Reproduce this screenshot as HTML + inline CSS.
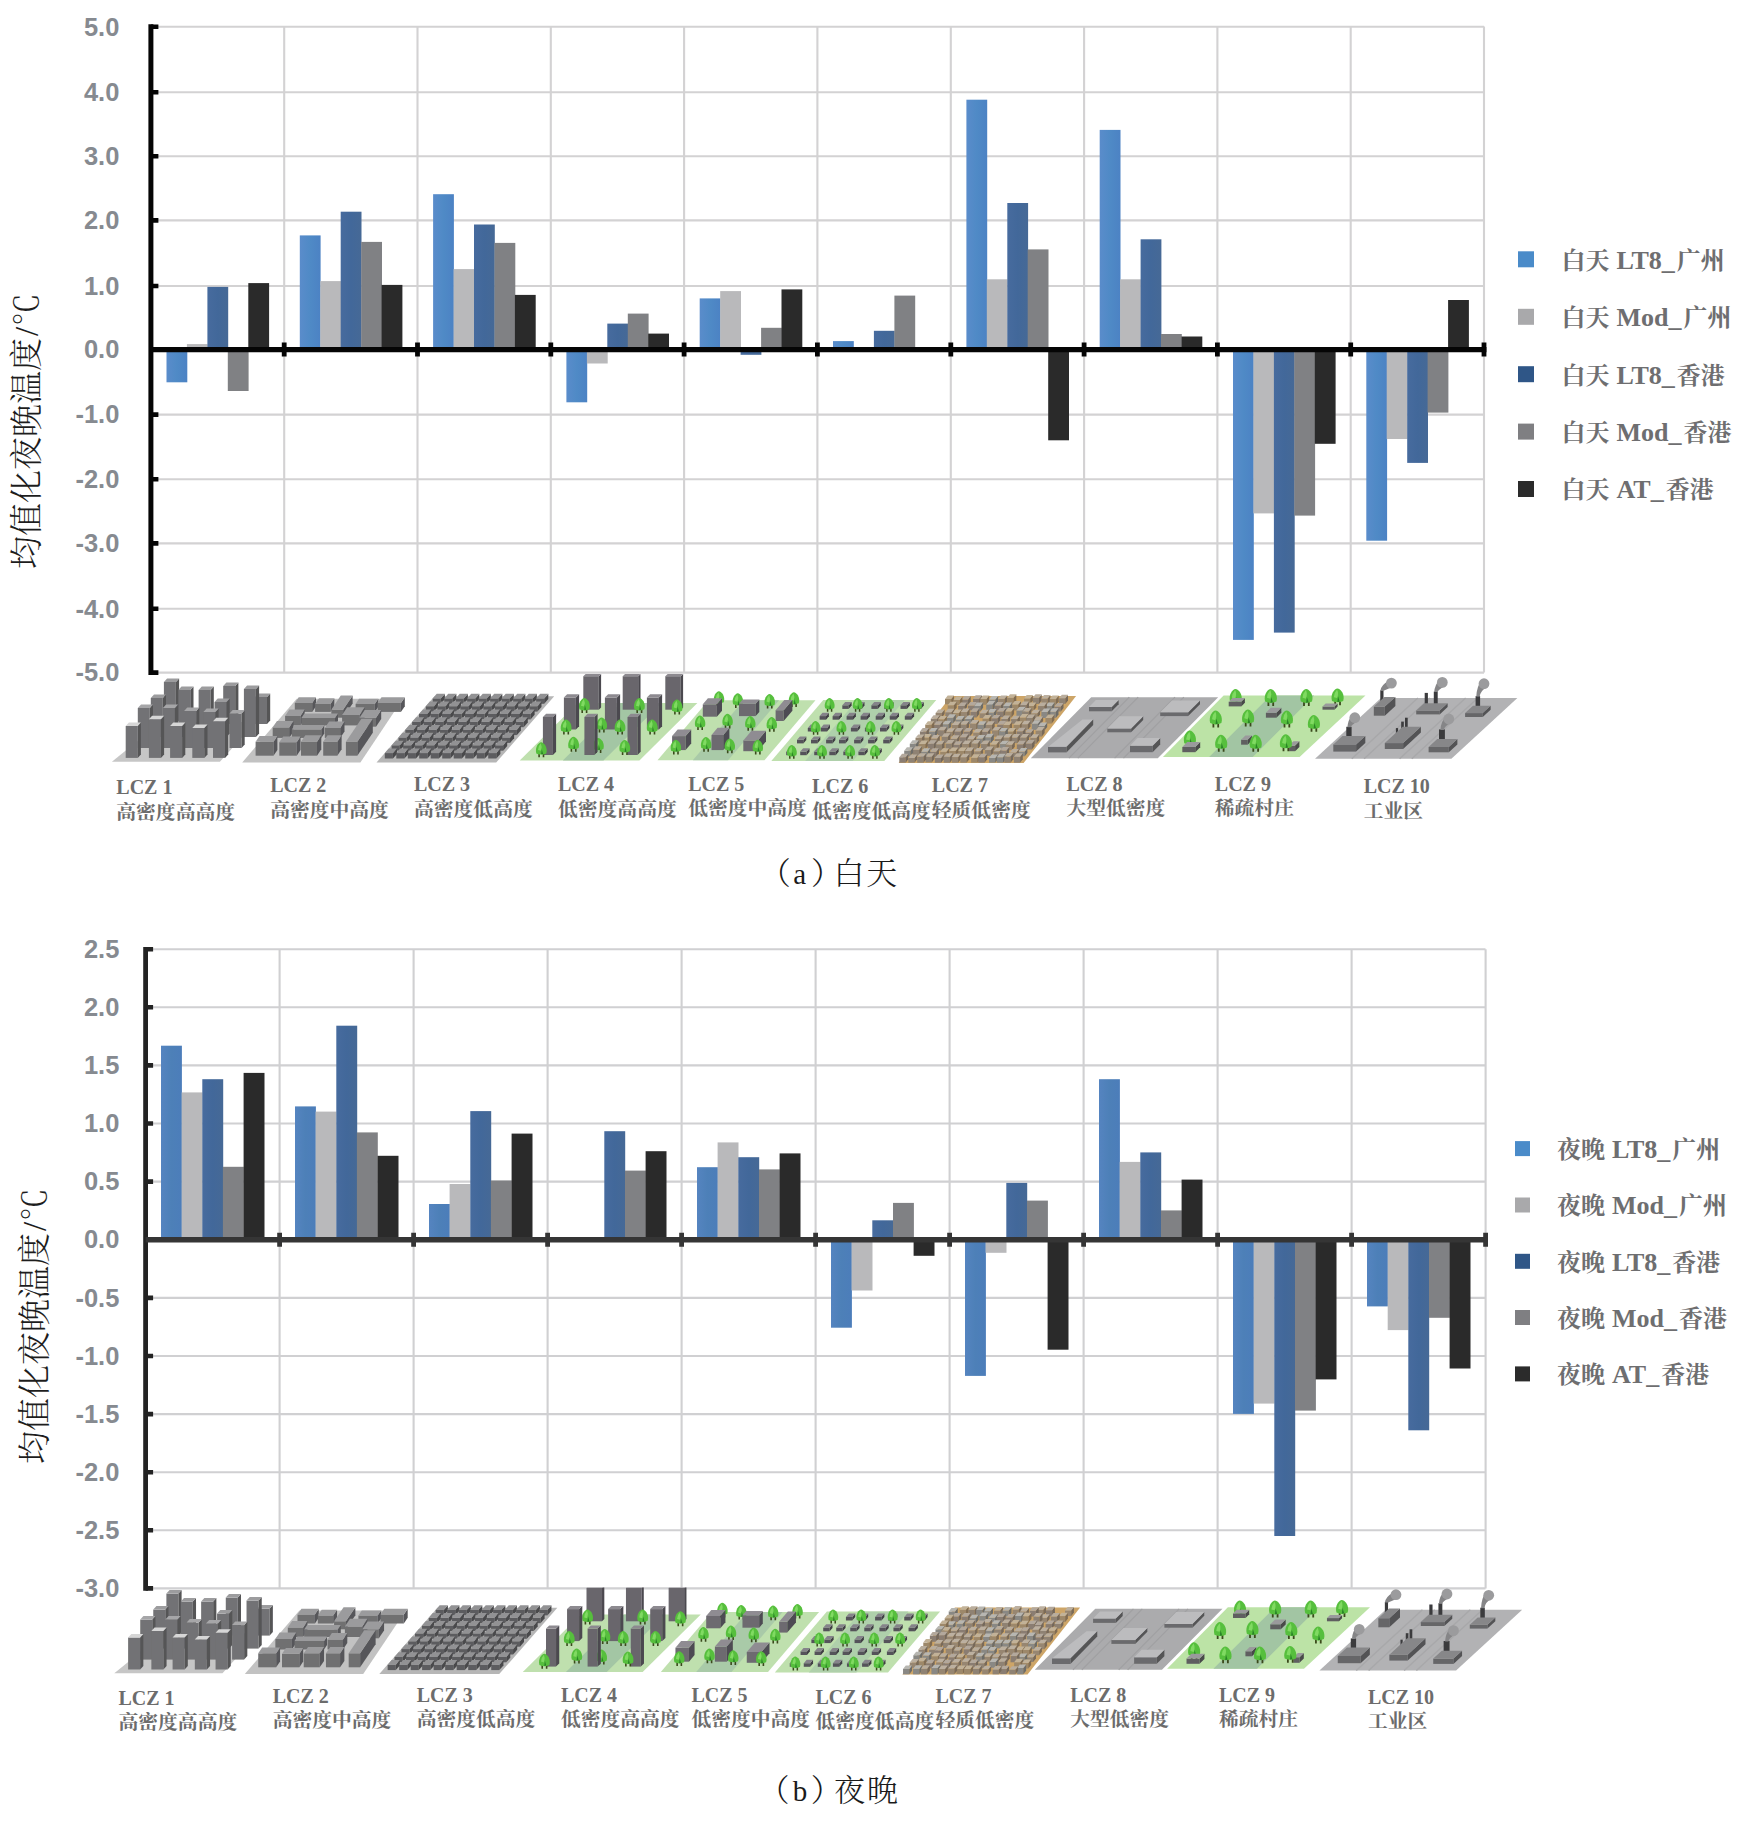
<!DOCTYPE html>
<html lang="zh"><head><meta charset="utf-8"><title>LCZ 均值化温度</title>
<style>
html,body{margin:0;padding:0;background:#fff}
body{width:1762px;height:1824px;overflow:hidden}
svg{display:block}
</style></head><body>
<svg width="1762" height="1824" viewBox="0 0 1762 1824">
<defs>
<linearGradient id="gB" x1="0" x2="1" y1="0" y2="0"><stop offset="0" stop-color="#5a8ccb"/><stop offset="0.5" stop-color="#4f8ac6"/><stop offset="1" stop-color="#4c82c4"/></linearGradient>
<linearGradient id="gD" x1="0" x2="1" y1="0" y2="0"><stop offset="0" stop-color="#476b9e"/><stop offset="0.5" stop-color="#42689a"/><stop offset="1" stop-color="#466996"/></linearGradient>
<linearGradient id="gB2" x1="0" x2="1" y1="0" y2="0"><stop offset="0" stop-color="#5584c0"/><stop offset="0.5" stop-color="#4d80b8"/><stop offset="1" stop-color="#4c7dba"/></linearGradient>
<clipPath id="cpb"><rect x="0" y="1587.6" width="1762" height="120"/></clipPath>
<filter id="bl" x="-2%" y="-10%" width="104%" height="120%"><feGaussianBlur stdDeviation="0.55"/></filter>
</defs>
<rect width="1762" height="1824" fill="#ffffff"/>

<g id="chart-a">
<path d="M150.9 26.8H1484.0M150.9 92.2H1484.0M150.9 156.2H1484.0M150.9 220.4H1484.0M150.9 286.0H1484.0M150.9 349.6H1484.0M150.9 414.6H1484.0M150.9 479.2H1484.0M150.9 543.4H1484.0M150.9 608.8H1484.0M150.9 672.6H1484.0M284.2 26.6V672.6M417.5 26.6V672.6M550.8 26.6V672.6M684.1 26.6V672.6M817.4 26.6V672.6M950.8 26.6V672.6M1084.1 26.6V672.6M1217.4 26.6V672.6M1350.7 26.6V672.6M1484.0 26.6V672.6" stroke="#d3d2d3" stroke-width="2.1" fill="none"/>
<rect x="166.5" y="349.6" width="20.8" height="32.7" fill="url(#gB)"/>
<rect x="186.9" y="344.1" width="20.8" height="5.5" fill="#b9b9bb"/>
<rect x="207.4" y="286.9" width="20.8" height="62.7" fill="url(#gD)"/>
<rect x="227.8" y="349.6" width="20.8" height="41.4" fill="#808184"/>
<rect x="248.3" y="283.1" width="20.8" height="66.5" fill="#2a2a2a"/>
<rect x="299.8" y="235.4" width="20.8" height="114.2" fill="url(#gB)"/>
<rect x="320.3" y="281.1" width="20.8" height="68.5" fill="#b9b9bb"/>
<rect x="340.7" y="211.7" width="20.8" height="137.9" fill="url(#gD)"/>
<rect x="361.2" y="241.9" width="20.8" height="107.7" fill="#808184"/>
<rect x="381.6" y="284.9" width="20.8" height="64.7" fill="#2a2a2a"/>
<rect x="433.1" y="194.2" width="20.8" height="155.4" fill="url(#gB)"/>
<rect x="453.6" y="269.1" width="20.8" height="80.5" fill="#b9b9bb"/>
<rect x="474.0" y="224.5" width="20.8" height="125.1" fill="url(#gD)"/>
<rect x="494.5" y="242.9" width="20.8" height="106.7" fill="#808184"/>
<rect x="514.9" y="294.9" width="20.8" height="54.7" fill="#2a2a2a"/>
<rect x="566.4" y="349.6" width="20.8" height="52.7" fill="url(#gB)"/>
<rect x="586.9" y="349.6" width="20.8" height="13.9" fill="#b9b9bb"/>
<rect x="607.3" y="323.6" width="20.8" height="26.0" fill="url(#gD)"/>
<rect x="627.8" y="313.6" width="20.8" height="36.0" fill="#808184"/>
<rect x="648.2" y="333.6" width="20.8" height="16.0" fill="#2a2a2a"/>
<rect x="699.7" y="298.4" width="20.8" height="51.2" fill="url(#gB)"/>
<rect x="720.2" y="291.1" width="20.8" height="58.5" fill="#b9b9bb"/>
<rect x="740.6" y="349.6" width="20.8" height="5.2" fill="url(#gD)"/>
<rect x="761.1" y="327.8" width="20.8" height="21.8" fill="#808184"/>
<rect x="781.5" y="289.4" width="20.8" height="60.2" fill="#2a2a2a"/>
<rect x="833.0" y="341.1" width="20.8" height="8.5" fill="url(#gB)"/>
<rect x="873.9" y="330.8" width="20.8" height="18.8" fill="url(#gD)"/>
<rect x="894.4" y="295.6" width="20.8" height="54.0" fill="#808184"/>
<rect x="966.4" y="99.7" width="20.8" height="249.9" fill="url(#gB)"/>
<rect x="986.8" y="279.3" width="20.8" height="70.3" fill="#b9b9bb"/>
<rect x="1007.3" y="203.0" width="20.8" height="146.6" fill="url(#gD)"/>
<rect x="1027.7" y="249.4" width="20.8" height="100.2" fill="#808184"/>
<rect x="1048.2" y="349.6" width="20.8" height="90.7" fill="#2a2a2a"/>
<rect x="1099.7" y="129.9" width="20.8" height="219.7" fill="url(#gB)"/>
<rect x="1120.1" y="279.3" width="20.8" height="70.3" fill="#b9b9bb"/>
<rect x="1140.6" y="239.3" width="20.8" height="110.3" fill="url(#gD)"/>
<rect x="1161.0" y="334.0" width="20.8" height="15.6" fill="#808184"/>
<rect x="1181.5" y="336.5" width="20.8" height="13.1" fill="#2a2a2a"/>
<rect x="1233.0" y="349.6" width="20.8" height="290.3" fill="url(#gB)"/>
<rect x="1253.4" y="349.6" width="20.8" height="163.8" fill="#b9b9bb"/>
<rect x="1273.9" y="349.6" width="20.8" height="283.0" fill="url(#gD)"/>
<rect x="1294.3" y="349.6" width="20.8" height="166.0" fill="#808184"/>
<rect x="1314.8" y="349.6" width="20.8" height="94.2" fill="#2a2a2a"/>
<rect x="1366.3" y="349.6" width="20.8" height="191.1" fill="url(#gB)"/>
<rect x="1386.7" y="349.6" width="20.8" height="89.4" fill="#b9b9bb"/>
<rect x="1407.2" y="349.6" width="20.8" height="113.3" fill="url(#gD)"/>
<rect x="1427.6" y="349.6" width="20.8" height="63.0" fill="#808184"/>
<rect x="1448.1" y="300.0" width="20.8" height="49.6" fill="#2a2a2a"/>
<path d="M150.9 26.8h7.5M150.9 92.2h7.5M150.9 156.2h7.5M150.9 220.4h7.5M150.9 286.0h7.5M150.9 349.6h7.5M150.9 414.6h7.5M150.9 479.2h7.5M150.9 543.4h7.5M150.9 608.8h7.5M150.9 672.6h7.5" stroke="#050505" stroke-width="4.6" fill="none"/>
<path d="M150.9 24.3V674.9" stroke="#050505" stroke-width="5.0" fill="none"/>
<path d="M150.9 349.6H1486.4" stroke="#050505" stroke-width="5.4" fill="none"/>
<path d="M284.2 342.6v14M417.5 342.6v14M550.8 342.6v14M684.1 342.6v14M817.4 342.6v14M950.8 342.6v14M1084.1 342.6v14M1217.4 342.6v14M1350.7 342.6v14M1484.0 342.6v14" stroke="#050505" stroke-width="4.8" fill="none"/>
<text x="119.4" y="35.5" text-anchor="end" font-family='"Liberation Sans","Noto Sans CJK SC",sans-serif' font-weight="700" font-size="25.5" fill="#868a90">5.0</text>
<text x="119.4" y="100.9" text-anchor="end" font-family='"Liberation Sans","Noto Sans CJK SC",sans-serif' font-weight="700" font-size="25.5" fill="#868a90">4.0</text>
<text x="119.4" y="164.9" text-anchor="end" font-family='"Liberation Sans","Noto Sans CJK SC",sans-serif' font-weight="700" font-size="25.5" fill="#868a90">3.0</text>
<text x="119.4" y="229.1" text-anchor="end" font-family='"Liberation Sans","Noto Sans CJK SC",sans-serif' font-weight="700" font-size="25.5" fill="#868a90">2.0</text>
<text x="119.4" y="294.7" text-anchor="end" font-family='"Liberation Sans","Noto Sans CJK SC",sans-serif' font-weight="700" font-size="25.5" fill="#868a90">1.0</text>
<text x="119.4" y="358.3" text-anchor="end" font-family='"Liberation Sans","Noto Sans CJK SC",sans-serif' font-weight="700" font-size="25.5" fill="#868a90">0.0</text>
<text x="119.4" y="423.3" text-anchor="end" font-family='"Liberation Sans","Noto Sans CJK SC",sans-serif' font-weight="700" font-size="25.5" fill="#868a90">-1.0</text>
<text x="119.4" y="487.9" text-anchor="end" font-family='"Liberation Sans","Noto Sans CJK SC",sans-serif' font-weight="700" font-size="25.5" fill="#868a90">-2.0</text>
<text x="119.4" y="552.1" text-anchor="end" font-family='"Liberation Sans","Noto Sans CJK SC",sans-serif' font-weight="700" font-size="25.5" fill="#868a90">-3.0</text>
<text x="119.4" y="617.5" text-anchor="end" font-family='"Liberation Sans","Noto Sans CJK SC",sans-serif' font-weight="700" font-size="25.5" fill="#868a90">-4.0</text>
<text x="119.4" y="681.3" text-anchor="end" font-family='"Liberation Sans","Noto Sans CJK SC",sans-serif' font-weight="700" font-size="25.5" fill="#868a90">-5.0</text>
</g>
<g id="strip-a"><g filter="url(#bl)"><polygon points="111.9,761.7 219.9,761.7 255.9,722.0 160.8,722.0" fill="#c6c6c6"/><polygon points="163.9,724.0 175.9,724.0 175.9,682.0 163.9,682.0" fill="#727274"/><polygon points="175.9,724.0 179.1,720.5 179.1,678.5 175.9,682.0" fill="#555557"/><polygon points="163.9,682.0 175.9,682.0 179.1,678.5 167.1,678.5" fill="#9c9c9e"/><polygon points="223.2,724.0 235.2,724.0 235.2,686.0 223.2,686.0" fill="#727274"/><polygon points="235.2,724.0 238.4,720.5 238.4,682.5 235.2,686.0" fill="#555557"/><polygon points="223.2,686.0 235.2,686.0 238.4,682.5 226.4,682.5" fill="#9c9c9e"/><polygon points="255.0,724.0 267.0,724.0 267.0,697.0 255.0,697.0" fill="#727274"/><polygon points="267.0,724.0 270.2,720.5 270.2,693.5 267.0,697.0" fill="#555557"/><polygon points="255.0,697.0 267.0,697.0 270.2,693.5 258.2,693.5" fill="#9c9c9e"/><polygon points="150.8,737.0 162.8,737.0 162.8,698.0 150.8,698.0" fill="#727274"/><polygon points="162.8,737.0 166.0,733.5 166.0,694.5 162.8,698.0" fill="#555557"/><polygon points="150.8,698.0 162.8,698.0 166.0,694.5 154.0,694.5" fill="#9c9c9e"/><polygon points="178.3,737.0 190.3,737.0 190.3,690.0 178.3,690.0" fill="#727274"/><polygon points="190.3,737.0 193.5,733.5 193.5,686.5 190.3,690.0" fill="#555557"/><polygon points="178.3,690.0 190.3,690.0 193.5,686.5 181.5,686.5" fill="#9c9c9e"/><polygon points="198.6,737.0 210.6,737.0 210.6,690.0 198.6,690.0" fill="#727274"/><polygon points="210.6,737.0 213.8,733.5 213.8,686.5 210.6,690.0" fill="#555557"/><polygon points="198.6,690.0 210.6,690.0 213.8,686.5 201.8,686.5" fill="#9c9c9e"/><polygon points="214.5,737.0 226.5,737.0 226.5,702.0 214.5,702.0" fill="#727274"/><polygon points="226.5,737.0 229.7,733.5 229.7,698.5 226.5,702.0" fill="#555557"/><polygon points="214.5,702.0 226.5,702.0 229.7,698.5 217.7,698.5" fill="#9c9c9e"/><polygon points="243.9,737.0 255.9,737.0 255.9,689.0 243.9,689.0" fill="#727274"/><polygon points="255.9,737.0 259.1,733.5 259.1,685.5 255.9,689.0" fill="#555557"/><polygon points="243.9,689.0 255.9,689.0 259.1,685.5 247.1,685.5" fill="#9c9c9e"/><polygon points="137.8,748.0 149.8,748.0 149.8,708.0 137.8,708.0" fill="#727274"/><polygon points="149.8,748.0 153.0,744.5 153.0,704.5 149.8,708.0" fill="#555557"/><polygon points="137.8,708.0 149.8,708.0 153.0,704.5 141.0,704.5" fill="#a6a6a8"/><polygon points="162.9,748.0 174.9,748.0 174.9,708.0 162.9,708.0" fill="#727274"/><polygon points="174.9,748.0 178.1,744.5 178.1,704.5 174.9,708.0" fill="#555557"/><polygon points="162.9,708.0 174.9,708.0 178.1,704.5 166.1,704.5" fill="#a6a6a8"/><polygon points="184.1,748.0 196.1,748.0 196.1,711.0 184.1,711.0" fill="#727274"/><polygon points="196.1,748.0 199.3,744.5 199.3,707.5 196.1,711.0" fill="#555557"/><polygon points="184.1,711.0 196.1,711.0 199.3,707.5 187.3,707.5" fill="#a6a6a8"/><polygon points="203.4,748.0 215.4,748.0 215.4,712.0 203.4,712.0" fill="#727274"/><polygon points="215.4,748.0 218.6,744.5 218.6,708.5 215.4,712.0" fill="#555557"/><polygon points="203.4,712.0 215.4,712.0 218.6,708.5 206.6,708.5" fill="#a6a6a8"/><polygon points="229.5,748.0 241.5,748.0 241.5,713.5 229.5,713.5" fill="#727274"/><polygon points="241.5,748.0 244.7,744.5 244.7,710.0 241.5,713.5" fill="#555557"/><polygon points="229.5,713.5 241.5,713.5 244.7,710.0 232.7,710.0" fill="#a6a6a8"/><polygon points="125.7,757.9 137.7,757.9 137.7,725.9 125.7,725.9" fill="#727274"/><polygon points="137.7,757.9 140.9,754.4 140.9,722.4 137.7,725.9" fill="#555557"/><polygon points="125.7,725.9 137.7,725.9 140.9,722.4 128.9,722.4" fill="#d6d6d6"/><polygon points="148.9,757.9 160.9,757.9 160.9,719.3 148.9,719.3" fill="#727274"/><polygon points="160.9,757.9 164.1,754.4 164.1,715.8 160.9,719.3" fill="#555557"/><polygon points="148.9,719.3 160.9,719.3 164.1,715.8 152.1,715.8" fill="#d6d6d6"/><polygon points="170.1,757.9 182.1,757.9 182.1,725.9 170.1,725.9" fill="#727274"/><polygon points="182.1,757.9 185.3,754.4 185.3,722.4 182.1,725.9" fill="#555557"/><polygon points="170.1,725.9 182.1,725.9 185.3,722.4 173.3,722.4" fill="#d6d6d6"/><polygon points="192.3,757.9 204.3,757.9 204.3,727.9 192.3,727.9" fill="#727274"/><polygon points="204.3,757.9 207.5,754.4 207.5,724.4 204.3,727.9" fill="#555557"/><polygon points="192.3,727.9 204.3,727.9 207.5,724.4 195.5,724.4" fill="#d6d6d6"/><polygon points="213.0,757.9 225.0,757.9 225.0,721.2 213.0,721.2" fill="#727274"/><polygon points="225.0,757.9 228.2,754.4 228.2,717.7 225.0,721.2" fill="#555557"/><polygon points="213.0,721.2 225.0,721.2 228.2,717.7 216.2,717.7" fill="#d6d6d6"/><polygon points="242.2,762.5 360.4,762.5 402.9,698.8 296.7,698.8" fill="#c2c2c2"/><polygon points="294.8,711.9 312.2,711.9 312.2,702.9 294.8,702.9" fill="#6f6f71"/><polygon points="312.2,711.9 316.0,706.2 316.0,697.2 312.2,702.9" fill="#57575a"/><polygon points="294.8,702.9 312.2,702.9 316.0,697.2 298.7,697.2" fill="#9b9b9d"/><polygon points="315.1,711.9 330.5,711.9 330.5,703.9 315.1,703.9" fill="#6f6f71"/><polygon points="330.5,711.9 334.3,706.2 334.3,698.2 330.5,703.9" fill="#57575a"/><polygon points="315.1,703.9 330.5,703.9 334.3,698.2 319.0,698.2" fill="#9b9b9d"/><polygon points="355.6,711.9 374.8,711.9 374.8,703.9 355.6,703.9" fill="#6f6f71"/><polygon points="374.8,711.9 378.3,706.8 378.3,698.8 374.8,703.9" fill="#57575a"/><polygon points="355.6,703.9 374.8,703.9 378.3,698.8 359.0,698.8" fill="#9b9b9d"/><polygon points="377.6,711.9 400.9,711.9 400.9,702.9 377.6,702.9" fill="#6f6f71"/><polygon points="400.9,711.9 404.8,706.2 404.8,697.2 400.9,702.9" fill="#57575a"/><polygon points="377.6,702.9 400.9,702.9 404.8,697.2 381.5,697.2" fill="#9b9b9d"/><polygon points="331.3,717.7 343.1,717.7 343.1,709.7 331.3,709.7" fill="#6f6f71"/><polygon points="343.1,717.7 352.6,703.6 352.6,695.6 343.1,709.7" fill="#57575a"/><polygon points="331.3,709.7 343.1,709.7 352.6,695.6 340.8,695.6" fill="#9b9b9d"/><polygon points="285.1,725.4 300.4,725.4 300.4,715.9 285.1,715.9" fill="#6f6f71"/><polygon points="300.4,725.4 304.7,719.0 304.7,709.5 300.4,715.9" fill="#57575a"/><polygon points="285.1,715.9 300.4,715.9 304.7,709.5 289.4,709.5" fill="#9b9b9d"/><polygon points="301.4,725.4 335.0,725.4 335.0,717.9 301.4,717.9" fill="#6f6f71"/><polygon points="335.0,725.4 338.0,720.9 338.0,713.4 335.0,717.9" fill="#57575a"/><polygon points="301.4,717.9 335.0,717.9 338.0,713.4 304.4,713.4" fill="#9b9b9d"/><polygon points="342.1,725.4 359.4,725.4 359.4,714.9 342.1,714.9" fill="#6f6f71"/><polygon points="359.4,725.4 364.6,717.7 364.6,707.2 359.4,714.9" fill="#57575a"/><polygon points="342.1,714.9 359.4,714.9 364.6,707.2 347.2,707.2" fill="#9b9b9d"/><polygon points="359.5,726.7 376.0,726.7 376.0,717.7 359.5,717.7" fill="#6f6f71"/><polygon points="376.0,726.7 381.2,719.0 381.2,710.0 376.0,717.7" fill="#57575a"/><polygon points="359.5,717.7 376.0,717.7 381.2,710.0 364.7,710.0" fill="#9b9b9d"/><polygon points="272.7,737.9 289.2,737.9 289.2,727.4 272.7,727.4" fill="#6f6f71"/><polygon points="289.2,737.9 293.5,731.5 293.5,721.0 289.2,727.4" fill="#57575a"/><polygon points="272.7,727.4 289.2,727.4 293.5,721.0 277.0,721.0" fill="#9b9b9d"/><polygon points="291.8,737.9 321.3,737.9 321.3,729.4 291.8,729.4" fill="#6f6f71"/><polygon points="321.3,737.9 324.3,733.4 324.3,724.9 321.3,729.4" fill="#57575a"/><polygon points="291.8,729.4 321.3,729.4 324.3,724.9 294.8,724.9" fill="#9b9b9d"/><polygon points="324.8,737.9 340.2,737.9 340.2,727.9 324.8,727.9" fill="#6f6f71"/><polygon points="340.2,737.9 344.5,731.5 344.5,721.5 340.2,727.9" fill="#57575a"/><polygon points="324.8,727.9 340.2,727.9 344.5,721.5 329.1,721.5" fill="#9b9b9d"/><polygon points="255.6,755.7 273.5,755.7 273.5,741.7 255.6,741.7" fill="#6f6f71"/><polygon points="273.5,755.7 277.4,750.0 277.4,736.0 273.5,741.7" fill="#57575a"/><polygon points="255.6,741.7 273.5,741.7 277.4,736.0 259.5,736.0" fill="#9b9b9d"/><polygon points="279.3,755.7 296.7,755.7 296.7,742.2 279.3,742.2" fill="#6f6f71"/><polygon points="296.7,755.7 300.5,750.0 300.5,736.5 296.7,742.2" fill="#57575a"/><polygon points="279.3,742.2 296.7,742.2 300.5,736.5 283.2,736.5" fill="#9b9b9d"/><polygon points="301.0,755.7 317.0,755.7 317.0,741.7 301.0,741.7" fill="#6f6f71"/><polygon points="317.0,755.7 321.3,749.3 321.3,735.3 317.0,741.7" fill="#57575a"/><polygon points="301.0,741.7 317.0,741.7 321.3,735.3 305.3,735.3" fill="#9b9b9d"/><polygon points="323.2,755.7 337.3,755.7 337.3,741.7 323.2,741.7" fill="#6f6f71"/><polygon points="337.3,755.7 341.6,749.3 341.6,735.3 337.3,741.7" fill="#57575a"/><polygon points="323.2,741.7 337.3,741.7 341.6,735.3 327.5,735.3" fill="#9b9b9d"/><polygon points="345.9,755.7 357.3,755.7 357.3,741.7 345.9,741.7" fill="#6f6f71"/><polygon points="357.3,755.7 372.8,732.7 372.8,718.7 357.3,741.7" fill="#57575a"/><polygon points="345.9,741.7 357.3,741.7 372.8,718.7 361.4,718.7" fill="#9b9b9d"/><polygon points="376.5,762.5 496.2,762.5 554.2,696.2 434.5,696.2" fill="#b6b6b6"/><polygon points="432.7,703.8 440.8,703.8 440.8,698.4 432.7,698.4" fill="#5c5c5e"/><polygon points="440.8,703.8 444.9,699.1 444.9,693.7 440.8,698.4" fill="#4a4a4c"/><polygon points="432.7,698.4 440.8,698.4 444.9,693.7 436.7,693.7" fill="#929294"/><polygon points="444.2,703.8 452.3,703.8 452.3,698.4 444.2,698.4" fill="#5c5c5e"/><polygon points="452.3,703.8 456.4,699.1 456.4,693.7 452.3,698.4" fill="#4a4a4c"/><polygon points="444.2,698.4 452.3,698.4 456.4,693.7 448.2,693.7" fill="#929294"/><polygon points="455.7,703.8 463.8,703.8 463.8,698.4 455.7,698.4" fill="#5c5c5e"/><polygon points="463.8,703.8 467.9,699.1 467.9,693.7 463.8,698.4" fill="#4a4a4c"/><polygon points="455.7,698.4 463.8,698.4 467.9,693.7 459.7,693.7" fill="#929294"/><polygon points="467.1,703.8 475.3,703.8 475.3,698.4 467.1,698.4" fill="#5c5c5e"/><polygon points="475.3,703.8 479.3,699.1 479.3,693.7 475.3,698.4" fill="#4a4a4c"/><polygon points="467.1,698.4 475.3,698.4 479.3,693.7 471.2,693.7" fill="#929294"/><polygon points="478.6,703.8 486.8,703.8 486.8,698.4 478.6,698.4" fill="#5c5c5e"/><polygon points="486.8,703.8 490.8,699.1 490.8,693.7 486.8,698.4" fill="#4a4a4c"/><polygon points="478.6,698.4 486.8,698.4 490.8,693.7 482.7,693.7" fill="#929294"/><polygon points="490.1,703.8 498.3,703.8 498.3,698.4 490.1,698.4" fill="#5c5c5e"/><polygon points="498.3,703.8 502.3,699.1 502.3,693.7 498.3,698.4" fill="#4a4a4c"/><polygon points="490.1,698.4 498.3,698.4 502.3,693.7 494.2,693.7" fill="#929294"/><polygon points="501.6,703.8 509.8,703.8 509.8,698.4 501.6,698.4" fill="#5c5c5e"/><polygon points="509.8,703.8 513.8,699.1 513.8,693.7 509.8,698.4" fill="#4a4a4c"/><polygon points="501.6,698.4 509.8,698.4 513.8,693.7 505.7,693.7" fill="#929294"/><polygon points="513.1,703.8 521.3,703.8 521.3,698.4 513.1,698.4" fill="#5c5c5e"/><polygon points="521.3,703.8 525.3,699.1 525.3,693.7 521.3,698.4" fill="#4a4a4c"/><polygon points="513.1,698.4 521.3,698.4 525.3,693.7 517.2,693.7" fill="#929294"/><polygon points="524.6,703.8 532.7,703.8 532.7,698.4 524.6,698.4" fill="#5c5c5e"/><polygon points="532.7,703.8 536.8,699.1 536.8,693.7 532.7,698.4" fill="#4a4a4c"/><polygon points="524.6,698.4 532.7,698.4 536.8,693.7 528.7,693.7" fill="#929294"/><polygon points="536.1,703.8 544.2,703.8 544.2,698.4 536.1,698.4" fill="#5c5c5e"/><polygon points="544.2,703.8 548.3,699.1 548.3,693.7 544.2,698.4" fill="#4a4a4c"/><polygon points="536.1,698.4 544.2,698.4 548.3,693.7 540.2,693.7" fill="#929294"/><polygon points="425.8,711.6 434.0,711.6 434.0,706.2 425.8,706.2" fill="#5c5c5e"/><polygon points="434.0,711.6 438.0,706.9 438.0,701.5 434.0,706.2" fill="#4a4a4c"/><polygon points="425.8,706.2 434.0,706.2 438.0,701.5 429.9,701.5" fill="#929294"/><polygon points="437.3,711.6 445.5,711.6 445.5,706.2 437.3,706.2" fill="#5c5c5e"/><polygon points="445.5,711.6 449.5,706.9 449.5,701.5 445.5,706.2" fill="#4a4a4c"/><polygon points="437.3,706.2 445.5,706.2 449.5,701.5 441.4,701.5" fill="#929294"/><polygon points="448.8,711.6 457.0,711.6 457.0,706.2 448.8,706.2" fill="#5c5c5e"/><polygon points="457.0,711.6 461.0,706.9 461.0,701.5 457.0,706.2" fill="#4a4a4c"/><polygon points="448.8,706.2 457.0,706.2 461.0,701.5 452.9,701.5" fill="#929294"/><polygon points="460.3,711.6 468.4,711.6 468.4,706.2 460.3,706.2" fill="#5c5c5e"/><polygon points="468.4,711.6 472.5,706.9 472.5,701.5 468.4,706.2" fill="#4a4a4c"/><polygon points="460.3,706.2 468.4,706.2 472.5,701.5 464.4,701.5" fill="#929294"/><polygon points="471.8,711.6 479.9,711.6 479.9,706.2 471.8,706.2" fill="#5c5c5e"/><polygon points="479.9,711.6 484.0,706.9 484.0,701.5 479.9,706.2" fill="#4a4a4c"/><polygon points="471.8,706.2 479.9,706.2 484.0,701.5 475.9,701.5" fill="#929294"/><polygon points="483.3,711.6 491.4,711.6 491.4,706.2 483.3,706.2" fill="#5c5c5e"/><polygon points="491.4,711.6 495.5,706.9 495.5,701.5 491.4,706.2" fill="#4a4a4c"/><polygon points="483.3,706.2 491.4,706.2 495.5,701.5 487.3,701.5" fill="#929294"/><polygon points="494.8,711.6 502.9,711.6 502.9,706.2 494.8,706.2" fill="#5c5c5e"/><polygon points="502.9,711.6 507.0,706.9 507.0,701.5 502.9,706.2" fill="#4a4a4c"/><polygon points="494.8,706.2 502.9,706.2 507.0,701.5 498.8,701.5" fill="#929294"/><polygon points="506.3,711.6 514.4,711.6 514.4,706.2 506.3,706.2" fill="#5c5c5e"/><polygon points="514.4,711.6 518.5,706.9 518.5,701.5 514.4,706.2" fill="#4a4a4c"/><polygon points="506.3,706.2 514.4,706.2 518.5,701.5 510.3,701.5" fill="#929294"/><polygon points="517.8,711.6 525.9,711.6 525.9,706.2 517.8,706.2" fill="#5c5c5e"/><polygon points="525.9,711.6 530.0,706.9 530.0,701.5 525.9,706.2" fill="#4a4a4c"/><polygon points="517.8,706.2 525.9,706.2 530.0,701.5 521.8,701.5" fill="#929294"/><polygon points="529.3,711.6 537.4,711.6 537.4,706.2 529.3,706.2" fill="#5c5c5e"/><polygon points="537.4,711.6 541.5,706.9 541.5,701.5 537.4,706.2" fill="#4a4a4c"/><polygon points="529.3,706.2 537.4,706.2 541.5,701.5 533.3,701.5" fill="#929294"/><polygon points="419.0,719.4 427.1,719.4 427.1,714.0 419.0,714.0" fill="#5c5c5e"/><polygon points="427.1,719.4 431.2,714.8 431.2,709.4 427.1,714.0" fill="#4a4a4c"/><polygon points="419.0,714.0 427.1,714.0 431.2,709.4 423.0,709.4" fill="#929294"/><polygon points="430.5,719.4 438.6,719.4 438.6,714.0 430.5,714.0" fill="#5c5c5e"/><polygon points="438.6,719.4 442.7,714.8 442.7,709.4 438.6,714.0" fill="#4a4a4c"/><polygon points="430.5,714.0 438.6,714.0 442.7,709.4 434.5,709.4" fill="#929294"/><polygon points="442.0,719.4 450.1,719.4 450.1,714.0 442.0,714.0" fill="#5c5c5e"/><polygon points="450.1,719.4 454.2,714.8 454.2,709.4 450.1,714.0" fill="#4a4a4c"/><polygon points="442.0,714.0 450.1,714.0 454.2,709.4 446.0,709.4" fill="#929294"/><polygon points="453.5,719.4 461.6,719.4 461.6,714.0 453.5,714.0" fill="#5c5c5e"/><polygon points="461.6,719.4 465.7,714.8 465.7,709.4 461.6,714.0" fill="#4a4a4c"/><polygon points="453.5,714.0 461.6,714.0 465.7,709.4 457.5,709.4" fill="#929294"/><polygon points="465.0,719.4 473.1,719.4 473.1,714.0 465.0,714.0" fill="#5c5c5e"/><polygon points="473.1,719.4 477.2,714.8 477.2,709.4 473.1,714.0" fill="#4a4a4c"/><polygon points="465.0,714.0 473.1,714.0 477.2,709.4 469.0,709.4" fill="#929294"/><polygon points="476.4,719.4 484.6,719.4 484.6,714.0 476.4,714.0" fill="#5c5c5e"/><polygon points="484.6,719.4 488.6,714.8 488.6,709.4 484.6,714.0" fill="#4a4a4c"/><polygon points="476.4,714.0 484.6,714.0 488.6,709.4 480.5,709.4" fill="#929294"/><polygon points="487.9,719.4 496.1,719.4 496.1,714.0 487.9,714.0" fill="#5c5c5e"/><polygon points="496.1,719.4 500.1,714.8 500.1,709.4 496.1,714.0" fill="#4a4a4c"/><polygon points="487.9,714.0 496.1,714.0 500.1,709.4 492.0,709.4" fill="#929294"/><polygon points="499.4,719.4 507.6,719.4 507.6,714.0 499.4,714.0" fill="#5c5c5e"/><polygon points="507.6,719.4 511.6,714.8 511.6,709.4 507.6,714.0" fill="#4a4a4c"/><polygon points="499.4,714.0 507.6,714.0 511.6,709.4 503.5,709.4" fill="#929294"/><polygon points="510.9,719.4 519.1,719.4 519.1,714.0 510.9,714.0" fill="#5c5c5e"/><polygon points="519.1,719.4 523.1,714.8 523.1,709.4 519.1,714.0" fill="#4a4a4c"/><polygon points="510.9,714.0 519.1,714.0 523.1,709.4 515.0,709.4" fill="#929294"/><polygon points="522.4,719.4 530.5,719.4 530.5,714.0 522.4,714.0" fill="#5c5c5e"/><polygon points="530.5,719.4 534.6,714.8 534.6,709.4 530.5,714.0" fill="#4a4a4c"/><polygon points="522.4,714.0 530.5,714.0 534.6,709.4 526.5,709.4" fill="#929294"/><polygon points="412.1,727.2 420.3,727.2 420.3,721.8 412.1,721.8" fill="#5c5c5e"/><polygon points="420.3,727.2 424.3,722.6 424.3,717.2 420.3,721.8" fill="#4a4a4c"/><polygon points="412.1,721.8 420.3,721.8 424.3,717.2 416.2,717.2" fill="#929294"/><polygon points="423.6,727.2 431.8,727.2 431.8,721.8 423.6,721.8" fill="#5c5c5e"/><polygon points="431.8,727.2 435.8,722.6 435.8,717.2 431.8,721.8" fill="#4a4a4c"/><polygon points="423.6,721.8 431.8,721.8 435.8,717.2 427.7,717.2" fill="#929294"/><polygon points="435.1,727.2 443.3,727.2 443.3,721.8 435.1,721.8" fill="#5c5c5e"/><polygon points="443.3,727.2 447.3,722.6 447.3,717.2 443.3,721.8" fill="#4a4a4c"/><polygon points="435.1,721.8 443.3,721.8 447.3,717.2 439.2,717.2" fill="#929294"/><polygon points="446.6,727.2 454.8,727.2 454.8,721.8 446.6,721.8" fill="#5c5c5e"/><polygon points="454.8,727.2 458.8,722.6 458.8,717.2 454.8,721.8" fill="#4a4a4c"/><polygon points="446.6,721.8 454.8,721.8 458.8,717.2 450.7,717.2" fill="#929294"/><polygon points="458.1,727.2 466.2,727.2 466.2,721.8 458.1,721.8" fill="#5c5c5e"/><polygon points="466.2,727.2 470.3,722.6 470.3,717.2 466.2,721.8" fill="#4a4a4c"/><polygon points="458.1,721.8 466.2,721.8 470.3,717.2 462.2,717.2" fill="#929294"/><polygon points="469.6,727.2 477.7,727.2 477.7,721.8 469.6,721.8" fill="#5c5c5e"/><polygon points="477.7,727.2 481.8,722.6 481.8,717.2 477.7,721.8" fill="#4a4a4c"/><polygon points="469.6,721.8 477.7,721.8 481.8,717.2 473.7,717.2" fill="#929294"/><polygon points="481.1,727.2 489.2,727.2 489.2,721.8 481.1,721.8" fill="#5c5c5e"/><polygon points="489.2,727.2 493.3,722.6 493.3,717.2 489.2,721.8" fill="#4a4a4c"/><polygon points="481.1,721.8 489.2,721.8 493.3,717.2 485.2,717.2" fill="#929294"/><polygon points="492.6,727.2 500.7,727.2 500.7,721.8 492.6,721.8" fill="#5c5c5e"/><polygon points="500.7,727.2 504.8,722.6 504.8,717.2 500.7,721.8" fill="#4a4a4c"/><polygon points="492.6,721.8 500.7,721.8 504.8,717.2 496.6,717.2" fill="#929294"/><polygon points="504.1,727.2 512.2,727.2 512.2,721.8 504.1,721.8" fill="#5c5c5e"/><polygon points="512.2,727.2 516.3,722.6 516.3,717.2 512.2,721.8" fill="#4a4a4c"/><polygon points="504.1,721.8 512.2,721.8 516.3,717.2 508.1,717.2" fill="#929294"/><polygon points="515.6,727.2 523.7,727.2 523.7,721.8 515.6,721.8" fill="#5c5c5e"/><polygon points="523.7,727.2 527.8,722.6 527.8,717.2 523.7,721.8" fill="#4a4a4c"/><polygon points="515.6,721.8 523.7,721.8 527.8,717.2 519.6,717.2" fill="#929294"/><polygon points="405.3,735.1 413.4,735.1 413.4,729.7 405.3,729.7" fill="#5c5c5e"/><polygon points="413.4,735.1 417.5,730.4 417.5,725.0 413.4,729.7" fill="#4a4a4c"/><polygon points="405.3,729.7 413.4,729.7 417.5,725.0 409.4,725.0" fill="#929294"/><polygon points="416.8,735.1 424.9,735.1 424.9,729.7 416.8,729.7" fill="#5c5c5e"/><polygon points="424.9,735.1 429.0,730.4 429.0,725.0 424.9,729.7" fill="#4a4a4c"/><polygon points="416.8,729.7 424.9,729.7 429.0,725.0 420.9,725.0" fill="#929294"/><polygon points="428.3,735.1 436.4,735.1 436.4,729.7 428.3,729.7" fill="#5c5c5e"/><polygon points="436.4,735.1 440.5,730.4 440.5,725.0 436.4,729.7" fill="#4a4a4c"/><polygon points="428.3,729.7 436.4,729.7 440.5,725.0 432.3,725.0" fill="#929294"/><polygon points="439.8,735.1 447.9,735.1 447.9,729.7 439.8,729.7" fill="#5c5c5e"/><polygon points="447.9,735.1 452.0,730.4 452.0,725.0 447.9,729.7" fill="#4a4a4c"/><polygon points="439.8,729.7 447.9,729.7 452.0,725.0 443.8,725.0" fill="#929294"/><polygon points="451.3,735.1 459.4,735.1 459.4,729.7 451.3,729.7" fill="#5c5c5e"/><polygon points="459.4,735.1 463.5,730.4 463.5,725.0 459.4,729.7" fill="#4a4a4c"/><polygon points="451.3,729.7 459.4,729.7 463.5,725.0 455.3,725.0" fill="#929294"/><polygon points="462.8,735.1 470.9,735.1 470.9,729.7 462.8,729.7" fill="#5c5c5e"/><polygon points="470.9,735.1 475.0,730.4 475.0,725.0 470.9,729.7" fill="#4a4a4c"/><polygon points="462.8,729.7 470.9,729.7 475.0,725.0 466.8,725.0" fill="#929294"/><polygon points="474.2,735.1 482.4,735.1 482.4,729.7 474.2,729.7" fill="#5c5c5e"/><polygon points="482.4,735.1 486.4,730.4 486.4,725.0 482.4,729.7" fill="#4a4a4c"/><polygon points="474.2,729.7 482.4,729.7 486.4,725.0 478.3,725.0" fill="#929294"/><polygon points="485.7,735.1 493.9,735.1 493.9,729.7 485.7,729.7" fill="#5c5c5e"/><polygon points="493.9,735.1 497.9,730.4 497.9,725.0 493.9,729.7" fill="#4a4a4c"/><polygon points="485.7,729.7 493.9,729.7 497.9,725.0 489.8,725.0" fill="#929294"/><polygon points="497.2,735.1 505.4,735.1 505.4,729.7 497.2,729.7" fill="#5c5c5e"/><polygon points="505.4,735.1 509.4,730.4 509.4,725.0 505.4,729.7" fill="#4a4a4c"/><polygon points="497.2,729.7 505.4,729.7 509.4,725.0 501.3,725.0" fill="#929294"/><polygon points="508.7,735.1 516.9,735.1 516.9,729.7 508.7,729.7" fill="#5c5c5e"/><polygon points="516.9,735.1 520.9,730.4 520.9,725.0 516.9,729.7" fill="#4a4a4c"/><polygon points="508.7,729.7 516.9,729.7 520.9,725.0 512.8,725.0" fill="#929294"/><polygon points="398.5,742.9 406.6,742.9 406.6,737.5 398.5,737.5" fill="#5c5c5e"/><polygon points="406.6,742.9 410.7,738.2 410.7,732.8 406.6,737.5" fill="#4a4a4c"/><polygon points="398.5,737.5 406.6,737.5 410.7,732.8 402.5,732.8" fill="#929294"/><polygon points="409.9,742.9 418.1,742.9 418.1,737.5 409.9,737.5" fill="#5c5c5e"/><polygon points="418.1,742.9 422.1,738.2 422.1,732.8 418.1,737.5" fill="#4a4a4c"/><polygon points="409.9,737.5 418.1,737.5 422.1,732.8 414.0,732.8" fill="#929294"/><polygon points="421.4,742.9 429.6,742.9 429.6,737.5 421.4,737.5" fill="#5c5c5e"/><polygon points="429.6,742.9 433.6,738.2 433.6,732.8 429.6,737.5" fill="#4a4a4c"/><polygon points="421.4,737.5 429.6,737.5 433.6,732.8 425.5,732.8" fill="#929294"/><polygon points="432.9,742.9 441.1,742.9 441.1,737.5 432.9,737.5" fill="#5c5c5e"/><polygon points="441.1,742.9 445.1,738.2 445.1,732.8 441.1,737.5" fill="#4a4a4c"/><polygon points="432.9,737.5 441.1,737.5 445.1,732.8 437.0,732.8" fill="#929294"/><polygon points="444.4,742.9 452.6,742.9 452.6,737.5 444.4,737.5" fill="#5c5c5e"/><polygon points="452.6,742.9 456.6,738.2 456.6,732.8 452.6,737.5" fill="#4a4a4c"/><polygon points="444.4,737.5 452.6,737.5 456.6,732.8 448.5,732.8" fill="#929294"/><polygon points="455.9,742.9 464.1,742.9 464.1,737.5 455.9,737.5" fill="#5c5c5e"/><polygon points="464.1,742.9 468.1,738.2 468.1,732.8 464.1,737.5" fill="#4a4a4c"/><polygon points="455.9,737.5 464.1,737.5 468.1,732.8 460.0,732.8" fill="#929294"/><polygon points="467.4,742.9 475.5,742.9 475.5,737.5 467.4,737.5" fill="#5c5c5e"/><polygon points="475.5,742.9 479.6,738.2 479.6,732.8 475.5,737.5" fill="#4a4a4c"/><polygon points="467.4,737.5 475.5,737.5 479.6,732.8 471.5,732.8" fill="#929294"/><polygon points="478.9,742.9 487.0,742.9 487.0,737.5 478.9,737.5" fill="#5c5c5e"/><polygon points="487.0,742.9 491.1,738.2 491.1,732.8 487.0,737.5" fill="#4a4a4c"/><polygon points="478.9,737.5 487.0,737.5 491.1,732.8 483.0,732.8" fill="#929294"/><polygon points="490.4,742.9 498.5,742.9 498.5,737.5 490.4,737.5" fill="#5c5c5e"/><polygon points="498.5,742.9 502.6,738.2 502.6,732.8 498.5,737.5" fill="#4a4a4c"/><polygon points="490.4,737.5 498.5,737.5 502.6,732.8 494.4,732.8" fill="#929294"/><polygon points="501.9,742.9 510.0,742.9 510.0,737.5 501.9,737.5" fill="#5c5c5e"/><polygon points="510.0,742.9 514.1,738.2 514.1,732.8 510.0,737.5" fill="#4a4a4c"/><polygon points="501.9,737.5 510.0,737.5 514.1,732.8 505.9,732.8" fill="#929294"/><polygon points="391.6,750.7 399.8,750.7 399.8,745.3 391.6,745.3" fill="#5c5c5e"/><polygon points="399.8,750.7 403.8,746.1 403.8,740.7 399.8,745.3" fill="#4a4a4c"/><polygon points="391.6,745.3 399.8,745.3 403.8,740.7 395.7,740.7" fill="#929294"/><polygon points="403.1,750.7 411.2,750.7 411.2,745.3 403.1,745.3" fill="#5c5c5e"/><polygon points="411.2,750.7 415.3,746.1 415.3,740.7 411.2,745.3" fill="#4a4a4c"/><polygon points="403.1,745.3 411.2,745.3 415.3,740.7 407.2,740.7" fill="#929294"/><polygon points="414.6,750.7 422.7,750.7 422.7,745.3 414.6,745.3" fill="#5c5c5e"/><polygon points="422.7,750.7 426.8,746.1 426.8,740.7 422.7,745.3" fill="#4a4a4c"/><polygon points="414.6,745.3 422.7,745.3 426.8,740.7 418.7,740.7" fill="#929294"/><polygon points="426.1,750.7 434.2,750.7 434.2,745.3 426.1,745.3" fill="#5c5c5e"/><polygon points="434.2,750.7 438.3,746.1 438.3,740.7 434.2,745.3" fill="#4a4a4c"/><polygon points="426.1,745.3 434.2,745.3 438.3,740.7 430.1,740.7" fill="#929294"/><polygon points="437.6,750.7 445.7,750.7 445.7,745.3 437.6,745.3" fill="#5c5c5e"/><polygon points="445.7,750.7 449.8,746.1 449.8,740.7 445.7,745.3" fill="#4a4a4c"/><polygon points="437.6,745.3 445.7,745.3 449.8,740.7 441.6,740.7" fill="#929294"/><polygon points="449.1,750.7 457.2,750.7 457.2,745.3 449.1,745.3" fill="#5c5c5e"/><polygon points="457.2,750.7 461.3,746.1 461.3,740.7 457.2,745.3" fill="#4a4a4c"/><polygon points="449.1,745.3 457.2,745.3 461.3,740.7 453.1,740.7" fill="#929294"/><polygon points="460.6,750.7 468.7,750.7 468.7,745.3 460.6,745.3" fill="#5c5c5e"/><polygon points="468.7,750.7 472.8,746.1 472.8,740.7 468.7,745.3" fill="#4a4a4c"/><polygon points="460.6,745.3 468.7,745.3 472.8,740.7 464.6,740.7" fill="#929294"/><polygon points="472.1,750.7 480.2,750.7 480.2,745.3 472.1,745.3" fill="#5c5c5e"/><polygon points="480.2,750.7 484.2,746.1 484.2,740.7 480.2,745.3" fill="#4a4a4c"/><polygon points="472.1,745.3 480.2,745.3 484.2,740.7 476.1,740.7" fill="#929294"/><polygon points="483.5,750.7 491.7,750.7 491.7,745.3 483.5,745.3" fill="#5c5c5e"/><polygon points="491.7,750.7 495.7,746.1 495.7,740.7 491.7,745.3" fill="#4a4a4c"/><polygon points="483.5,745.3 491.7,745.3 495.7,740.7 487.6,740.7" fill="#929294"/><polygon points="495.0,750.7 503.2,750.7 503.2,745.3 495.0,745.3" fill="#5c5c5e"/><polygon points="503.2,750.7 507.2,746.1 507.2,740.7 503.2,745.3" fill="#4a4a4c"/><polygon points="495.0,745.3 503.2,745.3 507.2,740.7 499.1,740.7" fill="#929294"/><polygon points="384.8,758.5 392.9,758.5 392.9,753.1 384.8,753.1" fill="#5c5c5e"/><polygon points="392.9,758.5 397.0,753.9 397.0,748.5 392.9,753.1" fill="#4a4a4c"/><polygon points="384.8,753.1 392.9,753.1 397.0,748.5 388.8,748.5" fill="#929294"/><polygon points="396.3,758.5 404.4,758.5 404.4,753.1 396.3,753.1" fill="#5c5c5e"/><polygon points="404.4,758.5 408.5,753.9 408.5,748.5 404.4,753.1" fill="#4a4a4c"/><polygon points="396.3,753.1 404.4,753.1 408.5,748.5 400.3,748.5" fill="#929294"/><polygon points="407.8,758.5 415.9,758.5 415.9,753.1 407.8,753.1" fill="#5c5c5e"/><polygon points="415.9,758.5 420.0,753.9 420.0,748.5 415.9,753.1" fill="#4a4a4c"/><polygon points="407.8,753.1 415.9,753.1 420.0,748.5 411.8,748.5" fill="#929294"/><polygon points="419.2,758.5 427.4,758.5 427.4,753.1 419.2,753.1" fill="#5c5c5e"/><polygon points="427.4,758.5 431.4,753.9 431.4,748.5 427.4,753.1" fill="#4a4a4c"/><polygon points="419.2,753.1 427.4,753.1 431.4,748.5 423.3,748.5" fill="#929294"/><polygon points="430.7,758.5 438.9,758.5 438.9,753.1 430.7,753.1" fill="#5c5c5e"/><polygon points="438.9,758.5 442.9,753.9 442.9,748.5 438.9,753.1" fill="#4a4a4c"/><polygon points="430.7,753.1 438.9,753.1 442.9,748.5 434.8,748.5" fill="#929294"/><polygon points="442.2,758.5 450.4,758.5 450.4,753.1 442.2,753.1" fill="#5c5c5e"/><polygon points="450.4,758.5 454.4,753.9 454.4,748.5 450.4,753.1" fill="#4a4a4c"/><polygon points="442.2,753.1 450.4,753.1 454.4,748.5 446.3,748.5" fill="#929294"/><polygon points="453.7,758.5 461.9,758.5 461.9,753.1 453.7,753.1" fill="#5c5c5e"/><polygon points="461.9,758.5 465.9,753.9 465.9,748.5 461.9,753.1" fill="#4a4a4c"/><polygon points="453.7,753.1 461.9,753.1 465.9,748.5 457.8,748.5" fill="#929294"/><polygon points="465.2,758.5 473.3,758.5 473.3,753.1 465.2,753.1" fill="#5c5c5e"/><polygon points="473.3,758.5 477.4,753.9 477.4,748.5 473.3,753.1" fill="#4a4a4c"/><polygon points="465.2,753.1 473.3,753.1 477.4,748.5 469.3,748.5" fill="#929294"/><polygon points="476.7,758.5 484.8,758.5 484.8,753.1 476.7,753.1" fill="#5c5c5e"/><polygon points="484.8,758.5 488.9,753.9 488.9,748.5 484.8,753.1" fill="#4a4a4c"/><polygon points="476.7,753.1 484.8,753.1 488.9,748.5 480.8,748.5" fill="#929294"/><polygon points="488.2,758.5 496.3,758.5 496.3,753.1 488.2,753.1" fill="#5c5c5e"/><polygon points="496.3,758.5 500.4,753.9 500.4,748.5 496.3,753.1" fill="#4a4a4c"/><polygon points="488.2,753.1 496.3,753.1 500.4,748.5 492.2,748.5" fill="#929294"/><polygon points="519.7,760.4 639.4,760.4 697.4,703.0 577.7,703.0" fill="#bfe0ae"/><polygon points="562.8,760.4 603.5,760.4 661.5,703.0 620.8,703.0" fill="#a3c6a4"/><polygon points="583.3,709.7 598.8,709.7 598.8,676.2 583.3,676.2" fill="#69666c"/><polygon points="598.8,709.7 601.1,707.4 601.1,673.9 598.8,676.2" fill="#4c4950"/><polygon points="583.3,676.2 598.8,676.2 601.1,673.9 585.6,673.9" fill="#8d8a90"/><polygon points="622.7,709.7 638.2,709.7 638.2,676.2 622.7,676.2" fill="#69666c"/><polygon points="638.2,709.7 640.5,707.4 640.5,673.9 638.2,676.2" fill="#4c4950"/><polygon points="622.7,676.2 638.2,676.2 640.5,673.9 625.0,673.9" fill="#8d8a90"/><polygon points="665.3,709.7 680.8,709.7 680.8,676.2 665.3,676.2" fill="#69666c"/><polygon points="680.8,709.7 683.1,707.4 683.1,673.9 680.8,676.2" fill="#4c4950"/><polygon points="665.3,676.2 680.8,676.2 683.1,673.9 667.6,673.9" fill="#8d8a90"/><path d="M582.2 713.0v-4.0M586.6 713.0v-4.0" stroke="#3a4a1c" stroke-width="1.6"/><path d="M579.4 709.2C577.7 703.0 581.8 698.1 584.2 698.0C587.0 698.1 591.1 703.0 589.4 709.2Q584.4 711.6 579.4 709.2Z" fill="#56bf3c"/><path d="M581.0 705.8Q581.2 701.8 583.9 699.0Q585.6 702.6 584.0 706.6Z" fill="#80da62"/><path d="M584.2 710.1L584.9 705.0L586.2 709.8Z" fill="#2a8428"/><path d="M637.2 713.0v-4.0M641.6 713.0v-4.0" stroke="#3a4a1c" stroke-width="1.6"/><path d="M634.4 709.2C632.7 703.0 636.8 698.1 639.2 698.0C642.0 698.1 646.1 703.0 644.4 709.2Q639.4 711.6 634.4 709.2Z" fill="#56bf3c"/><path d="M636.0 705.8Q636.2 701.8 638.9 699.0Q640.6 702.6 639.0 706.6Z" fill="#80da62"/><path d="M639.2 710.1L639.9 705.0L641.2 709.8Z" fill="#2a8428"/><path d="M674.9 714.6v-4.0M679.3 714.6v-4.0" stroke="#3a4a1c" stroke-width="1.6"/><path d="M672.1 710.8C670.4 704.6 674.5 699.7 676.9 699.6C679.7 699.7 683.8 704.6 682.1 710.8Q677.1 713.2 672.1 710.8Z" fill="#56bf3c"/><path d="M673.7 707.4Q673.9 703.4 676.6 700.6Q678.3 704.2 676.7 708.2Z" fill="#80da62"/><path d="M676.9 711.7L677.6 706.6L678.9 711.4Z" fill="#2a8428"/><polygon points="563.9,729.5 575.9,729.5 575.9,697.5 563.9,697.5" fill="#69666c"/><polygon points="575.9,729.5 579.1,726.3 579.1,694.3 575.9,697.5" fill="#4c4950"/><polygon points="563.9,697.5 575.9,697.5 579.1,694.3 567.1,694.3" fill="#8d8a90"/><polygon points="604.9,729.5 616.9,729.5 616.9,697.5 604.9,697.5" fill="#69666c"/><polygon points="616.9,729.5 620.1,726.3 620.1,694.3 616.9,697.5" fill="#4c4950"/><polygon points="604.9,697.5 616.9,697.5 620.1,694.3 608.1,694.3" fill="#8d8a90"/><polygon points="646.9,729.5 658.9,729.5 658.9,697.5 646.9,697.5" fill="#69666c"/><polygon points="658.9,729.5 662.1,726.3 662.1,694.3 658.9,697.5" fill="#4c4950"/><polygon points="646.9,697.5 658.9,697.5 662.1,694.3 650.1,694.3" fill="#8d8a90"/><path d="M599.5 732.4v-4.0M603.9 732.4v-4.0" stroke="#3a4a1c" stroke-width="1.6"/><path d="M596.7 728.6C595.0 722.4 599.1 717.5 601.5 717.4C604.3 717.5 608.4 722.4 606.7 728.6Q601.7 731.0 596.7 728.6Z" fill="#56bf3c"/><path d="M598.3 725.2Q598.5 721.2 601.2 718.4Q602.9 722.0 601.3 726.0Z" fill="#80da62"/><path d="M601.5 729.5L602.2 724.4L603.5 729.2Z" fill="#2a8428"/><path d="M563.9 734.5v-4.0M568.3 734.5v-4.0" stroke="#3a4a1c" stroke-width="1.6"/><path d="M561.1 730.7C559.4 724.5 563.5 719.6 565.9 719.5C568.7 719.6 572.8 724.5 571.1 730.7Q566.1 733.1 561.1 730.7Z" fill="#56bf3c"/><path d="M562.7 727.3Q562.9 723.3 565.6 720.5Q567.3 724.1 565.7 728.1Z" fill="#80da62"/><path d="M565.9 731.6L566.6 726.5L567.9 731.3Z" fill="#2a8428"/><path d="M617.8 734.5v-4.0M622.2 734.5v-4.0" stroke="#3a4a1c" stroke-width="1.6"/><path d="M615.0 730.7C613.3 724.5 617.4 719.6 619.8 719.5C622.6 719.6 626.7 724.5 625.0 730.7Q620.0 733.1 615.0 730.7Z" fill="#56bf3c"/><path d="M616.6 727.3Q616.8 723.3 619.5 720.5Q621.2 724.1 619.6 728.1Z" fill="#80da62"/><path d="M619.8 731.6L620.5 726.5L621.8 731.3Z" fill="#2a8428"/><path d="M650.1 734.5v-4.0M654.5 734.5v-4.0" stroke="#3a4a1c" stroke-width="1.6"/><path d="M647.3 730.7C645.6 724.5 649.7 719.6 652.1 719.5C654.9 719.6 659.0 724.5 657.3 730.7Q652.3 733.1 647.3 730.7Z" fill="#56bf3c"/><path d="M648.9 727.3Q649.1 723.3 651.8 720.5Q653.5 724.1 651.9 728.1Z" fill="#80da62"/><path d="M652.1 731.6L652.8 726.5L654.1 731.3Z" fill="#2a8428"/><path d="M571.4 751.8v-4.0M575.8 751.8v-4.0" stroke="#3a4a1c" stroke-width="1.6"/><path d="M568.6 748.0C566.9 741.8 571.0 736.9 573.4 736.8C576.2 736.9 580.3 741.8 578.6 748.0Q573.6 750.4 568.6 748.0Z" fill="#56bf3c"/><path d="M570.2 744.6Q570.4 740.6 573.1 737.8Q574.8 741.4 573.2 745.4Z" fill="#80da62"/><path d="M573.4 748.9L574.1 743.8L575.4 748.6Z" fill="#2a8428"/><path d="M596.2 752.9v-4.0M600.6 752.9v-4.0" stroke="#3a4a1c" stroke-width="1.6"/><path d="M593.4 749.1C591.7 742.9 595.8 738.0 598.2 737.9C601.0 738.0 605.1 742.9 603.4 749.1Q598.4 751.5 593.4 749.1Z" fill="#56bf3c"/><path d="M595.0 745.7Q595.2 741.7 597.9 738.9Q599.6 742.5 598.0 746.5Z" fill="#80da62"/><path d="M598.2 750.0L598.9 744.9L600.2 749.7Z" fill="#2a8428"/><polygon points="542.9,755.0 552.9,755.0 552.9,717.0 542.9,717.0" fill="#69666c"/><polygon points="552.9,755.0 556.1,751.8 556.1,713.8 552.9,717.0" fill="#4c4950"/><polygon points="542.9,717.0 552.9,717.0 556.1,713.8 546.1,713.8" fill="#8d8a90"/><polygon points="584.4,755.0 594.4,755.0 594.4,717.0 584.4,717.0" fill="#69666c"/><polygon points="594.4,755.0 597.6,751.8 597.6,713.8 594.4,717.0" fill="#4c4950"/><polygon points="584.4,717.0 594.4,717.0 597.6,713.8 587.6,713.8" fill="#8d8a90"/><polygon points="627.5,755.0 637.5,755.0 637.5,717.0 627.5,717.0" fill="#69666c"/><polygon points="637.5,755.0 640.7,751.8 640.7,713.8 637.5,717.0" fill="#4c4950"/><polygon points="627.5,717.0 637.5,717.0 640.7,713.8 630.7,713.8" fill="#8d8a90"/><path d="M622.6 755.0v-4.0M627.0 755.0v-4.0" stroke="#3a4a1c" stroke-width="1.6"/><path d="M619.8 751.2C618.1 745.0 622.2 740.1 624.6 740.0C627.4 740.1 631.5 745.0 629.8 751.2Q624.8 753.6 619.8 751.2Z" fill="#56bf3c"/><path d="M621.4 747.8Q621.6 743.8 624.3 741.0Q626.0 744.6 624.4 748.6Z" fill="#80da62"/><path d="M624.6 752.1L625.3 747.0L626.6 751.8Z" fill="#2a8428"/><path d="M539.1 757.2v-4.0M543.5 757.2v-4.0" stroke="#3a4a1c" stroke-width="1.6"/><path d="M536.3 753.4C534.6 747.2 538.7 742.3 541.1 742.2C543.9 742.3 548.0 747.2 546.3 753.4Q541.3 755.8 536.3 753.4Z" fill="#56bf3c"/><path d="M537.9 750.0Q538.1 746.0 540.8 743.2Q542.5 746.8 540.9 750.8Z" fill="#80da62"/><path d="M541.1 754.3L541.8 749.2L543.1 754.0Z" fill="#2a8428"/><polygon points="657.5,760.3 764.5,760.3 815.5,700.3 708.5,700.3" fill="#bfe0ae"/><polygon points="692.8,760.3 728.1,760.3 779.1,700.3 743.8,700.3" fill="#a9caa8"/><path d="M716.9 705.9v-3.9M721.1 705.9v-3.9" stroke="#3a4a1c" stroke-width="1.6"/><path d="M714.2 702.2C712.4 696.1 716.5 691.4 718.8 691.2C721.5 691.4 725.6 696.1 723.8 702.2Q719.0 704.5 714.2 702.2Z" fill="#56bf3c"/><path d="M715.7 698.9Q715.9 695.0 718.5 692.2Q720.2 695.8 718.6 699.7Z" fill="#80da62"/><path d="M718.8 703.1L719.5 698.1L720.8 702.8Z" fill="#2a8428"/><path d="M791.9 707.0v-3.9M796.1 707.0v-3.9" stroke="#3a4a1c" stroke-width="1.6"/><path d="M789.2 703.3C787.4 697.2 791.5 692.5 793.8 692.3C796.5 692.5 800.6 697.2 798.8 703.3Q794.0 705.6 789.2 703.3Z" fill="#56bf3c"/><path d="M790.7 700.0Q790.9 696.1 793.5 693.4Q795.2 696.9 793.6 700.8Z" fill="#80da62"/><path d="M793.8 704.2L794.5 699.2L795.8 703.9Z" fill="#2a8428"/><path d="M735.8 708.0v-3.9M740.0 708.0v-3.9" stroke="#3a4a1c" stroke-width="1.6"/><path d="M733.1 704.3C731.3 698.2 735.4 693.5 737.7 693.3C740.4 693.5 744.5 698.2 742.7 704.3Q737.9 706.6 733.1 704.3Z" fill="#56bf3c"/><path d="M734.6 701.0Q734.8 697.1 737.4 694.4Q739.1 697.9 737.5 701.8Z" fill="#80da62"/><path d="M737.7 705.2L738.4 700.2L739.7 704.9Z" fill="#2a8428"/><path d="M767.6 708.6v-3.9M771.8 708.6v-3.9" stroke="#3a4a1c" stroke-width="1.6"/><path d="M764.9 704.9C763.1 698.9 767.2 694.1 769.5 693.9C772.2 694.1 776.3 698.9 774.5 704.9Q769.7 707.2 764.9 704.9Z" fill="#56bf3c"/><path d="M766.4 701.6Q766.6 697.7 769.2 695.0Q770.9 698.5 769.3 702.4Z" fill="#80da62"/><path d="M769.5 705.8L770.2 700.8L771.5 705.5Z" fill="#2a8428"/><polygon points="739.0,716.1 755.7,716.1 755.7,703.7 739.0,703.7" fill="#6d6a70"/><polygon points="755.7,716.1 759.3,711.9 759.3,699.5 755.7,703.7" fill="#4e4b52"/><polygon points="739.0,703.7 755.7,703.7 759.3,699.5 742.6,699.5" fill="#8f8c92"/><polygon points="702.8,716.7 716.9,716.7 716.9,704.3 702.8,704.3" fill="#6d6a70"/><polygon points="716.9,716.7 722.0,710.7 722.0,698.3 716.9,704.3" fill="#4e4b52"/><polygon points="702.8,704.3 716.9,704.3 722.0,698.3 707.9,698.3" fill="#8f8c92"/><polygon points="775.6,721.0 783.7,721.0 783.7,710.2 775.6,710.2" fill="#6d6a70"/><polygon points="783.7,721.0 792.4,710.8 792.4,700.0 783.7,710.2" fill="#4e4b52"/><polygon points="775.6,710.2 783.7,710.2 792.4,700.0 784.3,700.0" fill="#8f8c92"/><path d="M725.5 728.5v-3.9M729.7 728.5v-3.9" stroke="#3a4a1c" stroke-width="1.6"/><path d="M722.8 724.8C721.0 718.8 725.1 714.0 727.4 713.8C730.1 714.0 734.2 718.8 732.4 724.8Q727.6 727.1 722.8 724.8Z" fill="#56bf3c"/><path d="M724.3 721.5Q724.5 717.6 727.1 714.9Q728.8 718.4 727.2 722.3Z" fill="#80da62"/><path d="M727.4 725.7L728.1 720.7L729.4 725.4Z" fill="#2a8428"/><path d="M698.0 730.1v-3.9M702.2 730.1v-3.9" stroke="#3a4a1c" stroke-width="1.6"/><path d="M695.3 726.4C693.5 720.4 697.6 715.6 699.9 715.4C702.6 715.6 706.7 720.4 704.9 726.4Q700.1 728.7 695.3 726.4Z" fill="#56bf3c"/><path d="M696.8 723.1Q697.0 719.2 699.6 716.5Q701.3 720.0 699.7 723.9Z" fill="#80da62"/><path d="M699.9 727.3L700.6 722.3L701.9 727.0Z" fill="#2a8428"/><path d="M748.2 730.7v-3.9M752.4 730.7v-3.9" stroke="#3a4a1c" stroke-width="1.6"/><path d="M745.5 727.0C743.7 721.0 747.8 716.2 750.1 716.0C752.8 716.2 756.9 721.0 755.1 727.0Q750.3 729.3 745.5 727.0Z" fill="#56bf3c"/><path d="M747.0 723.7Q747.2 719.8 749.8 717.1Q751.5 720.6 749.9 724.5Z" fill="#80da62"/><path d="M750.1 727.9L750.8 722.9L752.1 727.6Z" fill="#2a8428"/><path d="M769.7 731.8v-3.9M773.9 731.8v-3.9" stroke="#3a4a1c" stroke-width="1.6"/><path d="M767.0 728.1C765.2 722.0 769.3 717.3 771.6 717.1C774.3 717.3 778.4 722.0 776.6 728.1Q771.8 730.4 767.0 728.1Z" fill="#56bf3c"/><path d="M768.5 724.8Q768.7 720.9 771.3 718.1Q773.0 721.7 771.4 725.6Z" fill="#80da62"/><path d="M771.6 729.0L772.3 724.0L773.6 728.7Z" fill="#2a8428"/><polygon points="672.1,750.1 685.6,750.1 685.6,736.1 672.1,736.1" fill="#6d6a70"/><polygon points="685.6,750.1 691.2,743.5 691.2,729.5 685.6,736.1" fill="#4e4b52"/><polygon points="672.1,736.1 685.6,736.1 691.2,729.5 677.7,729.5" fill="#8f8c92"/><polygon points="711.5,750.1 723.3,750.1 723.3,735.0 711.5,735.0" fill="#6d6a70"/><polygon points="723.3,750.1 729.4,742.9 729.4,727.8 723.3,735.0" fill="#4e4b52"/><polygon points="711.5,735.0 723.3,735.0 729.4,727.8 717.6,727.8" fill="#8f8c92"/><polygon points="743.3,751.2 757.8,751.2 757.8,740.4 743.3,740.4" fill="#6d6a70"/><polygon points="757.8,751.2 766.0,741.6 766.0,730.8 757.8,740.4" fill="#4e4b52"/><polygon points="743.3,740.4 757.8,740.4 766.0,730.8 751.5,730.8" fill="#8f8c92"/><path d="M704.0 751.7v-3.9M708.2 751.7v-3.9" stroke="#3a4a1c" stroke-width="1.6"/><path d="M701.3 748.0C699.5 742.0 703.6 737.2 705.9 737.0C708.6 737.2 712.7 742.0 710.9 748.0Q706.1 750.3 701.3 748.0Z" fill="#56bf3c"/><path d="M702.8 744.7Q703.0 740.8 705.6 738.1Q707.3 741.6 705.7 745.5Z" fill="#80da62"/><path d="M705.9 748.9L706.6 743.9L707.9 748.6Z" fill="#2a8428"/><path d="M727.7 753.3v-3.9M731.9 753.3v-3.9" stroke="#3a4a1c" stroke-width="1.6"/><path d="M725.0 749.6C723.2 743.5 727.3 738.8 729.6 738.6C732.3 738.8 736.4 743.5 734.6 749.6Q729.8 751.9 725.0 749.6Z" fill="#56bf3c"/><path d="M726.5 746.3Q726.7 742.4 729.3 739.6Q731.0 743.2 729.4 747.1Z" fill="#80da62"/><path d="M729.6 750.5L730.3 745.5L731.6 750.2Z" fill="#2a8428"/><path d="M673.8 754.4v-3.9M678.0 754.4v-3.9" stroke="#3a4a1c" stroke-width="1.6"/><path d="M671.1 750.7C669.3 744.6 673.4 739.9 675.7 739.7C678.4 739.9 682.5 744.6 680.7 750.7Q675.9 753.0 671.1 750.7Z" fill="#56bf3c"/><path d="M672.6 747.4Q672.8 743.5 675.4 740.8Q677.1 744.3 675.5 748.2Z" fill="#80da62"/><path d="M675.7 751.6L676.4 746.6L677.7 751.3Z" fill="#2a8428"/><path d="M755.7 754.4v-3.9M759.9 754.4v-3.9" stroke="#3a4a1c" stroke-width="1.6"/><path d="M753.0 750.7C751.2 744.6 755.3 739.9 757.6 739.7C760.3 739.9 764.4 744.6 762.6 750.7Q757.8 753.0 753.0 750.7Z" fill="#56bf3c"/><path d="M754.5 747.4Q754.7 743.5 757.3 740.8Q759.0 744.3 757.4 748.2Z" fill="#80da62"/><path d="M757.6 751.6L758.3 746.6L759.6 751.3Z" fill="#2a8428"/><polygon points="771.3,760.9 884.3,760.9 936.3,699.9 823.3,699.9" fill="#bfe0ae"/><polygon points="805.2,760.9 852.7,760.9 904.7,699.9 857.2,699.9" fill="#afd0ab"/><polygon points="842.3,708.9 848.7,708.9 848.7,705.3 842.3,705.3" fill="#55535a"/><polygon points="848.7,708.9 851.6,705.5 851.6,701.9 848.7,705.3" fill="#403e44"/><polygon points="842.3,705.3 848.7,705.3 851.6,701.9 845.2,701.9" fill="#85838a"/><polygon points="855.2,708.9 861.6,708.9 861.6,705.3 855.2,705.3" fill="#55535a"/><polygon points="861.6,708.9 864.5,705.5 864.5,701.9 861.6,705.3" fill="#403e44"/><polygon points="855.2,705.3 861.6,705.3 864.5,701.9 858.1,701.9" fill="#85838a"/><polygon points="871.4,708.9 877.8,708.9 877.8,705.3 871.4,705.3" fill="#55535a"/><polygon points="877.8,708.9 880.7,705.5 880.7,701.9 877.8,705.3" fill="#403e44"/><polygon points="871.4,705.3 877.8,705.3 880.7,701.9 874.3,701.9" fill="#85838a"/><polygon points="884.3,708.9 890.7,708.9 890.7,705.3 884.3,705.3" fill="#55535a"/><polygon points="890.7,708.9 893.6,705.5 893.6,701.9 890.7,705.3" fill="#403e44"/><polygon points="884.3,705.3 890.7,705.3 893.6,701.9 887.2,701.9" fill="#85838a"/><polygon points="900.5,708.9 906.9,708.9 906.9,705.3 900.5,705.3" fill="#55535a"/><polygon points="906.9,708.9 909.8,705.5 909.8,701.9 906.9,705.3" fill="#403e44"/><polygon points="900.5,705.3 906.9,705.3 909.8,701.9 903.4,701.9" fill="#85838a"/><polygon points="914.5,708.9 920.9,708.9 920.9,705.3 914.5,705.3" fill="#55535a"/><polygon points="920.9,708.9 923.8,705.5 923.8,701.9 920.9,705.3" fill="#403e44"/><polygon points="914.5,705.3 920.9,705.3 923.8,701.9 917.4,701.9" fill="#85838a"/><path d="M827.6 711.8v-3.7M831.6 711.8v-3.7" stroke="#3a4a1c" stroke-width="1.5"/><path d="M825.1 708.3C823.4 702.6 827.3 698.1 829.4 697.9C832.0 698.1 835.9 702.6 834.2 708.3Q829.6 710.5 825.1 708.3Z" fill="#56bf3c"/><path d="M826.5 705.2Q826.7 701.5 829.2 698.9Q830.8 702.2 829.3 705.9Z" fill="#80da62"/><path d="M829.4 709.2L830.1 704.4L831.3 708.9Z" fill="#2a8428"/><path d="M855.6 711.8v-3.7M859.6 711.8v-3.7" stroke="#3a4a1c" stroke-width="1.5"/><path d="M853.1 708.3C851.4 702.6 855.3 698.1 857.4 697.9C860.0 698.1 863.9 702.6 862.2 708.3Q857.6 710.5 853.1 708.3Z" fill="#56bf3c"/><path d="M854.5 705.2Q854.7 701.5 857.2 698.9Q858.8 702.2 857.3 705.9Z" fill="#80da62"/><path d="M857.4 709.2L858.1 704.4L859.3 708.9Z" fill="#2a8428"/><path d="M886.9 711.8v-3.7M890.9 711.8v-3.7" stroke="#3a4a1c" stroke-width="1.5"/><path d="M884.4 708.3C882.7 702.6 886.6 698.1 888.7 697.9C891.3 698.1 895.2 702.6 893.5 708.3Q888.9 710.5 884.4 708.3Z" fill="#56bf3c"/><path d="M885.8 705.2Q886.0 701.5 888.5 698.9Q890.0 702.2 888.6 705.9Z" fill="#80da62"/><path d="M888.7 709.2L889.4 704.4L890.6 708.9Z" fill="#2a8428"/><path d="M914.9 711.8v-3.7M918.9 711.8v-3.7" stroke="#3a4a1c" stroke-width="1.5"/><path d="M912.4 708.3C910.7 702.6 914.6 698.1 916.7 697.9C919.3 698.1 923.2 702.6 921.5 708.3Q916.9 710.5 912.4 708.3Z" fill="#56bf3c"/><path d="M913.8 705.2Q914.0 701.5 916.5 698.9Q918.0 702.2 916.6 705.9Z" fill="#80da62"/><path d="M916.7 709.2L917.4 704.4L918.6 708.9Z" fill="#2a8428"/><polygon points="819.6,719.7 826.0,719.7 826.0,716.1 819.6,716.1" fill="#55535a"/><polygon points="826.0,719.7 828.9,716.3 828.9,712.7 826.0,716.1" fill="#403e44"/><polygon points="819.6,716.1 826.0,716.1 828.9,712.7 822.5,712.7" fill="#85838a"/><polygon points="832.6,719.7 839.0,719.7 839.0,716.1 832.6,716.1" fill="#55535a"/><polygon points="839.0,719.7 841.9,716.3 841.9,712.7 839.0,716.1" fill="#403e44"/><polygon points="832.6,716.1 839.0,716.1 841.9,712.7 835.5,712.7" fill="#85838a"/><polygon points="846.6,719.7 853.0,719.7 853.0,716.1 846.6,716.1" fill="#55535a"/><polygon points="853.0,719.7 855.9,716.3 855.9,712.7 853.0,716.1" fill="#403e44"/><polygon points="846.6,716.1 853.0,716.1 855.9,712.7 849.5,712.7" fill="#85838a"/><polygon points="860.6,719.7 867.0,719.7 867.0,716.1 860.6,716.1" fill="#55535a"/><polygon points="867.0,719.7 869.9,716.3 869.9,712.7 867.0,716.1" fill="#403e44"/><polygon points="860.6,716.1 867.0,716.1 869.9,712.7 863.5,712.7" fill="#85838a"/><polygon points="875.7,719.7 882.1,719.7 882.1,716.1 875.7,716.1" fill="#55535a"/><polygon points="882.1,719.7 885.0,716.3 885.0,712.7 882.1,716.1" fill="#403e44"/><polygon points="875.7,716.1 882.1,716.1 885.0,712.7 878.6,712.7" fill="#85838a"/><polygon points="889.7,719.7 896.1,719.7 896.1,716.1 889.7,716.1" fill="#55535a"/><polygon points="896.1,719.7 899.0,716.3 899.0,712.7 896.1,716.1" fill="#403e44"/><polygon points="889.7,716.1 896.1,716.1 899.0,712.7 892.6,712.7" fill="#85838a"/><polygon points="904.8,719.7 911.2,719.7 911.2,716.1 904.8,716.1" fill="#55535a"/><polygon points="911.2,719.7 914.1,716.3 914.1,712.7 911.2,716.1" fill="#403e44"/><polygon points="904.8,716.1 911.2,716.1 914.1,712.7 907.7,712.7" fill="#85838a"/><polygon points="807.8,731.5 814.2,731.5 814.2,727.9 807.8,727.9" fill="#55535a"/><polygon points="814.2,731.5 817.1,728.1 817.1,724.5 814.2,727.9" fill="#403e44"/><polygon points="807.8,727.9 814.2,727.9 817.1,724.5 810.7,724.5" fill="#85838a"/><polygon points="820.7,731.5 827.1,731.5 827.1,727.9 820.7,727.9" fill="#55535a"/><polygon points="827.1,731.5 830.0,728.1 830.0,724.5 827.1,727.9" fill="#403e44"/><polygon points="820.7,727.9 827.1,727.9 830.0,724.5 823.6,724.5" fill="#85838a"/><polygon points="850.9,731.5 857.3,731.5 857.3,727.9 850.9,727.9" fill="#55535a"/><polygon points="857.3,731.5 860.2,728.1 860.2,724.5 857.3,727.9" fill="#403e44"/><polygon points="850.9,727.9 857.3,727.9 860.2,724.5 853.8,724.5" fill="#85838a"/><polygon points="864.9,731.5 871.3,731.5 871.3,727.9 864.9,727.9" fill="#55535a"/><polygon points="871.3,731.5 874.2,728.1 874.2,724.5 871.3,727.9" fill="#403e44"/><polygon points="864.9,727.9 871.3,727.9 874.2,724.5 867.8,724.5" fill="#85838a"/><polygon points="880.0,731.5 886.4,731.5 886.4,727.9 880.0,727.9" fill="#55535a"/><polygon points="886.4,731.5 889.3,728.1 889.3,724.5 886.4,727.9" fill="#403e44"/><polygon points="880.0,727.9 886.4,727.9 889.3,724.5 882.9,724.5" fill="#85838a"/><polygon points="894.0,731.5 900.4,731.5 900.4,727.9 894.0,727.9" fill="#55535a"/><polygon points="900.4,731.5 903.3,728.1 903.3,724.5 900.4,727.9" fill="#403e44"/><polygon points="894.0,727.9 900.4,727.9 903.3,724.5 896.9,724.5" fill="#85838a"/><path d="M813.6 734.8v-3.7M817.6 734.8v-3.7" stroke="#3a4a1c" stroke-width="1.5"/><path d="M811.1 731.3C809.4 725.6 813.3 721.1 815.4 720.9C818.0 721.1 821.9 725.6 820.2 731.3Q815.6 733.5 811.1 731.3Z" fill="#56bf3c"/><path d="M812.5 728.2Q812.7 724.5 815.2 721.9Q816.8 725.2 815.3 728.9Z" fill="#80da62"/><path d="M815.4 732.2L816.1 727.4L817.3 731.9Z" fill="#2a8428"/><path d="M839.4 734.8v-3.7M843.4 734.8v-3.7" stroke="#3a4a1c" stroke-width="1.5"/><path d="M836.9 731.3C835.2 725.6 839.1 721.1 841.2 720.9C843.8 721.1 847.7 725.6 846.0 731.3Q841.4 733.5 836.9 731.3Z" fill="#56bf3c"/><path d="M838.3 728.2Q838.5 724.5 841.0 721.9Q842.6 725.2 841.1 728.9Z" fill="#80da62"/><path d="M841.2 732.2L841.9 727.4L843.1 731.9Z" fill="#2a8428"/><path d="M868.5 734.8v-3.7M872.5 734.8v-3.7" stroke="#3a4a1c" stroke-width="1.5"/><path d="M866.0 731.3C864.3 725.6 868.2 721.1 870.3 720.9C872.9 721.1 876.8 725.6 875.1 731.3Q870.5 733.5 866.0 731.3Z" fill="#56bf3c"/><path d="M867.4 728.2Q867.6 724.5 870.1 721.9Q871.6 725.2 870.2 728.9Z" fill="#80da62"/><path d="M870.3 732.2L871.0 727.4L872.2 731.9Z" fill="#2a8428"/><path d="M894.4 734.8v-3.7M898.4 734.8v-3.7" stroke="#3a4a1c" stroke-width="1.5"/><path d="M891.9 731.3C890.2 725.6 894.1 721.1 896.2 720.9C898.8 721.1 902.7 725.6 901.0 731.3Q896.4 733.5 891.9 731.3Z" fill="#56bf3c"/><path d="M893.3 728.2Q893.5 724.5 896.0 721.9Q897.6 725.2 896.1 728.9Z" fill="#80da62"/><path d="M896.2 732.2L896.9 727.4L898.1 731.9Z" fill="#2a8428"/><polygon points="797.0,743.4 803.4,743.4 803.4,739.8 797.0,739.8" fill="#55535a"/><polygon points="803.4,743.4 806.3,740.0 806.3,736.4 803.4,739.8" fill="#403e44"/><polygon points="797.0,739.8 803.4,739.8 806.3,736.4 799.9,736.4" fill="#85838a"/><polygon points="811.0,743.4 817.4,743.4 817.4,739.8 811.0,739.8" fill="#55535a"/><polygon points="817.4,743.4 820.3,740.0 820.3,736.4 817.4,739.8" fill="#403e44"/><polygon points="811.0,739.8 817.4,739.8 820.3,736.4 813.9,736.4" fill="#85838a"/><polygon points="826.1,743.4 832.5,743.4 832.5,739.8 826.1,739.8" fill="#55535a"/><polygon points="832.5,743.4 835.4,740.0 835.4,736.4 832.5,739.8" fill="#403e44"/><polygon points="826.1,739.8 832.5,739.8 835.4,736.4 829.0,736.4" fill="#85838a"/><polygon points="839.0,743.4 845.4,743.4 845.4,739.8 839.0,739.8" fill="#55535a"/><polygon points="845.4,743.4 848.3,740.0 848.3,736.4 845.4,739.8" fill="#403e44"/><polygon points="839.0,739.8 845.4,739.8 848.3,736.4 841.9,736.4" fill="#85838a"/><polygon points="854.1,743.4 860.5,743.4 860.5,739.8 854.1,739.8" fill="#55535a"/><polygon points="860.5,743.4 863.4,740.0 863.4,736.4 860.5,739.8" fill="#403e44"/><polygon points="854.1,739.8 860.5,739.8 863.4,736.4 857.0,736.4" fill="#85838a"/><polygon points="868.1,743.4 874.5,743.4 874.5,739.8 868.1,739.8" fill="#55535a"/><polygon points="874.5,743.4 877.4,740.0 877.4,736.4 874.5,739.8" fill="#403e44"/><polygon points="868.1,739.8 874.5,739.8 877.4,736.4 871.0,736.4" fill="#85838a"/><polygon points="883.2,743.4 889.6,743.4 889.6,739.8 883.2,739.8" fill="#55535a"/><polygon points="889.6,743.4 892.5,740.0 892.5,736.4 889.6,739.8" fill="#403e44"/><polygon points="883.2,739.8 889.6,739.8 892.5,736.4 886.1,736.4" fill="#85838a"/><polygon points="786.2,755.2 792.6,755.2 792.6,751.6 786.2,751.6" fill="#55535a"/><polygon points="792.6,755.2 795.5,751.8 795.5,748.2 792.6,751.6" fill="#403e44"/><polygon points="786.2,751.6 792.6,751.6 795.5,748.2 789.1,748.2" fill="#85838a"/><polygon points="800.2,755.2 806.6,755.2 806.6,751.6 800.2,751.6" fill="#55535a"/><polygon points="806.6,755.2 809.5,751.8 809.5,748.2 806.6,751.6" fill="#403e44"/><polygon points="800.2,751.6 806.6,751.6 809.5,748.2 803.1,748.2" fill="#85838a"/><polygon points="814.2,755.2 820.6,755.2 820.6,751.6 814.2,751.6" fill="#55535a"/><polygon points="820.6,755.2 823.5,751.8 823.5,748.2 820.6,751.6" fill="#403e44"/><polygon points="814.2,751.6 820.6,751.6 823.5,748.2 817.1,748.2" fill="#85838a"/><polygon points="829.3,755.2 835.7,755.2 835.7,751.6 829.3,751.6" fill="#55535a"/><polygon points="835.7,755.2 838.6,751.8 838.6,748.2 835.7,751.6" fill="#403e44"/><polygon points="829.3,751.6 835.7,751.6 838.6,748.2 832.2,748.2" fill="#85838a"/><polygon points="843.3,755.2 849.7,755.2 849.7,751.6 843.3,751.6" fill="#55535a"/><polygon points="849.7,755.2 852.6,751.8 852.6,748.2 849.7,751.6" fill="#403e44"/><polygon points="843.3,751.6 849.7,751.6 852.6,748.2 846.2,748.2" fill="#85838a"/><polygon points="858.4,755.2 864.8,755.2 864.8,751.6 858.4,751.6" fill="#55535a"/><polygon points="864.8,755.2 867.7,751.8 867.7,748.2 864.8,751.6" fill="#403e44"/><polygon points="858.4,751.6 864.8,751.6 867.7,748.2 861.3,748.2" fill="#85838a"/><polygon points="872.5,755.2 878.9,755.2 878.9,751.6 872.5,751.6" fill="#55535a"/><polygon points="878.9,755.2 881.8,751.8 881.8,748.2 878.9,751.6" fill="#403e44"/><polygon points="872.5,751.6 878.9,751.6 881.8,748.2 875.4,748.2" fill="#85838a"/><path d="M789.8 758.8v-3.7M793.8 758.8v-3.7" stroke="#3a4a1c" stroke-width="1.5"/><path d="M787.3 755.3C785.6 749.6 789.5 745.1 791.6 744.9C794.2 745.1 798.1 749.6 796.4 755.3Q791.8 757.5 787.3 755.3Z" fill="#56bf3c"/><path d="M788.7 752.2Q788.9 748.5 791.4 745.9Q792.9 749.2 791.5 752.9Z" fill="#80da62"/><path d="M791.6 756.2L792.3 751.4L793.5 755.9Z" fill="#2a8428"/><path d="M820.0 758.8v-3.7M824.0 758.8v-3.7" stroke="#3a4a1c" stroke-width="1.5"/><path d="M817.5 755.3C815.8 749.6 819.7 745.1 821.8 744.9C824.4 745.1 828.3 749.6 826.6 755.3Q822.0 757.5 817.5 755.3Z" fill="#56bf3c"/><path d="M818.9 752.2Q819.1 748.5 821.6 745.9Q823.1 749.2 821.7 752.9Z" fill="#80da62"/><path d="M821.8 756.2L822.5 751.4L823.7 755.9Z" fill="#2a8428"/><path d="M848.1 758.8v-3.7M852.1 758.8v-3.7" stroke="#3a4a1c" stroke-width="1.5"/><path d="M845.6 755.3C843.9 749.6 847.8 745.1 849.9 744.9C852.5 745.1 856.4 749.6 854.7 755.3Q850.1 757.5 845.6 755.3Z" fill="#56bf3c"/><path d="M847.0 752.2Q847.2 748.5 849.7 745.9Q851.2 749.2 849.8 752.9Z" fill="#80da62"/><path d="M849.9 756.2L850.6 751.4L851.8 755.9Z" fill="#2a8428"/><path d="M872.9 758.8v-3.7M876.9 758.8v-3.7" stroke="#3a4a1c" stroke-width="1.5"/><path d="M870.4 755.3C868.7 749.6 872.6 745.1 874.7 744.9C877.3 745.1 881.2 749.6 879.5 755.3Q874.9 757.5 870.4 755.3Z" fill="#56bf3c"/><path d="M871.8 752.2Q872.0 748.5 874.5 745.9Q876.0 749.2 874.6 752.9Z" fill="#80da62"/><path d="M874.7 756.2L875.4 751.4L876.6 755.9Z" fill="#2a8428"/><polygon points="898.6,763.0 1023.6,763.0 1076.1,696.0 951.1,696.0" fill="#cda567"/><polygon points="1024.0,703.9 1030.2,703.9 1030.2,698.4 1024.0,698.4" fill="#9d886b"/><polygon points="1030.2,703.9 1032.9,700.4 1032.9,694.9 1030.2,698.4" fill="#806c52"/><polygon points="1024.0,698.4 1030.2,698.4 1032.9,694.9 1026.7,694.9" fill="#c2b298"/><polygon points="1007.3,703.9 1013.5,703.9 1013.5,697.8 1007.3,697.8" fill="#9d886b"/><polygon points="1013.5,703.9 1016.3,700.4 1016.3,694.3 1013.5,697.8" fill="#806c52"/><polygon points="1007.3,697.8 1013.5,697.8 1016.3,694.3 1010.0,694.3" fill="#c2b298"/><polygon points="1059.1,703.9 1065.3,703.9 1065.3,698.2 1059.1,698.2" fill="#8f8273"/><polygon points="1065.3,703.9 1068.0,700.5 1068.0,694.7 1065.3,698.2" fill="#77695a"/><polygon points="1059.1,698.2 1065.3,698.2 1068.0,694.7 1061.8,694.7" fill="#b9ad9d"/><polygon points="1032.8,704.0 1039.0,704.0 1039.0,697.7 1032.8,697.7" fill="#8f8273"/><polygon points="1039.0,704.0 1041.7,700.5 1041.7,694.2 1039.0,697.7" fill="#77695a"/><polygon points="1032.8,697.7 1039.0,697.7 1041.7,694.2 1035.5,694.2" fill="#b9ad9d"/><polygon points="973.0,704.2 979.2,704.2 979.2,698.8 973.0,698.8" fill="#8a7d72"/><polygon points="979.2,704.2 982.0,700.7 982.0,695.3 979.2,698.8" fill="#73675c"/><polygon points="973.0,698.8 979.2,698.8 982.0,695.3 975.7,695.3" fill="#b3a89c"/><polygon points="945.0,704.4 951.2,704.4 951.2,699.0 945.0,699.0" fill="#9d886b"/><polygon points="951.2,704.4 954.0,701.0 954.0,695.5 951.2,699.0" fill="#806c52"/><polygon points="945.0,699.0 951.2,699.0 954.0,695.5 947.7,695.5" fill="#c2b298"/><polygon points="961.7,704.8 968.0,704.8 968.0,699.5 961.7,699.5" fill="#8a7d72"/><polygon points="968.0,704.8 970.7,701.3 970.7,696.0 968.0,699.5" fill="#73675c"/><polygon points="961.7,699.5 968.0,699.5 970.7,696.0 964.5,696.0" fill="#b3a89c"/><polygon points="980.2,704.8 986.5,704.8 986.5,698.9 980.2,698.9" fill="#9d886b"/><polygon points="986.5,704.8 989.2,701.3 989.2,695.4 986.5,698.9" fill="#806c52"/><polygon points="980.2,698.9 986.5,698.9 989.2,695.4 982.9,695.4" fill="#c2b298"/><polygon points="1041.3,705.0 1047.6,705.0 1047.6,698.6 1041.3,698.6" fill="#978671"/><polygon points="1047.6,705.0 1050.3,701.5 1050.3,695.1 1047.6,698.6" fill="#7a6b59"/><polygon points="1041.3,698.6 1047.6,698.6 1050.3,695.1 1044.0,695.1" fill="#bcb0a0"/><polygon points="953.4,705.0 959.7,705.0 959.7,700.0 953.4,700.0" fill="#9d886b"/><polygon points="959.7,705.0 962.4,701.5 962.4,696.6 959.7,700.0" fill="#806c52"/><polygon points="953.4,700.0 959.7,700.0 962.4,696.6 956.1,696.6" fill="#c2b298"/><polygon points="989.1,705.0 995.3,705.0 995.3,699.5 989.1,699.5" fill="#898884"/><polygon points="995.3,705.0 998.1,701.5 998.1,696.0 995.3,699.5" fill="#6d6c68"/><polygon points="989.1,699.5 995.3,699.5 998.1,696.0 991.8,696.0" fill="#b7b6b1"/><polygon points="998.2,705.1 1004.5,705.1 1004.5,698.8 998.2,698.8" fill="#978671"/><polygon points="1004.5,705.1 1007.2,701.6 1007.2,695.4 1004.5,698.8" fill="#7a6b59"/><polygon points="998.2,698.8 1004.5,698.8 1007.2,695.4 1001.0,695.4" fill="#bcb0a0"/><polygon points="1049.7,705.1 1055.9,705.1 1055.9,699.1 1049.7,699.1" fill="#9d886b"/><polygon points="1055.9,705.1 1058.7,701.6 1058.7,695.6 1055.9,699.1" fill="#806c52"/><polygon points="1049.7,699.1 1055.9,699.1 1058.7,695.6 1052.4,695.6" fill="#c2b298"/><polygon points="967.9,710.4 974.2,710.4 974.2,705.5 967.9,705.5" fill="#8a7d72"/><polygon points="974.2,710.4 976.9,706.9 976.9,702.0 974.2,705.5" fill="#73675c"/><polygon points="967.9,705.5 974.2,705.5 976.9,702.0 970.7,702.0" fill="#b3a89c"/><polygon points="986.2,710.4 992.5,710.4 992.5,704.5 986.2,704.5" fill="#898884"/><polygon points="992.5,710.4 995.2,707.0 995.2,701.0 992.5,704.5" fill="#6d6c68"/><polygon points="986.2,704.5 992.5,704.5 995.2,701.0 989.0,701.0" fill="#b7b6b1"/><polygon points="1012.0,710.5 1018.2,710.5 1018.2,704.4 1012.0,704.4" fill="#9d886b"/><polygon points="1018.2,710.5 1021.0,707.0 1021.0,700.9 1018.2,704.4" fill="#806c52"/><polygon points="1012.0,704.4 1018.2,704.4 1021.0,700.9 1014.7,700.9" fill="#c2b298"/><polygon points="958.1,710.6 964.3,710.6 964.3,705.9 958.1,705.9" fill="#8a7d72"/><polygon points="964.3,710.6 967.1,707.1 967.1,702.5 964.3,705.9" fill="#73675c"/><polygon points="958.1,705.9 964.3,705.9 967.1,702.5 960.8,702.5" fill="#b3a89c"/><polygon points="994.5,710.6 1000.8,710.6 1000.8,705.4 994.5,705.4" fill="#8a7d72"/><polygon points="1000.8,710.6 1003.5,707.1 1003.5,702.0 1000.8,705.4" fill="#73675c"/><polygon points="994.5,705.4 1000.8,705.4 1003.5,702.0 997.3,702.0" fill="#b3a89c"/><polygon points="1027.3,710.9 1033.6,710.9 1033.6,706.0 1027.3,706.0" fill="#9d886b"/><polygon points="1033.6,710.9 1036.3,707.4 1036.3,702.5 1033.6,706.0" fill="#806c52"/><polygon points="1027.3,706.0 1033.6,706.0 1036.3,702.5 1030.1,702.5" fill="#c2b298"/><polygon points="1020.1,710.9 1026.3,710.9 1026.3,705.0 1020.1,705.0" fill="#8f8273"/><polygon points="1026.3,710.9 1029.0,707.5 1029.0,701.6 1026.3,705.0" fill="#77695a"/><polygon points="1020.1,705.0 1026.3,705.0 1029.0,701.6 1022.8,701.6" fill="#b9ad9d"/><polygon points="1003.2,711.1 1009.4,711.1 1009.4,705.9 1003.2,705.9" fill="#898884"/><polygon points="1009.4,711.1 1012.1,707.6 1012.1,702.4 1009.4,705.9" fill="#6d6c68"/><polygon points="1003.2,705.9 1009.4,705.9 1012.1,702.4 1005.9,702.4" fill="#b7b6b1"/><polygon points="1045.6,711.1 1051.8,711.1 1051.8,706.1 1045.6,706.1" fill="#898884"/><polygon points="1051.8,711.1 1054.5,707.6 1054.5,702.6 1051.8,706.1" fill="#6d6c68"/><polygon points="1045.6,706.1 1051.8,706.1 1054.5,702.6 1048.3,702.6" fill="#b7b6b1"/><polygon points="947.7,711.1 953.9,711.1 953.9,705.2 947.7,705.2" fill="#9d886b"/><polygon points="953.9,711.1 956.7,707.7 956.7,701.7 953.9,705.2" fill="#806c52"/><polygon points="947.7,705.2 953.9,705.2 956.7,701.7 950.4,701.7" fill="#c2b298"/><polygon points="974.1,711.2 980.4,711.2 980.4,705.9 974.1,705.9" fill="#898884"/><polygon points="980.4,711.2 983.1,707.7 983.1,702.4 980.4,705.9" fill="#6d6c68"/><polygon points="974.1,705.9 980.4,705.9 983.1,702.4 976.8,702.4" fill="#b7b6b1"/><polygon points="1054.5,711.5 1060.8,711.5 1060.8,706.6 1054.5,706.6" fill="#8a7d72"/><polygon points="1060.8,711.5 1063.5,708.0 1063.5,703.1 1060.8,706.6" fill="#73675c"/><polygon points="1054.5,706.6 1060.8,706.6 1063.5,703.1 1057.2,703.1" fill="#b3a89c"/><polygon points="1037.9,711.5 1044.2,711.5 1044.2,706.1 1037.9,706.1" fill="#8f8273"/><polygon points="1044.2,711.5 1046.9,708.0 1046.9,702.6 1044.2,706.1" fill="#77695a"/><polygon points="1037.9,706.1 1044.2,706.1 1046.9,702.6 1040.6,702.6" fill="#b9ad9d"/><polygon points="1016.4,716.9 1022.7,716.9 1022.7,710.6 1016.4,710.6" fill="#898884"/><polygon points="1022.7,716.9 1025.4,713.4 1025.4,707.1 1022.7,710.6" fill="#6d6c68"/><polygon points="1016.4,710.6 1022.7,710.6 1025.4,707.1 1019.1,707.1" fill="#b7b6b1"/><polygon points="1022.5,716.9 1028.8,716.9 1028.8,711.5 1022.5,711.5" fill="#8f8273"/><polygon points="1028.8,716.9 1031.5,713.4 1031.5,708.0 1028.8,711.5" fill="#77695a"/><polygon points="1022.5,711.5 1028.8,711.5 1031.5,708.0 1025.3,708.0" fill="#b9ad9d"/><polygon points="945.3,717.0 951.5,717.0 951.5,712.2 945.3,712.2" fill="#8f8273"/><polygon points="951.5,717.0 954.3,713.5 954.3,708.7 951.5,712.2" fill="#77695a"/><polygon points="945.3,712.2 951.5,712.2 954.3,708.7 948.0,708.7" fill="#b9ad9d"/><polygon points="997.1,717.2 1003.3,717.2 1003.3,711.4 997.1,711.4" fill="#8a7d72"/><polygon points="1003.3,717.2 1006.1,713.8 1006.1,707.9 1003.3,711.4" fill="#73675c"/><polygon points="997.1,711.4 1003.3,711.4 1006.1,707.9 999.8,707.9" fill="#b3a89c"/><polygon points="987.6,717.3 993.8,717.3 993.8,712.5 987.6,712.5" fill="#898884"/><polygon points="993.8,717.3 996.6,713.9 996.6,709.0 993.8,712.5" fill="#6d6c68"/><polygon points="987.6,712.5 993.8,712.5 996.6,709.0 990.3,709.0" fill="#b7b6b1"/><polygon points="935.6,717.5 941.8,717.5 941.8,712.9 935.6,712.9" fill="#978671"/><polygon points="941.8,717.5 944.6,714.0 944.6,709.4 941.8,712.9" fill="#7a6b59"/><polygon points="935.6,712.9 941.8,712.9 944.6,709.4 938.3,709.4" fill="#bcb0a0"/><polygon points="970.4,717.5 976.6,717.5 976.6,711.7 970.4,711.7" fill="#8a7d72"/><polygon points="976.6,717.5 979.3,714.1 979.3,708.2 976.6,711.7" fill="#73675c"/><polygon points="970.4,711.7 976.6,711.7 979.3,708.2 973.1,708.2" fill="#b3a89c"/><polygon points="1005.1,717.6 1011.4,717.6 1011.4,711.6 1005.1,711.6" fill="#9d886b"/><polygon points="1011.4,717.6 1014.1,714.1 1014.1,708.1 1011.4,711.6" fill="#806c52"/><polygon points="1005.1,711.6 1011.4,711.6 1014.1,708.1 1007.9,708.1" fill="#c2b298"/><polygon points="952.7,717.8 958.9,717.8 958.9,713.1 952.7,713.1" fill="#9d886b"/><polygon points="958.9,717.8 961.7,714.4 961.7,709.6 958.9,713.1" fill="#806c52"/><polygon points="952.7,713.1 958.9,713.1 961.7,709.6 955.4,709.6" fill="#c2b298"/><polygon points="1049.6,717.9 1055.8,717.9 1055.8,711.7 1049.6,711.7" fill="#898884"/><polygon points="1055.8,717.9 1058.5,714.4 1058.5,708.2 1055.8,711.7" fill="#6d6c68"/><polygon points="1049.6,711.7 1055.8,711.7 1058.5,708.2 1052.3,708.2" fill="#b7b6b1"/><polygon points="960.8,717.9 967.0,717.9 967.0,712.1 960.8,712.1" fill="#978671"/><polygon points="967.0,717.9 969.7,714.4 969.7,708.6 967.0,712.1" fill="#7a6b59"/><polygon points="960.8,712.1 967.0,712.1 969.7,708.6 963.5,708.6" fill="#bcb0a0"/><polygon points="1041.3,718.0 1047.5,718.0 1047.5,711.9 1041.3,711.9" fill="#898884"/><polygon points="1047.5,718.0 1050.3,714.5 1050.3,708.4 1047.5,711.9" fill="#6d6c68"/><polygon points="1041.3,711.9 1047.5,711.9 1050.3,708.4 1044.0,708.4" fill="#b7b6b1"/><polygon points="979.6,718.1 985.9,718.1 985.9,713.2 979.6,713.2" fill="#978671"/><polygon points="985.9,718.1 988.6,714.6 988.6,709.7 985.9,713.2" fill="#7a6b59"/><polygon points="979.6,713.2 985.9,713.2 988.6,709.7 982.3,709.7" fill="#bcb0a0"/><polygon points="1031.1,718.1 1037.4,718.1 1037.4,713.3 1031.1,713.3" fill="#978671"/><polygon points="1037.4,718.1 1040.1,714.6 1040.1,709.8 1037.4,713.3" fill="#7a6b59"/><polygon points="1031.1,713.3 1037.4,713.3 1040.1,709.8 1033.8,709.8" fill="#bcb0a0"/><polygon points="946.9,723.4 953.2,723.4 953.2,717.8 946.9,717.8" fill="#898884"/><polygon points="953.2,723.4 955.9,719.9 955.9,714.3 953.2,717.8" fill="#6d6c68"/><polygon points="946.9,717.8 953.2,717.8 955.9,714.3 949.6,714.3" fill="#b7b6b1"/><polygon points="1045.4,723.6 1051.7,723.6 1051.7,718.0 1045.4,718.0" fill="#9d886b"/><polygon points="1051.7,723.6 1054.4,720.1 1054.4,714.5 1051.7,718.0" fill="#806c52"/><polygon points="1045.4,718.0 1051.7,718.0 1054.4,714.5 1048.2,714.5" fill="#c2b298"/><polygon points="1019.4,723.7 1025.7,723.7 1025.7,717.6 1019.4,717.6" fill="#9d886b"/><polygon points="1025.7,723.7 1028.4,720.2 1028.4,714.1 1025.7,717.6" fill="#806c52"/><polygon points="1019.4,717.6 1025.7,717.6 1028.4,714.1 1022.2,714.1" fill="#c2b298"/><polygon points="930.8,723.8 937.0,723.8 937.0,718.7 930.8,718.7" fill="#8f8273"/><polygon points="937.0,723.8 939.8,720.3 939.8,715.2 937.0,718.7" fill="#77695a"/><polygon points="930.8,718.7 937.0,718.7 939.8,715.2 933.5,715.2" fill="#b9ad9d"/><polygon points="1011.0,723.8 1017.2,723.8 1017.2,719.1 1011.0,719.1" fill="#8f8273"/><polygon points="1017.2,723.8 1019.9,720.3 1019.9,715.7 1017.2,719.1" fill="#77695a"/><polygon points="1011.0,719.1 1017.2,719.1 1019.9,715.7 1013.7,715.7" fill="#b9ad9d"/><polygon points="982.5,723.9 988.7,723.9 988.7,718.6 982.5,718.6" fill="#9d886b"/><polygon points="988.7,723.9 991.5,720.4 991.5,715.1 988.7,718.6" fill="#806c52"/><polygon points="982.5,718.6 988.7,718.6 991.5,715.1 985.2,715.1" fill="#c2b298"/><polygon points="991.4,723.9 997.6,723.9 997.6,718.3 991.4,718.3" fill="#8a7d72"/><polygon points="997.6,723.9 1000.4,720.4 1000.4,714.9 997.6,718.3" fill="#73675c"/><polygon points="991.4,718.3 997.6,718.3 1000.4,714.9 994.1,714.9" fill="#b3a89c"/><polygon points="1026.2,723.9 1032.4,723.9 1032.4,717.9 1026.2,717.9" fill="#8f8273"/><polygon points="1032.4,723.9 1035.2,720.4 1035.2,714.4 1032.4,717.9" fill="#77695a"/><polygon points="1026.2,717.9 1032.4,717.9 1035.2,714.4 1028.9,714.4" fill="#b9ad9d"/><polygon points="965.0,724.0 971.2,724.0 971.2,719.0 965.0,719.0" fill="#898884"/><polygon points="971.2,724.0 973.9,720.5 973.9,715.6 971.2,719.0" fill="#6d6c68"/><polygon points="965.0,719.0 971.2,719.0 973.9,715.6 967.7,715.6" fill="#b7b6b1"/><polygon points="1001.2,724.2 1007.5,724.2 1007.5,719.0 1001.2,719.0" fill="#8f8273"/><polygon points="1007.5,724.2 1010.2,720.7 1010.2,715.5 1007.5,719.0" fill="#77695a"/><polygon points="1001.2,719.0 1007.5,719.0 1010.2,715.5 1004.0,715.5" fill="#b9ad9d"/><polygon points="955.6,724.4 961.8,724.4 961.8,719.5 955.6,719.5" fill="#898884"/><polygon points="961.8,724.4 964.6,720.9 964.6,716.0 961.8,719.5" fill="#6d6c68"/><polygon points="955.6,719.5 961.8,719.5 964.6,716.0 958.3,716.0" fill="#b7b6b1"/><polygon points="937.9,724.4 944.2,724.4 944.2,719.3 937.9,719.3" fill="#9d886b"/><polygon points="944.2,724.4 946.9,720.9 946.9,715.9 944.2,719.3" fill="#806c52"/><polygon points="937.9,719.3 944.2,719.3 946.9,715.9 940.7,715.9" fill="#c2b298"/><polygon points="1034.1,724.6 1040.4,724.6 1040.4,719.9 1034.1,719.9" fill="#978671"/><polygon points="1040.4,724.6 1043.1,721.1 1043.1,716.4 1040.4,719.9" fill="#7a6b59"/><polygon points="1034.1,719.9 1040.4,719.9 1043.1,716.4 1036.9,716.4" fill="#bcb0a0"/><polygon points="1031.7,729.9 1037.9,729.9 1037.9,723.8 1031.7,723.8" fill="#898884"/><polygon points="1037.9,729.9 1040.7,726.4 1040.7,720.3 1037.9,723.8" fill="#6d6c68"/><polygon points="1031.7,723.8 1037.9,723.8 1040.7,720.3 1034.4,720.3" fill="#b7b6b1"/><polygon points="1013.5,729.9 1019.7,729.9 1019.7,724.7 1013.5,724.7" fill="#9d886b"/><polygon points="1019.7,729.9 1022.5,726.4 1022.5,721.2 1019.7,724.7" fill="#806c52"/><polygon points="1013.5,724.7 1019.7,724.7 1022.5,721.2 1016.2,721.2" fill="#c2b298"/><polygon points="942.3,729.9 948.5,729.9 948.5,724.2 942.3,724.2" fill="#898884"/><polygon points="948.5,729.9 951.3,726.4 951.3,720.7 948.5,724.2" fill="#6d6c68"/><polygon points="942.3,724.2 948.5,724.2 951.3,720.7 945.0,720.7" fill="#b7b6b1"/><polygon points="969.9,729.9 976.2,729.9 976.2,723.6 969.9,723.6" fill="#978671"/><polygon points="976.2,729.9 978.9,726.4 978.9,720.1 976.2,723.6" fill="#7a6b59"/><polygon points="969.9,723.6 976.2,723.6 978.9,720.1 972.6,720.1" fill="#bcb0a0"/><polygon points="1021.6,730.1 1027.8,730.1 1027.8,724.2 1021.6,724.2" fill="#978671"/><polygon points="1027.8,730.1 1030.5,726.6 1030.5,720.7 1027.8,724.2" fill="#7a6b59"/><polygon points="1021.6,724.2 1027.8,724.2 1030.5,720.7 1024.3,720.7" fill="#bcb0a0"/><polygon points="997.2,730.2 1003.4,730.2 1003.4,724.6 997.2,724.6" fill="#8a7d72"/><polygon points="1003.4,730.2 1006.1,726.7 1006.1,721.1 1003.4,724.6" fill="#73675c"/><polygon points="997.2,724.6 1003.4,724.6 1006.1,721.1 999.9,721.1" fill="#b3a89c"/><polygon points="977.4,730.3 983.7,730.3 983.7,724.8 977.4,724.8" fill="#898884"/><polygon points="983.7,730.3 986.4,726.8 986.4,721.3 983.7,724.8" fill="#6d6c68"/><polygon points="977.4,724.8 983.7,724.8 986.4,721.3 980.1,721.3" fill="#b7b6b1"/><polygon points="1038.2,730.6 1044.5,730.6 1044.5,725.9 1038.2,725.9" fill="#898884"/><polygon points="1044.5,730.6 1047.2,727.1 1047.2,722.4 1044.5,725.9" fill="#6d6c68"/><polygon points="1038.2,725.9 1044.5,725.9 1047.2,722.4 1040.9,722.4" fill="#b7b6b1"/><polygon points="960.1,730.6 966.3,730.6 966.3,724.4 960.1,724.4" fill="#8f8273"/><polygon points="966.3,730.6 969.1,727.1 969.1,720.9 966.3,724.4" fill="#77695a"/><polygon points="960.1,724.4 966.3,724.4 969.1,720.9 962.8,720.9" fill="#b9ad9d"/><polygon points="933.8,730.8 940.1,730.8 940.1,724.8 933.8,724.8" fill="#8a7d72"/><polygon points="940.1,730.8 942.8,727.3 942.8,721.3 940.1,724.8" fill="#73675c"/><polygon points="933.8,724.8 940.1,724.8 942.8,721.3 936.6,721.3" fill="#b3a89c"/><polygon points="985.7,730.8 992.0,730.8 992.0,724.8 985.7,724.8" fill="#978671"/><polygon points="992.0,730.8 994.7,727.3 994.7,721.3 992.0,724.8" fill="#7a6b59"/><polygon points="985.7,724.8 992.0,724.8 994.7,721.3 988.4,721.3" fill="#bcb0a0"/><polygon points="925.2,731.0 931.4,731.0 931.4,724.7 925.2,724.7" fill="#9d886b"/><polygon points="931.4,731.0 934.2,727.5 934.2,721.2 931.4,724.7" fill="#806c52"/><polygon points="925.2,724.7 931.4,724.7 934.2,721.2 927.9,721.2" fill="#c2b298"/><polygon points="1003.1,731.0 1009.4,731.0 1009.4,725.0 1003.1,725.0" fill="#9d886b"/><polygon points="1009.4,731.0 1012.1,727.5 1012.1,721.5 1009.4,725.0" fill="#806c52"/><polygon points="1003.1,725.0 1009.4,725.0 1012.1,721.5 1005.8,721.5" fill="#c2b298"/><polygon points="951.9,731.1 958.1,731.1 958.1,724.9 951.9,724.9" fill="#978671"/><polygon points="958.1,731.1 960.9,727.6 960.9,721.4 958.1,724.9" fill="#7a6b59"/><polygon points="951.9,724.9 958.1,724.9 960.9,721.4 954.6,721.4" fill="#bcb0a0"/><polygon points="963.7,736.5 969.9,736.5 969.9,731.6 963.7,731.6" fill="#8a7d72"/><polygon points="969.9,736.5 972.6,733.0 972.6,728.1 969.9,731.6" fill="#73675c"/><polygon points="963.7,731.6 969.9,731.6 972.6,728.1 966.4,728.1" fill="#b3a89c"/><polygon points="937.9,736.5 944.2,736.5 944.2,730.2 937.9,730.2" fill="#8f8273"/><polygon points="944.2,736.5 946.9,733.0 946.9,726.7 944.2,730.2" fill="#77695a"/><polygon points="937.9,730.2 944.2,730.2 946.9,726.7 940.7,726.7" fill="#b9ad9d"/><polygon points="946.1,736.5 952.4,736.5 952.4,731.7 946.1,731.7" fill="#978671"/><polygon points="952.4,736.5 955.1,733.1 955.1,728.2 952.4,731.7" fill="#7a6b59"/><polygon points="946.1,731.7 952.4,731.7 955.1,728.2 948.8,728.2" fill="#bcb0a0"/><polygon points="1035.6,736.6 1041.9,736.6 1041.9,730.4 1035.6,730.4" fill="#978671"/><polygon points="1041.9,736.6 1044.6,733.1 1044.6,727.0 1041.9,730.4" fill="#7a6b59"/><polygon points="1035.6,730.4 1041.9,730.4 1044.6,727.0 1038.4,727.0" fill="#bcb0a0"/><polygon points="992.0,736.7 998.3,736.7 998.3,730.3 992.0,730.3" fill="#978671"/><polygon points="998.3,736.7 1001.0,733.2 1001.0,726.9 998.3,730.3" fill="#7a6b59"/><polygon points="992.0,730.3 998.3,730.3 1001.0,726.9 994.8,726.9" fill="#bcb0a0"/><polygon points="1007.0,736.7 1013.2,736.7 1013.2,731.4 1007.0,731.4" fill="#9d886b"/><polygon points="1013.2,736.7 1016.0,733.2 1016.0,728.0 1013.2,731.4" fill="#806c52"/><polygon points="1007.0,731.4 1013.2,731.4 1016.0,728.0 1009.7,728.0" fill="#c2b298"/><polygon points="954.4,736.8 960.6,736.8 960.6,731.4 954.4,731.4" fill="#8a7d72"/><polygon points="960.6,736.8 963.3,733.3 963.3,727.9 960.6,731.4" fill="#73675c"/><polygon points="954.4,731.4 960.6,731.4 963.3,727.9 957.1,727.9" fill="#b3a89c"/><polygon points="928.7,737.1 935.0,737.1 935.0,731.5 928.7,731.5" fill="#898884"/><polygon points="935.0,737.1 937.7,733.6 937.7,728.0 935.0,731.5" fill="#6d6c68"/><polygon points="928.7,731.5 935.0,731.5 937.7,728.0 931.5,728.0" fill="#b7b6b1"/><polygon points="919.9,737.1 926.2,737.1 926.2,731.4 919.9,731.4" fill="#8a7d72"/><polygon points="926.2,737.1 928.9,733.6 928.9,727.9 926.2,731.4" fill="#73675c"/><polygon points="919.9,731.4 926.2,731.4 928.9,727.9 922.7,727.9" fill="#b3a89c"/><polygon points="981.5,737.1 987.7,737.1 987.7,731.7 981.5,731.7" fill="#8a7d72"/><polygon points="987.7,737.1 990.4,733.7 990.4,728.2 987.7,731.7" fill="#73675c"/><polygon points="981.5,731.7 987.7,731.7 990.4,728.2 984.2,728.2" fill="#b3a89c"/><polygon points="998.8,737.2 1005.1,737.2 1005.1,731.3 998.8,731.3" fill="#898884"/><polygon points="1005.1,737.2 1007.8,733.8 1007.8,727.9 1005.1,731.3" fill="#6d6c68"/><polygon points="998.8,731.3 1005.1,731.3 1007.8,727.9 1001.6,727.9" fill="#b7b6b1"/><polygon points="1024.7,737.3 1031.0,737.3 1031.0,732.6 1024.7,732.6" fill="#8a7d72"/><polygon points="1031.0,737.3 1033.7,733.8 1033.7,729.2 1031.0,732.6" fill="#73675c"/><polygon points="1024.7,732.6 1031.0,732.6 1033.7,729.2 1027.5,729.2" fill="#b3a89c"/><polygon points="973.2,737.3 979.4,737.3 979.4,732.5 973.2,732.5" fill="#978671"/><polygon points="979.4,737.3 982.2,733.9 982.2,729.0 979.4,732.5" fill="#7a6b59"/><polygon points="973.2,732.5 979.4,732.5 982.2,729.0 975.9,729.0" fill="#bcb0a0"/><polygon points="1016.5,737.5 1022.8,737.5 1022.8,731.3 1016.5,731.3" fill="#8a7d72"/><polygon points="1022.8,737.5 1025.5,734.0 1025.5,727.8 1022.8,731.3" fill="#73675c"/><polygon points="1016.5,731.3 1022.8,731.3 1025.5,727.8 1019.3,727.8" fill="#b3a89c"/><polygon points="984.8,743.0 991.0,743.0 991.0,737.2 984.8,737.2" fill="#898884"/><polygon points="991.0,743.0 993.8,739.5 993.8,733.7 991.0,737.2" fill="#6d6c68"/><polygon points="984.8,737.2 991.0,737.2 993.8,733.7 987.5,733.7" fill="#b7b6b1"/><polygon points="941.6,743.1 947.8,743.1 947.8,736.7 941.6,736.7" fill="#8f8273"/><polygon points="947.8,743.1 950.5,739.6 950.5,733.2 947.8,736.7" fill="#77695a"/><polygon points="941.6,736.7 947.8,736.7 950.5,733.2 944.3,733.2" fill="#b9ad9d"/><polygon points="1011.1,743.2 1017.3,743.2 1017.3,737.6 1011.1,737.6" fill="#8f8273"/><polygon points="1017.3,743.2 1020.1,739.7 1020.1,734.1 1017.3,737.6" fill="#77695a"/><polygon points="1011.1,737.6 1017.3,737.6 1020.1,734.1 1013.8,734.1" fill="#b9ad9d"/><polygon points="1003.1,743.4 1009.4,743.4 1009.4,737.4 1003.1,737.4" fill="#978671"/><polygon points="1009.4,743.4 1012.1,739.9 1012.1,733.9 1009.4,737.4" fill="#7a6b59"/><polygon points="1003.1,737.4 1009.4,737.4 1012.1,733.9 1005.9,733.9" fill="#bcb0a0"/><polygon points="950.6,743.4 956.9,743.4 956.9,738.8 950.6,738.8" fill="#8f8273"/><polygon points="956.9,743.4 959.6,740.0 959.6,735.3 956.9,738.8" fill="#77695a"/><polygon points="950.6,738.8 956.9,738.8 959.6,735.3 953.3,735.3" fill="#b9ad9d"/><polygon points="959.8,743.5 966.0,743.5 966.0,737.2 959.8,737.2" fill="#8a7d72"/><polygon points="966.0,743.5 968.8,740.0 968.8,733.7 966.0,737.2" fill="#73675c"/><polygon points="959.8,737.2 966.0,737.2 968.8,733.7 962.5,733.7" fill="#b3a89c"/><polygon points="1020.1,743.5 1026.4,743.5 1026.4,737.5 1020.1,737.5" fill="#8f8273"/><polygon points="1026.4,743.5 1029.1,740.0 1029.1,734.0 1026.4,737.5" fill="#77695a"/><polygon points="1020.1,737.5 1026.4,737.5 1029.1,734.0 1022.9,734.0" fill="#b9ad9d"/><polygon points="922.5,743.6 928.8,743.6 928.8,737.6 922.5,737.6" fill="#9d886b"/><polygon points="928.8,743.6 931.5,740.1 931.5,734.1 928.8,737.6" fill="#806c52"/><polygon points="922.5,737.6 928.8,737.6 931.5,734.1 925.2,734.1" fill="#c2b298"/><polygon points="915.5,743.6 921.7,743.6 921.7,737.8 915.5,737.8" fill="#978671"/><polygon points="921.7,743.6 924.5,740.1 924.5,734.4 921.7,737.8" fill="#7a6b59"/><polygon points="915.5,737.8 921.7,737.8 924.5,734.4 918.2,734.4" fill="#bcb0a0"/><polygon points="1030.3,743.8 1036.5,743.8 1036.5,737.8 1030.3,737.8" fill="#978671"/><polygon points="1036.5,743.8 1039.2,740.3 1039.2,734.3 1036.5,737.8" fill="#7a6b59"/><polygon points="1030.3,737.8 1036.5,737.8 1039.2,734.3 1033.0,734.3" fill="#bcb0a0"/><polygon points="976.3,743.8 982.6,743.8 982.6,738.5 976.3,738.5" fill="#898884"/><polygon points="982.6,743.8 985.3,740.3 985.3,735.0 982.6,738.5" fill="#6d6c68"/><polygon points="976.3,738.5 982.6,738.5 985.3,735.0 979.0,735.0" fill="#b7b6b1"/><polygon points="994.7,744.0 1000.9,744.0 1000.9,739.1 994.7,739.1" fill="#8f8273"/><polygon points="1000.9,744.0 1003.6,740.5 1003.6,735.6 1000.9,739.1" fill="#77695a"/><polygon points="994.7,739.1 1000.9,739.1 1003.6,735.6 997.4,735.6" fill="#b9ad9d"/><polygon points="967.1,744.1 973.3,744.1 973.3,739.2 967.1,739.2" fill="#978671"/><polygon points="973.3,744.1 976.1,740.7 976.1,735.7 973.3,739.2" fill="#7a6b59"/><polygon points="967.1,739.2 973.3,739.2 976.1,735.7 969.8,735.7" fill="#bcb0a0"/><polygon points="930.9,744.1 937.1,744.1 937.1,738.5 930.9,738.5" fill="#978671"/><polygon points="937.1,744.1 939.8,740.7 939.8,735.0 937.1,738.5" fill="#7a6b59"/><polygon points="930.9,738.5 937.1,738.5 939.8,735.0 933.6,735.0" fill="#bcb0a0"/><polygon points="919.0,749.3 925.3,749.3 925.3,743.9 919.0,743.9" fill="#9d886b"/><polygon points="925.3,749.3 928.0,745.9 928.0,740.4 925.3,743.9" fill="#806c52"/><polygon points="919.0,743.9 925.3,743.9 928.0,740.4 921.8,740.4" fill="#c2b298"/><polygon points="909.8,749.4 916.0,749.4 916.0,743.7 909.8,743.7" fill="#898884"/><polygon points="916.0,749.4 918.7,745.9 918.7,740.2 916.0,743.7" fill="#6d6c68"/><polygon points="909.8,743.7 916.0,743.7 918.7,740.2 912.5,740.2" fill="#b7b6b1"/><polygon points="999.6,749.4 1005.9,749.4 1005.9,744.1 999.6,744.1" fill="#898884"/><polygon points="1005.9,749.4 1008.6,745.9 1008.6,740.7 1005.9,744.1" fill="#6d6c68"/><polygon points="999.6,744.1 1005.9,744.1 1008.6,740.7 1002.4,740.7" fill="#b7b6b1"/><polygon points="945.5,749.4 951.8,749.4 951.8,743.5 945.5,743.5" fill="#8f8273"/><polygon points="951.8,749.4 954.5,746.0 954.5,740.0 951.8,743.5" fill="#77695a"/><polygon points="945.5,743.5 951.8,743.5 954.5,740.0 948.3,740.0" fill="#b9ad9d"/><polygon points="1025.6,749.5 1031.9,749.5 1031.9,743.4 1025.6,743.4" fill="#8a7d72"/><polygon points="1031.9,749.5 1034.6,746.0 1034.6,740.0 1031.9,743.4" fill="#73675c"/><polygon points="1025.6,743.4 1031.9,743.4 1034.6,740.0 1028.3,740.0" fill="#b3a89c"/><polygon points="971.3,749.6 977.6,749.6 977.6,743.5 971.3,743.5" fill="#978671"/><polygon points="977.6,749.6 980.3,746.1 980.3,740.0 977.6,743.5" fill="#7a6b59"/><polygon points="971.3,743.5 977.6,743.5 980.3,740.0 974.1,740.0" fill="#bcb0a0"/><polygon points="927.6,749.7 933.9,749.7 933.9,743.7 927.6,743.7" fill="#8a7d72"/><polygon points="933.9,749.7 936.6,746.2 936.6,740.3 933.9,743.7" fill="#73675c"/><polygon points="927.6,743.7 933.9,743.7 936.6,740.3 930.4,740.3" fill="#b3a89c"/><polygon points="953.5,749.7 959.7,749.7 959.7,744.7 953.5,744.7" fill="#8a7d72"/><polygon points="959.7,749.7 962.5,746.3 962.5,741.2 959.7,744.7" fill="#73675c"/><polygon points="953.5,744.7 959.7,744.7 962.5,741.2 956.2,741.2" fill="#b3a89c"/><polygon points="962.3,750.0 968.6,750.0 968.6,744.0 962.3,744.0" fill="#978671"/><polygon points="968.6,750.0 971.3,746.5 971.3,740.5 968.6,744.0" fill="#7a6b59"/><polygon points="962.3,744.0 968.6,744.0 971.3,740.5 965.1,740.5" fill="#bcb0a0"/><polygon points="980.9,750.0 987.2,750.0 987.2,744.1 980.9,744.1" fill="#8f8273"/><polygon points="987.2,750.0 989.9,746.5 989.9,740.6 987.2,744.1" fill="#77695a"/><polygon points="980.9,744.1 987.2,744.1 989.9,740.6 983.7,740.6" fill="#b9ad9d"/><polygon points="1016.8,750.0 1023.1,750.0 1023.1,744.3 1016.8,744.3" fill="#8a7d72"/><polygon points="1023.1,750.0 1025.8,746.5 1025.8,740.8 1023.1,744.3" fill="#73675c"/><polygon points="1016.8,744.3 1023.1,744.3 1025.8,740.8 1019.6,740.8" fill="#b3a89c"/><polygon points="1005.8,750.2 1012.0,750.2 1012.0,744.8 1005.8,744.8" fill="#978671"/><polygon points="1012.0,750.2 1014.8,746.7 1014.8,741.3 1012.0,744.8" fill="#7a6b59"/><polygon points="1005.8,744.8 1012.0,744.8 1014.8,741.3 1008.5,741.3" fill="#bcb0a0"/><polygon points="990.2,750.3 996.4,750.3 996.4,744.5 990.2,744.5" fill="#9d886b"/><polygon points="996.4,750.3 999.2,746.8 999.2,741.0 996.4,744.5" fill="#806c52"/><polygon points="990.2,744.5 996.4,744.5 999.2,741.0 992.9,741.0" fill="#c2b298"/><polygon points="935.7,750.6 941.9,750.6 941.9,744.3 935.7,744.3" fill="#8f8273"/><polygon points="941.9,750.6 944.6,747.2 944.6,740.8 941.9,744.3" fill="#77695a"/><polygon points="935.7,744.3 941.9,744.3 944.6,740.8 938.4,740.8" fill="#b9ad9d"/><polygon points="912.8,755.8 919.1,755.8 919.1,749.8 912.8,749.8" fill="#8f8273"/><polygon points="919.1,755.8 921.8,752.4 921.8,746.3 919.1,749.8" fill="#77695a"/><polygon points="912.8,749.8 919.1,749.8 921.8,746.3 915.5,746.3" fill="#b9ad9d"/><polygon points="957.8,755.9 964.1,755.9 964.1,751.0 957.8,751.0" fill="#9d886b"/><polygon points="964.1,755.9 966.8,752.4 966.8,747.5 964.1,751.0" fill="#806c52"/><polygon points="957.8,751.0 964.1,751.0 966.8,747.5 960.5,747.5" fill="#c2b298"/><polygon points="984.7,755.9 990.9,755.9 990.9,750.1 984.7,750.1" fill="#8f8273"/><polygon points="990.9,755.9 993.6,752.4 993.6,746.6 990.9,750.1" fill="#77695a"/><polygon points="984.7,750.1 990.9,750.1 993.6,746.6 987.4,746.6" fill="#b9ad9d"/><polygon points="949.3,756.0 955.5,756.0 955.5,750.9 949.3,750.9" fill="#9d886b"/><polygon points="955.5,756.0 958.3,752.5 958.3,747.4 955.5,750.9" fill="#806c52"/><polygon points="949.3,750.9 955.5,750.9 958.3,747.4 952.0,747.4" fill="#c2b298"/><polygon points="1018.4,756.3 1024.7,756.3 1024.7,751.6 1018.4,751.6" fill="#898884"/><polygon points="1024.7,756.3 1027.4,752.9 1027.4,748.1 1024.7,751.6" fill="#6d6c68"/><polygon points="1018.4,751.6 1024.7,751.6 1027.4,748.1 1021.1,748.1" fill="#b7b6b1"/><polygon points="904.2,756.5 910.4,756.5 910.4,750.7 904.2,750.7" fill="#898884"/><polygon points="910.4,756.5 913.1,753.1 913.1,747.3 910.4,750.7" fill="#6d6c68"/><polygon points="904.2,750.7 910.4,750.7 913.1,747.3 906.9,747.3" fill="#b7b6b1"/><polygon points="974.2,756.6 980.5,756.6 980.5,751.3 974.2,751.3" fill="#978671"/><polygon points="980.5,756.6 983.2,753.1 983.2,747.9 980.5,751.3" fill="#7a6b59"/><polygon points="974.2,751.3 980.5,751.3 983.2,747.9 977.0,747.9" fill="#bcb0a0"/><polygon points="993.4,756.6 999.6,756.6 999.6,751.3 993.4,751.3" fill="#8f8273"/><polygon points="999.6,756.6 1002.3,753.2 1002.3,747.8 999.6,751.3" fill="#77695a"/><polygon points="993.4,751.3 999.6,751.3 1002.3,747.8 996.1,747.8" fill="#b9ad9d"/><polygon points="929.9,756.9 936.2,756.9 936.2,751.8 929.9,751.8" fill="#8a7d72"/><polygon points="936.2,756.9 938.9,753.4 938.9,748.3 936.2,751.8" fill="#73675c"/><polygon points="929.9,751.8 936.2,751.8 938.9,748.3 932.7,748.3" fill="#b3a89c"/><polygon points="1000.2,756.9 1006.5,756.9 1006.5,750.5 1000.2,750.5" fill="#8a7d72"/><polygon points="1006.5,756.9 1009.2,753.4 1009.2,747.1 1006.5,750.5" fill="#73675c"/><polygon points="1000.2,750.5 1006.5,750.5 1009.2,747.1 1002.9,747.1" fill="#b3a89c"/><polygon points="940.2,757.1 946.4,757.1 946.4,751.7 940.2,751.7" fill="#9d886b"/><polygon points="946.4,757.1 949.1,753.6 949.1,748.2 946.4,751.7" fill="#806c52"/><polygon points="940.2,751.7 946.4,751.7 949.1,748.2 942.9,748.2" fill="#c2b298"/><polygon points="1009.8,757.1 1016.1,757.1 1016.1,752.5 1009.8,752.5" fill="#8f8273"/><polygon points="1016.1,757.1 1018.8,753.6 1018.8,749.0 1016.1,752.5" fill="#77695a"/><polygon points="1009.8,752.5 1016.1,752.5 1018.8,749.0 1012.5,749.0" fill="#b9ad9d"/><polygon points="921.2,757.1 927.5,757.1 927.5,751.7 921.2,751.7" fill="#898884"/><polygon points="927.5,757.1 930.2,753.7 930.2,748.2 927.5,751.7" fill="#6d6c68"/><polygon points="921.2,751.7 927.5,751.7 930.2,748.2 924.0,748.2" fill="#b7b6b1"/><polygon points="965.0,757.2 971.2,757.2 971.2,751.1 965.0,751.1" fill="#978671"/><polygon points="971.2,757.2 974.0,753.7 974.0,747.6 971.2,751.1" fill="#7a6b59"/><polygon points="965.0,751.1 971.2,751.1 974.0,747.6 967.7,747.6" fill="#bcb0a0"/><polygon points="925.5,762.4 931.7,762.4 931.7,756.8 925.5,756.8" fill="#8f8273"/><polygon points="931.7,762.4 934.5,758.9 934.5,753.3 931.7,756.8" fill="#77695a"/><polygon points="925.5,756.8 931.7,756.8 934.5,753.3 928.2,753.3" fill="#b9ad9d"/><polygon points="899.3,762.7 905.6,762.7 905.6,757.2 899.3,757.2" fill="#8a7d72"/><polygon points="905.6,762.7 908.3,759.2 908.3,753.7 905.6,757.2" fill="#73675c"/><polygon points="899.3,757.2 905.6,757.2 908.3,753.7 902.1,753.7" fill="#b3a89c"/><polygon points="908.3,762.7 914.5,762.7 914.5,758.0 908.3,758.0" fill="#8f8273"/><polygon points="914.5,762.7 917.2,759.2 917.2,754.5 914.5,758.0" fill="#77695a"/><polygon points="908.3,758.0 914.5,758.0 917.2,754.5 911.0,754.5" fill="#b9ad9d"/><polygon points="917.2,762.7 923.5,762.7 923.5,756.6 917.2,756.6" fill="#8f8273"/><polygon points="923.5,762.7 926.2,759.2 926.2,753.2 923.5,756.6" fill="#77695a"/><polygon points="917.2,756.6 923.5,756.6 926.2,753.2 919.9,753.2" fill="#b9ad9d"/><polygon points="934.8,762.7 941.0,762.7 941.0,757.9 934.8,757.9" fill="#8a7d72"/><polygon points="941.0,762.7 943.8,759.2 943.8,754.4 941.0,757.9" fill="#73675c"/><polygon points="934.8,757.9 941.0,757.9 943.8,754.4 937.5,754.4" fill="#b3a89c"/><polygon points="943.7,762.7 949.9,762.7 949.9,756.7 943.7,756.7" fill="#8f8273"/><polygon points="949.9,762.7 952.6,759.2 952.6,753.2 949.9,756.7" fill="#77695a"/><polygon points="943.7,756.7 949.9,756.7 952.6,753.2 946.4,753.2" fill="#b9ad9d"/><polygon points="951.8,762.7 958.1,762.7 958.1,757.1 951.8,757.1" fill="#978671"/><polygon points="958.1,762.7 960.8,759.2 960.8,753.7 958.1,757.1" fill="#7a6b59"/><polygon points="951.8,757.1 958.1,757.1 960.8,753.7 954.5,753.7" fill="#bcb0a0"/><polygon points="960.3,762.7 966.5,762.7 966.5,757.2 960.3,757.2" fill="#978671"/><polygon points="966.5,762.7 969.3,759.2 969.3,753.7 966.5,757.2" fill="#7a6b59"/><polygon points="960.3,757.2 966.5,757.2 969.3,753.7 963.0,753.7" fill="#bcb0a0"/><polygon points="971.1,762.7 977.3,762.7 977.3,757.7 971.1,757.7" fill="#9d886b"/><polygon points="977.3,762.7 980.1,759.2 980.1,754.2 977.3,757.7" fill="#806c52"/><polygon points="971.1,757.7 977.3,757.7 980.1,754.2 973.8,754.2" fill="#c2b298"/><polygon points="978.2,762.7 984.5,762.7 984.5,757.2 978.2,757.2" fill="#8a7d72"/><polygon points="984.5,762.7 987.2,759.2 987.2,753.7 984.5,757.2" fill="#73675c"/><polygon points="978.2,757.2 984.5,757.2 987.2,753.7 981.0,753.7" fill="#b3a89c"/><polygon points="989.0,762.7 995.2,762.7 995.2,758.0 989.0,758.0" fill="#898884"/><polygon points="995.2,762.7 997.9,759.2 997.9,754.5 995.2,758.0" fill="#6d6c68"/><polygon points="989.0,758.0 995.2,758.0 997.9,754.5 991.7,754.5" fill="#b7b6b1"/><polygon points="996.8,762.7 1003.0,762.7 1003.0,757.3 996.8,757.3" fill="#898884"/><polygon points="1003.0,762.7 1005.8,759.2 1005.8,753.8 1003.0,757.3" fill="#6d6c68"/><polygon points="996.8,757.3 1003.0,757.3 1005.8,753.8 999.5,753.8" fill="#b7b6b1"/><polygon points="1004.3,762.7 1010.5,762.7 1010.5,756.6 1004.3,756.6" fill="#8f8273"/><polygon points="1010.5,762.7 1013.3,759.2 1013.3,753.1 1010.5,756.6" fill="#77695a"/><polygon points="1004.3,756.6 1010.5,756.6 1013.3,753.1 1007.0,753.1" fill="#b9ad9d"/><polygon points="1013.9,762.7 1020.1,762.7 1020.1,756.7 1013.9,756.7" fill="#8f8273"/><polygon points="1020.1,762.7 1022.8,759.2 1022.8,753.2 1020.1,756.7" fill="#77695a"/><polygon points="1013.9,756.7 1020.1,756.7 1022.8,753.2 1016.6,753.2" fill="#b9ad9d"/><polygon points="1030.8,758.2 1157.8,758.2 1218.2,697.2 1091.2,697.2" fill="#ababad"/><path d="M1068.9 758.2L1129.3 697.2M1077.8 758.2L1138.2 697.2M1114.6 758.2L1175.0 697.2M1123.5 758.2L1183.9 697.2" stroke="#a0a0a2" stroke-width="1.2" fill="none"/><polygon points="1089.0,711.3 1111.7,711.3 1111.7,707.0 1089.0,707.0" fill="#6b6b6d"/><polygon points="1111.7,711.3 1118.6,704.3 1118.6,700.0 1111.7,707.0" fill="#555557"/><polygon points="1089.0,707.0 1111.7,707.0 1118.6,700.0 1095.9,700.0" fill="#bcbcbe"/><polygon points="1160.2,716.1 1188.2,716.1 1188.2,712.3 1160.2,712.3" fill="#6b6b6d"/><polygon points="1188.2,716.1 1200.0,704.2 1200.0,700.4 1188.2,712.3" fill="#555557"/><polygon points="1160.2,712.3 1188.2,712.3 1200.0,700.4 1172.0,700.4" fill="#bcbcbe"/><polygon points="1107.3,732.3 1131.1,732.3 1131.1,728.5 1107.3,728.5" fill="#6b6b6d"/><polygon points="1131.1,732.3 1143.2,720.1 1143.2,716.3 1131.1,728.5" fill="#555557"/><polygon points="1107.3,728.5 1131.1,728.5 1143.2,716.3 1119.4,716.3" fill="#bcbcbe"/><polygon points="1048.0,746.9 1066.4,746.9 1093.2,719.6 1082.5,719.6" fill="#bcbcbe"/><polygon points="1066.4,746.9 1066.4,752.4 1093.2,725.0 1093.2,719.6" fill="#555557"/><polygon points="1048.0,746.9 1066.4,746.9 1066.4,752.4 1048.0,752.4" fill="#6b6b6d"/><polygon points="1130.0,752.2 1152.6,752.2 1152.6,745.7 1130.0,745.7" fill="#6b6b6d"/><polygon points="1152.6,752.2 1160.2,744.6 1160.2,738.1 1152.6,745.7" fill="#555557"/><polygon points="1130.0,745.7 1152.6,745.7 1160.2,738.1 1137.5,738.1" fill="#bcbcbe"/><polygon points="1162.9,757.1 1299.6,757.1 1365.5,695.6 1223.6,695.6" fill="#bce3a6"/><polygon points="1209.1,757.1 1252.7,757.1 1314.2,695.6 1270.6,695.6" fill="#a2c5a3"/><path d="M1335.2 705.3v-4.5M1340.0 705.3v-4.5" stroke="#3a4a1c" stroke-width="1.8"/><path d="M1332.0 701.0C1330.0 694.0 1334.7 688.6 1337.3 688.4C1340.5 688.6 1345.2 694.0 1343.2 701.0Q1337.6 703.7 1332.0 701.0Z" fill="#56bf3c"/><path d="M1333.8 697.2Q1334.0 692.7 1337.1 689.5Q1338.9 693.6 1337.1 698.1Z" fill="#80da62"/><path d="M1337.3 702.1L1338.1 696.3L1339.7 701.7Z" fill="#2a8428"/><path d="M1233.3 705.9v-4.5M1238.1 705.9v-4.5" stroke="#3a4a1c" stroke-width="1.8"/><path d="M1230.1 701.6C1228.1 694.6 1232.8 689.2 1235.4 689.0C1238.6 689.2 1243.3 694.6 1241.3 701.6Q1235.7 704.3 1230.1 701.6Z" fill="#56bf3c"/><path d="M1231.9 697.8Q1232.1 693.3 1235.2 690.1Q1237.0 694.2 1235.2 698.7Z" fill="#80da62"/><path d="M1235.4 702.7L1236.2 696.9L1237.8 702.3Z" fill="#2a8428"/><path d="M1268.4 705.9v-4.5M1273.2 705.9v-4.5" stroke="#3a4a1c" stroke-width="1.8"/><path d="M1265.2 701.6C1263.2 694.6 1267.9 689.2 1270.5 689.0C1273.7 689.2 1278.4 694.6 1276.4 701.6Q1270.8 704.3 1265.2 701.6Z" fill="#56bf3c"/><path d="M1267.0 697.8Q1267.2 693.3 1270.3 690.1Q1272.1 694.2 1270.3 698.7Z" fill="#80da62"/><path d="M1270.5 702.7L1271.3 696.9L1272.9 702.3Z" fill="#2a8428"/><path d="M1304.0 705.9v-4.5M1308.8 705.9v-4.5" stroke="#3a4a1c" stroke-width="1.8"/><path d="M1300.8 701.6C1298.8 694.6 1303.5 689.2 1306.1 689.0C1309.3 689.2 1314.0 694.6 1312.0 701.6Q1306.4 704.3 1300.8 701.6Z" fill="#56bf3c"/><path d="M1302.6 697.8Q1302.8 693.3 1305.9 690.1Q1307.8 694.2 1306.0 698.7Z" fill="#80da62"/><path d="M1306.1 702.7L1306.9 696.9L1308.5 702.3Z" fill="#2a8428"/><polygon points="1228.7,706.4 1241.2,706.4 1241.2,701.8 1228.7,701.8" fill="#5f5f61"/><polygon points="1241.2,706.4 1244.9,702.7 1244.9,698.1 1241.2,701.8" fill="#48484a"/><polygon points="1228.7,701.8 1241.2,701.8 1244.9,698.1 1232.4,698.1" fill="#9a9a9c"/><polygon points="1322.5,709.7 1334.5,709.7 1334.5,706.5 1322.5,706.5" fill="#5f5f61"/><polygon points="1334.5,709.7 1337.6,706.6 1337.6,703.4 1334.5,706.5" fill="#48484a"/><polygon points="1322.5,706.5 1334.5,706.5 1337.6,703.4 1325.6,703.4" fill="#9a9a9c"/><polygon points="1265.9,717.7 1276.4,717.7 1276.4,712.7 1265.9,712.7" fill="#5f5f61"/><polygon points="1276.4,717.7 1281.3,712.8 1281.3,707.8 1276.4,712.7" fill="#48484a"/><polygon points="1265.9,712.7 1276.4,712.7 1281.3,707.8 1270.8,707.8" fill="#9a9a9c"/><path d="M1245.7 726.4v-4.5M1250.5 726.4v-4.5" stroke="#3a4a1c" stroke-width="1.8"/><path d="M1242.5 722.1C1240.5 715.1 1245.2 709.7 1247.8 709.5C1251.0 709.7 1255.7 715.1 1253.7 722.1Q1248.1 724.8 1242.5 722.1Z" fill="#56bf3c"/><path d="M1244.3 718.3Q1244.5 713.8 1247.6 710.6Q1249.4 714.7 1247.6 719.2Z" fill="#80da62"/><path d="M1247.8 723.2L1248.6 717.4L1250.2 722.8Z" fill="#2a8428"/><path d="M1213.4 727.4v-4.5M1218.2 727.4v-4.5" stroke="#3a4a1c" stroke-width="1.8"/><path d="M1210.2 723.1C1208.2 716.1 1212.9 710.7 1215.5 710.5C1218.7 710.7 1223.4 716.1 1221.4 723.1Q1215.8 725.8 1210.2 723.1Z" fill="#56bf3c"/><path d="M1212.0 719.3Q1212.2 714.8 1215.3 711.6Q1217.1 715.7 1215.3 720.2Z" fill="#80da62"/><path d="M1215.5 724.2L1216.3 718.4L1217.9 723.8Z" fill="#2a8428"/><path d="M1284.5 727.4v-4.5M1289.3 727.4v-4.5" stroke="#3a4a1c" stroke-width="1.8"/><path d="M1281.3 723.1C1279.3 716.1 1284.0 710.7 1286.6 710.5C1289.8 710.7 1294.5 716.1 1292.5 723.1Q1286.9 725.8 1281.3 723.1Z" fill="#56bf3c"/><path d="M1283.1 719.3Q1283.3 714.8 1286.4 711.6Q1288.2 715.7 1286.5 720.2Z" fill="#80da62"/><path d="M1286.6 724.2L1287.4 718.4L1289.0 723.8Z" fill="#2a8428"/><path d="M1311.5 731.8v-4.5M1316.3 731.8v-4.5" stroke="#3a4a1c" stroke-width="1.8"/><path d="M1308.3 727.5C1306.3 720.5 1311.0 715.1 1313.6 714.9C1316.8 715.1 1321.5 720.5 1319.5 727.5Q1313.9 730.2 1308.3 727.5Z" fill="#56bf3c"/><path d="M1310.1 723.7Q1310.3 719.2 1313.4 716.0Q1315.2 720.1 1313.5 724.6Z" fill="#80da62"/><path d="M1313.6 728.6L1314.4 722.8L1316.0 728.2Z" fill="#2a8428"/><polygon points="1241.1,744.7 1247.6,744.7 1247.6,739.7 1241.1,739.7" fill="#5f5f61"/><polygon points="1247.6,744.7 1251.9,740.4 1251.9,735.4 1247.6,739.7" fill="#48484a"/><polygon points="1241.1,739.7 1247.6,739.7 1251.9,735.4 1245.4,735.4" fill="#9a9a9c"/><path d="M1187.5 747.5v-4.5M1192.3 747.5v-4.5" stroke="#3a4a1c" stroke-width="1.8"/><path d="M1184.3 743.2C1182.3 736.2 1187.0 730.8 1189.6 730.6C1192.8 730.8 1197.5 736.2 1195.5 743.2Q1189.9 745.9 1184.3 743.2Z" fill="#56bf3c"/><path d="M1186.1 739.4Q1186.3 734.9 1189.4 731.8Q1191.2 735.8 1189.5 740.3Z" fill="#80da62"/><path d="M1189.6 744.3L1190.4 738.5L1192.0 743.9Z" fill="#2a8428"/><polygon points="1289.1,751.2 1295.1,751.2 1295.1,745.6 1289.1,745.6" fill="#5f5f61"/><polygon points="1295.1,751.2 1299.4,746.9 1299.4,741.3 1295.1,745.6" fill="#48484a"/><polygon points="1289.1,745.6 1295.1,745.6 1299.4,741.3 1293.4,741.3" fill="#9a9a9c"/><path d="M1283.5 751.2v-4.5M1288.3 751.2v-4.5" stroke="#3a4a1c" stroke-width="1.8"/><path d="M1280.3 746.9C1278.3 740.0 1283.0 734.5 1285.6 734.3C1288.8 734.5 1293.5 740.0 1291.5 746.9Q1285.9 749.6 1280.3 746.9Z" fill="#56bf3c"/><path d="M1282.1 743.1Q1282.3 738.6 1285.4 735.5Q1287.2 739.5 1285.5 744.0Z" fill="#80da62"/><path d="M1285.6 748.0L1286.4 742.2L1288.0 747.6Z" fill="#2a8428"/><path d="M1218.8 751.7v-4.5M1223.6 751.7v-4.5" stroke="#3a4a1c" stroke-width="1.8"/><path d="M1215.6 747.4C1213.6 740.5 1218.3 735.0 1220.9 734.8C1224.1 735.0 1228.8 740.5 1226.8 747.4Q1221.2 750.1 1215.6 747.4Z" fill="#56bf3c"/><path d="M1217.4 743.6Q1217.6 739.1 1220.7 736.0Q1222.6 740.0 1220.8 744.5Z" fill="#80da62"/><path d="M1220.9 748.5L1221.7 742.7L1223.3 748.1Z" fill="#2a8428"/><path d="M1253.3 751.7v-4.5M1258.1 751.7v-4.5" stroke="#3a4a1c" stroke-width="1.8"/><path d="M1250.1 747.4C1248.1 740.5 1252.8 735.0 1255.4 734.8C1258.6 735.0 1263.3 740.5 1261.3 747.4Q1255.7 750.1 1250.1 747.4Z" fill="#56bf3c"/><path d="M1251.9 743.6Q1252.1 739.1 1255.2 736.0Q1257.1 740.0 1255.3 744.5Z" fill="#80da62"/><path d="M1255.4 748.5L1256.2 742.7L1257.8 748.1Z" fill="#2a8428"/><polygon points="1182.3,752.2 1195.3,752.2 1195.3,747.0 1182.3,747.0" fill="#5f5f61"/><polygon points="1195.3,752.2 1200.2,747.3 1200.2,742.1 1195.3,747.0" fill="#48484a"/><polygon points="1182.3,747.0 1195.3,747.0 1200.2,742.1 1187.2,742.1" fill="#9a9a9c"/><polygon points="1315.0,758.8 1451.4,758.8 1517.4,698.1 1381.0,698.1" fill="#b2b2b4"/><path d="M1351.8 758.8L1417.8 698.1M1364.1 758.8L1430.1 698.1M1399.6 758.8L1465.6 698.1M1411.8 758.8L1477.8 698.1" stroke="#a8a8aa" stroke-width="1.4" fill="none"/><rect x="1424.7" y="692.9" width="3.2" height="14.6" fill="#3a3a3c"/><rect x="1433.8" y="691.6" width="3.9" height="15.9" fill="#3a3a3c"/><path d="M1434.2 692.1Q1434.8 684.4 1439.3 680.4L1444.3 686.4Q1438.3 689.4 1437.6 692.1Z" fill="#858587"/><circle cx="1442.3" cy="682.4" r="5.4" fill="#9b9b9d"/><rect x="1380.3" y="690.3" width="3.2" height="13.7" fill="#3a3a3c"/><path d="M1380.4 690.8Q1381.0 685.1 1388.4 681.1L1393.4 687.1Q1384.5 690.1 1383.8 690.8Z" fill="#858587"/><circle cx="1391.4" cy="683.1" r="5.4" fill="#9b9b9d"/><rect x="1475.6" y="696.1" width="4.5" height="13.4" fill="#3a3a3c"/><path d="M1476.3 696.6Q1476.9 685.7 1481.0 681.7L1486.0 687.7Q1480.4 690.7 1479.7 696.6Z" fill="#858587"/><circle cx="1484.0" cy="683.7" r="5.4" fill="#9b9b9d"/><polygon points="1416.2,714.4 1439.7,714.4 1439.7,710.5 1416.2,710.5" fill="#666668"/><polygon points="1439.7,714.4 1447.6,707.1 1447.6,703.2 1439.7,710.5" fill="#525254"/><polygon points="1416.2,710.5 1439.7,710.5 1447.6,703.2 1424.1,703.2" fill="#878789"/><polygon points="1373.8,715.7 1384.8,715.7 1384.8,706.6 1373.8,706.6" fill="#666668"/><polygon points="1384.8,715.7 1395.4,706.0 1395.4,696.9 1384.8,706.6" fill="#525254"/><polygon points="1373.8,706.6 1384.8,706.6 1395.4,696.9 1384.4,696.9" fill="#878789"/><polygon points="1465.1,717.0 1482.7,717.0 1482.7,713.1 1465.1,713.1" fill="#666668"/><polygon points="1482.7,717.0 1490.6,709.7 1490.6,705.8 1482.7,713.1" fill="#525254"/><polygon points="1465.1,713.1 1482.7,713.1 1490.6,705.8 1473.0,705.8" fill="#878789"/><rect x="1395.9" y="728.1" width="2.2" height="12.4" fill="#3a3a3c"/><rect x="1401.2" y="721.6" width="2.6" height="12.4" fill="#3a3a3c"/><rect x="1405.0" y="717.7" width="2.7" height="12.3" fill="#3a3a3c"/><rect x="1346.3" y="726.8" width="5.3" height="14.2" fill="#3a3a3c"/><path d="M1347.4 727.3Q1348.0 719.7 1351.8 715.7L1356.8 721.7Q1351.5 724.7 1350.8 727.3Z" fill="#858587"/><circle cx="1354.8" cy="717.7" r="5.4" fill="#9b9b9d"/><rect x="1439.0" y="729.4" width="5.9" height="14.6" fill="#3a3a3c"/><path d="M1440.4 729.9Q1441.0 721.0 1445.8 717.0L1450.8 723.0Q1444.5 726.0 1443.8 729.9Z" fill="#858587"/><circle cx="1448.8" cy="719.0" r="5.4" fill="#9b9b9d"/><polygon points="1384.8,749.0 1403.1,749.0 1403.1,743.1 1384.8,743.1" fill="#666668"/><polygon points="1403.1,749.0 1420.9,732.6 1420.9,726.7 1403.1,743.1" fill="#525254"/><polygon points="1384.8,743.1 1403.1,743.1 1420.9,726.7 1402.6,726.7" fill="#878789"/><polygon points="1333.3,751.6 1356.1,751.6 1356.1,744.4 1333.3,744.4" fill="#666668"/><polygon points="1356.1,751.6 1365.3,743.1 1365.3,735.9 1356.1,744.4" fill="#525254"/><polygon points="1333.3,744.4 1356.1,744.4 1365.3,735.9 1342.5,735.9" fill="#878789"/><polygon points="1428.6,752.3 1448.8,752.3 1448.8,747.0 1428.6,747.0" fill="#666668"/><polygon points="1448.8,752.3 1457.4,744.4 1457.4,739.1 1448.8,747.0" fill="#525254"/><polygon points="1428.6,747.0 1448.8,747.0 1457.4,739.1 1437.2,739.1" fill="#878789"/></g><g font-family='"Liberation Serif","Noto Serif CJK SC",serif' font-weight="700" font-size="20" fill="#6c6c6c"><text x="116.3" y="794.0">LCZ 1</text><text x="116.3" y="818.5" font-size="19.8">高密度高高度</text><text x="270.2" y="792.3">LCZ 2</text><text x="270.2" y="816.8" font-size="19.8">高密度中高度</text><text x="414.0" y="791.3">LCZ 3</text><text x="414.0" y="815.8" font-size="19.8">高密度低高度</text><text x="558.0" y="791.3">LCZ 4</text><text x="558.0" y="815.8" font-size="19.8">低密度高高度</text><text x="688.2" y="790.9">LCZ 5</text><text x="688.2" y="815.4" font-size="19.8">低密度中高度</text><text x="812.1" y="793.1">LCZ 6</text><text x="812.1" y="817.6" font-size="19.8">低密度低高度</text><text x="931.8" y="792.0">LCZ 7</text><text x="931.8" y="816.5" font-size="19.8">轻质低密度</text><text x="1066.4" y="790.9">LCZ 8</text><text x="1066.4" y="815.4" font-size="19.8">大型低密度</text><text x="1214.8" y="790.9">LCZ 9</text><text x="1214.8" y="815.4" font-size="19.8">稀疏村庄</text><text x="1363.7" y="793.1">LCZ 10</text><text x="1363.7" y="817.6" font-size="19.8">工业区</text></g></g>
<g font-family='"Liberation Serif","Noto Serif CJK SC",serif' font-weight="700" font-size="24" fill="#6e6e70"><rect x="1518" y="251.3" width="16" height="16" fill="#4a8bc9"/><text x="1561.5" y="268.6">白天<tspan font-size="26" dx="7">LT8_</tspan><tspan dx="2">广州</tspan></text><rect x="1518" y="308.8" width="16" height="16" fill="#a9a9ab"/><text x="1561.5" y="326.1">白天<tspan font-size="26" dx="7">Mod_</tspan><tspan dx="2">广州</tspan></text><rect x="1518" y="366.2" width="16" height="16" fill="#2f5687"/><text x="1561.5" y="383.5">白天<tspan font-size="26" dx="7">LT8_</tspan><tspan dx="2">香港</tspan></text><rect x="1518" y="423.6" width="16" height="16" fill="#7f7f82"/><text x="1561.5" y="440.9">白天<tspan font-size="26" dx="7">Mod_</tspan><tspan dx="2">香港</tspan></text><rect x="1518" y="481.0" width="16" height="16" fill="#2b2b2b"/><text x="1561.5" y="498.3">白天<tspan font-size="26" dx="7">AT_</tspan><tspan dx="2">香港</tspan></text></g>
<text transform="translate(38 431) rotate(-90)" text-anchor="middle" font-family='"Liberation Serif","Noto Serif CJK SC",serif' font-weight="300" font-size="33" fill="#1d1d1d">均值化夜晚温度<tspan dx="2">/</tspan><tspan dx="1">℃</tspan></text>
<g font-family='"Liberation Serif","Noto Serif CJK SC",serif' font-size="31" fill="#1a1a1a" font-weight="300"><text x="759.7" y="884">（</text><text x="793.2" y="883.8" font-weight="400" font-size="29">a</text><text x="811" y="884">）</text><text x="833.6" y="884">白</text><text x="866.2" y="884">天</text></g>
<g id="chart-b">
<path d="M145.6 949.2H1485.5M145.6 1007.3H1485.5M145.6 1065.4H1485.5M145.6 1123.5H1485.5M145.6 1181.6H1485.5M145.6 1239.7H1485.5M145.6 1297.9H1485.5M145.6 1356.0H1485.5M145.6 1414.1H1485.5M145.6 1472.2H1485.5M145.6 1530.3H1485.5M145.6 1588.4H1485.5M279.6 949.2V1588.4M413.6 949.2V1588.4M547.6 949.2V1588.4M681.6 949.2V1588.4M815.6 949.2V1588.4M949.6 949.2V1588.4M1083.6 949.2V1588.4M1217.6 949.2V1588.4M1351.6 949.2V1588.4M1485.6 949.2V1588.4" stroke="#d0d0d2" stroke-width="2.1" fill="none"/>
<rect x="161.0" y="1045.7" width="20.9" height="194.1" fill="url(#gB2)"/>
<rect x="181.7" y="1092.4" width="20.9" height="147.4" fill="#b9b9bb"/>
<rect x="202.3" y="1079.2" width="20.9" height="160.6" fill="url(#gD)"/>
<rect x="222.9" y="1166.8" width="20.9" height="73.0" fill="#808184"/>
<rect x="243.6" y="1072.9" width="20.9" height="166.9" fill="#2a2a2a"/>
<rect x="295.0" y="1106.4" width="20.9" height="133.4" fill="url(#gB2)"/>
<rect x="315.6" y="1111.6" width="20.9" height="128.2" fill="#b9b9bb"/>
<rect x="336.3" y="1025.7" width="20.9" height="214.1" fill="url(#gD)"/>
<rect x="356.9" y="1132.4" width="20.9" height="107.4" fill="#808184"/>
<rect x="377.6" y="1155.8" width="20.9" height="84.0" fill="#2a2a2a"/>
<rect x="429.0" y="1204.0" width="20.9" height="35.8" fill="url(#gB2)"/>
<rect x="449.6" y="1184.0" width="20.9" height="55.8" fill="#b9b9bb"/>
<rect x="470.3" y="1111.1" width="20.9" height="128.7" fill="url(#gD)"/>
<rect x="490.9" y="1180.5" width="20.9" height="59.3" fill="#808184"/>
<rect x="511.6" y="1133.6" width="20.9" height="106.2" fill="#2a2a2a"/>
<rect x="604.3" y="1131.2" width="20.9" height="108.6" fill="url(#gD)"/>
<rect x="625.0" y="1170.6" width="20.9" height="69.2" fill="#808184"/>
<rect x="645.6" y="1151.2" width="20.9" height="88.6" fill="#2a2a2a"/>
<rect x="697.0" y="1167.2" width="20.9" height="72.6" fill="url(#gB2)"/>
<rect x="717.6" y="1142.4" width="20.9" height="97.4" fill="#b9b9bb"/>
<rect x="738.3" y="1157.2" width="20.9" height="82.6" fill="url(#gD)"/>
<rect x="759.0" y="1169.4" width="20.9" height="70.4" fill="#808184"/>
<rect x="779.6" y="1153.4" width="20.9" height="86.4" fill="#2a2a2a"/>
<rect x="831.0" y="1239.8" width="20.9" height="87.9" fill="url(#gB2)"/>
<rect x="851.6" y="1239.8" width="20.9" height="50.7" fill="#b9b9bb"/>
<rect x="872.3" y="1220.3" width="20.9" height="19.5" fill="url(#gD)"/>
<rect x="893.0" y="1202.9" width="20.9" height="36.9" fill="#808184"/>
<rect x="913.6" y="1239.8" width="20.9" height="16.0" fill="#2a2a2a"/>
<rect x="965.0" y="1239.8" width="20.9" height="136.1" fill="url(#gB2)"/>
<rect x="985.6" y="1239.8" width="20.9" height="13.0" fill="#b9b9bb"/>
<rect x="1006.3" y="1182.9" width="20.9" height="56.9" fill="url(#gD)"/>
<rect x="1027.0" y="1200.6" width="20.9" height="39.2" fill="#808184"/>
<rect x="1047.6" y="1239.8" width="20.9" height="109.9" fill="#2a2a2a"/>
<rect x="1099.0" y="1079.2" width="20.9" height="160.6" fill="url(#gB2)"/>
<rect x="1119.7" y="1161.9" width="20.9" height="77.9" fill="#b9b9bb"/>
<rect x="1140.3" y="1152.4" width="20.9" height="87.4" fill="url(#gD)"/>
<rect x="1161.0" y="1210.4" width="20.9" height="29.4" fill="#808184"/>
<rect x="1181.6" y="1179.6" width="20.9" height="60.2" fill="#2a2a2a"/>
<rect x="1233.0" y="1239.8" width="20.9" height="174.1" fill="url(#gB2)"/>
<rect x="1253.7" y="1239.8" width="20.9" height="163.8" fill="#b9b9bb"/>
<rect x="1274.3" y="1239.8" width="20.9" height="296.2" fill="url(#gD)"/>
<rect x="1295.0" y="1239.8" width="20.9" height="170.8" fill="#808184"/>
<rect x="1315.6" y="1239.8" width="20.9" height="139.6" fill="#2a2a2a"/>
<rect x="1367.0" y="1239.8" width="20.9" height="66.6" fill="url(#gB2)"/>
<rect x="1387.7" y="1239.8" width="20.9" height="90.3" fill="#b9b9bb"/>
<rect x="1408.3" y="1239.8" width="20.9" height="190.5" fill="url(#gD)"/>
<rect x="1429.0" y="1239.8" width="20.9" height="78.0" fill="#808184"/>
<rect x="1449.6" y="1239.8" width="20.9" height="128.7" fill="#2a2a2a"/>
<path d="M145.6 949.2h7.5M145.6 1007.3h7.5M145.6 1065.4h7.5M145.6 1123.5h7.5M145.6 1181.6h7.5M145.6 1239.7h7.5M145.6 1297.9h7.5M145.6 1356.0h7.5M145.6 1414.1h7.5M145.6 1472.2h7.5M145.6 1530.3h7.5M145.6 1588.4h7.5" stroke="#232323" stroke-width="4.6" fill="none"/>
<path d="M145.6 946.9V1590.7" stroke="#232323" stroke-width="4.8" fill="none"/>
<path d="M145.6 1239.8H1487.9" stroke="#353535" stroke-width="5.4" fill="none"/>
<path d="M279.6 1232.8v14M413.6 1232.8v14M547.6 1232.8v14M681.6 1232.8v14M815.6 1232.8v14M949.6 1232.8v14M1083.6 1232.8v14M1217.6 1232.8v14M1351.6 1232.8v14M1485.6 1232.8v14" stroke="#353535" stroke-width="4.8" fill="none"/>
<text x="119.4" y="957.9" text-anchor="end" font-family='"Liberation Sans","Noto Sans CJK SC",sans-serif' font-weight="700" font-size="25.5" fill="#868a90">2.5</text>
<text x="119.4" y="1016.0" text-anchor="end" font-family='"Liberation Sans","Noto Sans CJK SC",sans-serif' font-weight="700" font-size="25.5" fill="#868a90">2.0</text>
<text x="119.4" y="1074.1" text-anchor="end" font-family='"Liberation Sans","Noto Sans CJK SC",sans-serif' font-weight="700" font-size="25.5" fill="#868a90">1.5</text>
<text x="119.4" y="1132.2" text-anchor="end" font-family='"Liberation Sans","Noto Sans CJK SC",sans-serif' font-weight="700" font-size="25.5" fill="#868a90">1.0</text>
<text x="119.4" y="1190.3" text-anchor="end" font-family='"Liberation Sans","Noto Sans CJK SC",sans-serif' font-weight="700" font-size="25.5" fill="#868a90">0.5</text>
<text x="119.4" y="1248.4" text-anchor="end" font-family='"Liberation Sans","Noto Sans CJK SC",sans-serif' font-weight="700" font-size="25.5" fill="#868a90">0.0</text>
<text x="119.4" y="1306.6" text-anchor="end" font-family='"Liberation Sans","Noto Sans CJK SC",sans-serif' font-weight="700" font-size="25.5" fill="#868a90">-0.5</text>
<text x="119.4" y="1364.7" text-anchor="end" font-family='"Liberation Sans","Noto Sans CJK SC",sans-serif' font-weight="700" font-size="25.5" fill="#868a90">-1.0</text>
<text x="119.4" y="1422.8" text-anchor="end" font-family='"Liberation Sans","Noto Sans CJK SC",sans-serif' font-weight="700" font-size="25.5" fill="#868a90">-1.5</text>
<text x="119.4" y="1480.9" text-anchor="end" font-family='"Liberation Sans","Noto Sans CJK SC",sans-serif' font-weight="700" font-size="25.5" fill="#868a90">-2.0</text>
<text x="119.4" y="1539.0" text-anchor="end" font-family='"Liberation Sans","Noto Sans CJK SC",sans-serif' font-weight="700" font-size="25.5" fill="#868a90">-2.5</text>
<text x="119.4" y="1597.1" text-anchor="end" font-family='"Liberation Sans","Noto Sans CJK SC",sans-serif' font-weight="700" font-size="25.5" fill="#868a90">-3.0</text>
</g>
<g id="strip-b"><g clip-path="url(#cpb)"><g filter="url(#bl)" transform="translate(2.2 911.6) scale(1.0017 1)"><polygon points="111.9,761.7 219.9,761.7 255.9,722.0 160.8,722.0" fill="#c6c6c6"/><polygon points="163.9,724.0 175.9,724.0 175.9,682.0 163.9,682.0" fill="#727274"/><polygon points="175.9,724.0 179.1,720.5 179.1,678.5 175.9,682.0" fill="#555557"/><polygon points="163.9,682.0 175.9,682.0 179.1,678.5 167.1,678.5" fill="#9c9c9e"/><polygon points="223.2,724.0 235.2,724.0 235.2,686.0 223.2,686.0" fill="#727274"/><polygon points="235.2,724.0 238.4,720.5 238.4,682.5 235.2,686.0" fill="#555557"/><polygon points="223.2,686.0 235.2,686.0 238.4,682.5 226.4,682.5" fill="#9c9c9e"/><polygon points="255.0,724.0 267.0,724.0 267.0,697.0 255.0,697.0" fill="#727274"/><polygon points="267.0,724.0 270.2,720.5 270.2,693.5 267.0,697.0" fill="#555557"/><polygon points="255.0,697.0 267.0,697.0 270.2,693.5 258.2,693.5" fill="#9c9c9e"/><polygon points="150.8,737.0 162.8,737.0 162.8,698.0 150.8,698.0" fill="#727274"/><polygon points="162.8,737.0 166.0,733.5 166.0,694.5 162.8,698.0" fill="#555557"/><polygon points="150.8,698.0 162.8,698.0 166.0,694.5 154.0,694.5" fill="#9c9c9e"/><polygon points="178.3,737.0 190.3,737.0 190.3,690.0 178.3,690.0" fill="#727274"/><polygon points="190.3,737.0 193.5,733.5 193.5,686.5 190.3,690.0" fill="#555557"/><polygon points="178.3,690.0 190.3,690.0 193.5,686.5 181.5,686.5" fill="#9c9c9e"/><polygon points="198.6,737.0 210.6,737.0 210.6,690.0 198.6,690.0" fill="#727274"/><polygon points="210.6,737.0 213.8,733.5 213.8,686.5 210.6,690.0" fill="#555557"/><polygon points="198.6,690.0 210.6,690.0 213.8,686.5 201.8,686.5" fill="#9c9c9e"/><polygon points="214.5,737.0 226.5,737.0 226.5,702.0 214.5,702.0" fill="#727274"/><polygon points="226.5,737.0 229.7,733.5 229.7,698.5 226.5,702.0" fill="#555557"/><polygon points="214.5,702.0 226.5,702.0 229.7,698.5 217.7,698.5" fill="#9c9c9e"/><polygon points="243.9,737.0 255.9,737.0 255.9,689.0 243.9,689.0" fill="#727274"/><polygon points="255.9,737.0 259.1,733.5 259.1,685.5 255.9,689.0" fill="#555557"/><polygon points="243.9,689.0 255.9,689.0 259.1,685.5 247.1,685.5" fill="#9c9c9e"/><polygon points="137.8,748.0 149.8,748.0 149.8,708.0 137.8,708.0" fill="#727274"/><polygon points="149.8,748.0 153.0,744.5 153.0,704.5 149.8,708.0" fill="#555557"/><polygon points="137.8,708.0 149.8,708.0 153.0,704.5 141.0,704.5" fill="#a6a6a8"/><polygon points="162.9,748.0 174.9,748.0 174.9,708.0 162.9,708.0" fill="#727274"/><polygon points="174.9,748.0 178.1,744.5 178.1,704.5 174.9,708.0" fill="#555557"/><polygon points="162.9,708.0 174.9,708.0 178.1,704.5 166.1,704.5" fill="#a6a6a8"/><polygon points="184.1,748.0 196.1,748.0 196.1,711.0 184.1,711.0" fill="#727274"/><polygon points="196.1,748.0 199.3,744.5 199.3,707.5 196.1,711.0" fill="#555557"/><polygon points="184.1,711.0 196.1,711.0 199.3,707.5 187.3,707.5" fill="#a6a6a8"/><polygon points="203.4,748.0 215.4,748.0 215.4,712.0 203.4,712.0" fill="#727274"/><polygon points="215.4,748.0 218.6,744.5 218.6,708.5 215.4,712.0" fill="#555557"/><polygon points="203.4,712.0 215.4,712.0 218.6,708.5 206.6,708.5" fill="#a6a6a8"/><polygon points="229.5,748.0 241.5,748.0 241.5,713.5 229.5,713.5" fill="#727274"/><polygon points="241.5,748.0 244.7,744.5 244.7,710.0 241.5,713.5" fill="#555557"/><polygon points="229.5,713.5 241.5,713.5 244.7,710.0 232.7,710.0" fill="#a6a6a8"/><polygon points="125.7,757.9 137.7,757.9 137.7,725.9 125.7,725.9" fill="#727274"/><polygon points="137.7,757.9 140.9,754.4 140.9,722.4 137.7,725.9" fill="#555557"/><polygon points="125.7,725.9 137.7,725.9 140.9,722.4 128.9,722.4" fill="#d6d6d6"/><polygon points="148.9,757.9 160.9,757.9 160.9,719.3 148.9,719.3" fill="#727274"/><polygon points="160.9,757.9 164.1,754.4 164.1,715.8 160.9,719.3" fill="#555557"/><polygon points="148.9,719.3 160.9,719.3 164.1,715.8 152.1,715.8" fill="#d6d6d6"/><polygon points="170.1,757.9 182.1,757.9 182.1,725.9 170.1,725.9" fill="#727274"/><polygon points="182.1,757.9 185.3,754.4 185.3,722.4 182.1,725.9" fill="#555557"/><polygon points="170.1,725.9 182.1,725.9 185.3,722.4 173.3,722.4" fill="#d6d6d6"/><polygon points="192.3,757.9 204.3,757.9 204.3,727.9 192.3,727.9" fill="#727274"/><polygon points="204.3,757.9 207.5,754.4 207.5,724.4 204.3,727.9" fill="#555557"/><polygon points="192.3,727.9 204.3,727.9 207.5,724.4 195.5,724.4" fill="#d6d6d6"/><polygon points="213.0,757.9 225.0,757.9 225.0,721.2 213.0,721.2" fill="#727274"/><polygon points="225.0,757.9 228.2,754.4 228.2,717.7 225.0,721.2" fill="#555557"/><polygon points="213.0,721.2 225.0,721.2 228.2,717.7 216.2,717.7" fill="#d6d6d6"/><polygon points="242.2,762.5 360.4,762.5 402.9,698.8 296.7,698.8" fill="#c2c2c2"/><polygon points="294.8,711.9 312.2,711.9 312.2,702.9 294.8,702.9" fill="#6f6f71"/><polygon points="312.2,711.9 316.0,706.2 316.0,697.2 312.2,702.9" fill="#57575a"/><polygon points="294.8,702.9 312.2,702.9 316.0,697.2 298.7,697.2" fill="#9b9b9d"/><polygon points="315.1,711.9 330.5,711.9 330.5,703.9 315.1,703.9" fill="#6f6f71"/><polygon points="330.5,711.9 334.3,706.2 334.3,698.2 330.5,703.9" fill="#57575a"/><polygon points="315.1,703.9 330.5,703.9 334.3,698.2 319.0,698.2" fill="#9b9b9d"/><polygon points="355.6,711.9 374.8,711.9 374.8,703.9 355.6,703.9" fill="#6f6f71"/><polygon points="374.8,711.9 378.3,706.8 378.3,698.8 374.8,703.9" fill="#57575a"/><polygon points="355.6,703.9 374.8,703.9 378.3,698.8 359.0,698.8" fill="#9b9b9d"/><polygon points="377.6,711.9 400.9,711.9 400.9,702.9 377.6,702.9" fill="#6f6f71"/><polygon points="400.9,711.9 404.8,706.2 404.8,697.2 400.9,702.9" fill="#57575a"/><polygon points="377.6,702.9 400.9,702.9 404.8,697.2 381.5,697.2" fill="#9b9b9d"/><polygon points="331.3,717.7 343.1,717.7 343.1,709.7 331.3,709.7" fill="#6f6f71"/><polygon points="343.1,717.7 352.6,703.6 352.6,695.6 343.1,709.7" fill="#57575a"/><polygon points="331.3,709.7 343.1,709.7 352.6,695.6 340.8,695.6" fill="#9b9b9d"/><polygon points="285.1,725.4 300.4,725.4 300.4,715.9 285.1,715.9" fill="#6f6f71"/><polygon points="300.4,725.4 304.7,719.0 304.7,709.5 300.4,715.9" fill="#57575a"/><polygon points="285.1,715.9 300.4,715.9 304.7,709.5 289.4,709.5" fill="#9b9b9d"/><polygon points="301.4,725.4 335.0,725.4 335.0,717.9 301.4,717.9" fill="#6f6f71"/><polygon points="335.0,725.4 338.0,720.9 338.0,713.4 335.0,717.9" fill="#57575a"/><polygon points="301.4,717.9 335.0,717.9 338.0,713.4 304.4,713.4" fill="#9b9b9d"/><polygon points="342.1,725.4 359.4,725.4 359.4,714.9 342.1,714.9" fill="#6f6f71"/><polygon points="359.4,725.4 364.6,717.7 364.6,707.2 359.4,714.9" fill="#57575a"/><polygon points="342.1,714.9 359.4,714.9 364.6,707.2 347.2,707.2" fill="#9b9b9d"/><polygon points="359.5,726.7 376.0,726.7 376.0,717.7 359.5,717.7" fill="#6f6f71"/><polygon points="376.0,726.7 381.2,719.0 381.2,710.0 376.0,717.7" fill="#57575a"/><polygon points="359.5,717.7 376.0,717.7 381.2,710.0 364.7,710.0" fill="#9b9b9d"/><polygon points="272.7,737.9 289.2,737.9 289.2,727.4 272.7,727.4" fill="#6f6f71"/><polygon points="289.2,737.9 293.5,731.5 293.5,721.0 289.2,727.4" fill="#57575a"/><polygon points="272.7,727.4 289.2,727.4 293.5,721.0 277.0,721.0" fill="#9b9b9d"/><polygon points="291.8,737.9 321.3,737.9 321.3,729.4 291.8,729.4" fill="#6f6f71"/><polygon points="321.3,737.9 324.3,733.4 324.3,724.9 321.3,729.4" fill="#57575a"/><polygon points="291.8,729.4 321.3,729.4 324.3,724.9 294.8,724.9" fill="#9b9b9d"/><polygon points="324.8,737.9 340.2,737.9 340.2,727.9 324.8,727.9" fill="#6f6f71"/><polygon points="340.2,737.9 344.5,731.5 344.5,721.5 340.2,727.9" fill="#57575a"/><polygon points="324.8,727.9 340.2,727.9 344.5,721.5 329.1,721.5" fill="#9b9b9d"/><polygon points="255.6,755.7 273.5,755.7 273.5,741.7 255.6,741.7" fill="#6f6f71"/><polygon points="273.5,755.7 277.4,750.0 277.4,736.0 273.5,741.7" fill="#57575a"/><polygon points="255.6,741.7 273.5,741.7 277.4,736.0 259.5,736.0" fill="#9b9b9d"/><polygon points="279.3,755.7 296.7,755.7 296.7,742.2 279.3,742.2" fill="#6f6f71"/><polygon points="296.7,755.7 300.5,750.0 300.5,736.5 296.7,742.2" fill="#57575a"/><polygon points="279.3,742.2 296.7,742.2 300.5,736.5 283.2,736.5" fill="#9b9b9d"/><polygon points="301.0,755.7 317.0,755.7 317.0,741.7 301.0,741.7" fill="#6f6f71"/><polygon points="317.0,755.7 321.3,749.3 321.3,735.3 317.0,741.7" fill="#57575a"/><polygon points="301.0,741.7 317.0,741.7 321.3,735.3 305.3,735.3" fill="#9b9b9d"/><polygon points="323.2,755.7 337.3,755.7 337.3,741.7 323.2,741.7" fill="#6f6f71"/><polygon points="337.3,755.7 341.6,749.3 341.6,735.3 337.3,741.7" fill="#57575a"/><polygon points="323.2,741.7 337.3,741.7 341.6,735.3 327.5,735.3" fill="#9b9b9d"/><polygon points="345.9,755.7 357.3,755.7 357.3,741.7 345.9,741.7" fill="#6f6f71"/><polygon points="357.3,755.7 372.8,732.7 372.8,718.7 357.3,741.7" fill="#57575a"/><polygon points="345.9,741.7 357.3,741.7 372.8,718.7 361.4,718.7" fill="#9b9b9d"/><polygon points="376.5,762.5 496.2,762.5 554.2,696.2 434.5,696.2" fill="#b6b6b6"/><polygon points="432.7,703.8 440.8,703.8 440.8,698.4 432.7,698.4" fill="#5c5c5e"/><polygon points="440.8,703.8 444.9,699.1 444.9,693.7 440.8,698.4" fill="#4a4a4c"/><polygon points="432.7,698.4 440.8,698.4 444.9,693.7 436.7,693.7" fill="#929294"/><polygon points="444.2,703.8 452.3,703.8 452.3,698.4 444.2,698.4" fill="#5c5c5e"/><polygon points="452.3,703.8 456.4,699.1 456.4,693.7 452.3,698.4" fill="#4a4a4c"/><polygon points="444.2,698.4 452.3,698.4 456.4,693.7 448.2,693.7" fill="#929294"/><polygon points="455.7,703.8 463.8,703.8 463.8,698.4 455.7,698.4" fill="#5c5c5e"/><polygon points="463.8,703.8 467.9,699.1 467.9,693.7 463.8,698.4" fill="#4a4a4c"/><polygon points="455.7,698.4 463.8,698.4 467.9,693.7 459.7,693.7" fill="#929294"/><polygon points="467.1,703.8 475.3,703.8 475.3,698.4 467.1,698.4" fill="#5c5c5e"/><polygon points="475.3,703.8 479.3,699.1 479.3,693.7 475.3,698.4" fill="#4a4a4c"/><polygon points="467.1,698.4 475.3,698.4 479.3,693.7 471.2,693.7" fill="#929294"/><polygon points="478.6,703.8 486.8,703.8 486.8,698.4 478.6,698.4" fill="#5c5c5e"/><polygon points="486.8,703.8 490.8,699.1 490.8,693.7 486.8,698.4" fill="#4a4a4c"/><polygon points="478.6,698.4 486.8,698.4 490.8,693.7 482.7,693.7" fill="#929294"/><polygon points="490.1,703.8 498.3,703.8 498.3,698.4 490.1,698.4" fill="#5c5c5e"/><polygon points="498.3,703.8 502.3,699.1 502.3,693.7 498.3,698.4" fill="#4a4a4c"/><polygon points="490.1,698.4 498.3,698.4 502.3,693.7 494.2,693.7" fill="#929294"/><polygon points="501.6,703.8 509.8,703.8 509.8,698.4 501.6,698.4" fill="#5c5c5e"/><polygon points="509.8,703.8 513.8,699.1 513.8,693.7 509.8,698.4" fill="#4a4a4c"/><polygon points="501.6,698.4 509.8,698.4 513.8,693.7 505.7,693.7" fill="#929294"/><polygon points="513.1,703.8 521.3,703.8 521.3,698.4 513.1,698.4" fill="#5c5c5e"/><polygon points="521.3,703.8 525.3,699.1 525.3,693.7 521.3,698.4" fill="#4a4a4c"/><polygon points="513.1,698.4 521.3,698.4 525.3,693.7 517.2,693.7" fill="#929294"/><polygon points="524.6,703.8 532.7,703.8 532.7,698.4 524.6,698.4" fill="#5c5c5e"/><polygon points="532.7,703.8 536.8,699.1 536.8,693.7 532.7,698.4" fill="#4a4a4c"/><polygon points="524.6,698.4 532.7,698.4 536.8,693.7 528.7,693.7" fill="#929294"/><polygon points="536.1,703.8 544.2,703.8 544.2,698.4 536.1,698.4" fill="#5c5c5e"/><polygon points="544.2,703.8 548.3,699.1 548.3,693.7 544.2,698.4" fill="#4a4a4c"/><polygon points="536.1,698.4 544.2,698.4 548.3,693.7 540.2,693.7" fill="#929294"/><polygon points="425.8,711.6 434.0,711.6 434.0,706.2 425.8,706.2" fill="#5c5c5e"/><polygon points="434.0,711.6 438.0,706.9 438.0,701.5 434.0,706.2" fill="#4a4a4c"/><polygon points="425.8,706.2 434.0,706.2 438.0,701.5 429.9,701.5" fill="#929294"/><polygon points="437.3,711.6 445.5,711.6 445.5,706.2 437.3,706.2" fill="#5c5c5e"/><polygon points="445.5,711.6 449.5,706.9 449.5,701.5 445.5,706.2" fill="#4a4a4c"/><polygon points="437.3,706.2 445.5,706.2 449.5,701.5 441.4,701.5" fill="#929294"/><polygon points="448.8,711.6 457.0,711.6 457.0,706.2 448.8,706.2" fill="#5c5c5e"/><polygon points="457.0,711.6 461.0,706.9 461.0,701.5 457.0,706.2" fill="#4a4a4c"/><polygon points="448.8,706.2 457.0,706.2 461.0,701.5 452.9,701.5" fill="#929294"/><polygon points="460.3,711.6 468.4,711.6 468.4,706.2 460.3,706.2" fill="#5c5c5e"/><polygon points="468.4,711.6 472.5,706.9 472.5,701.5 468.4,706.2" fill="#4a4a4c"/><polygon points="460.3,706.2 468.4,706.2 472.5,701.5 464.4,701.5" fill="#929294"/><polygon points="471.8,711.6 479.9,711.6 479.9,706.2 471.8,706.2" fill="#5c5c5e"/><polygon points="479.9,711.6 484.0,706.9 484.0,701.5 479.9,706.2" fill="#4a4a4c"/><polygon points="471.8,706.2 479.9,706.2 484.0,701.5 475.9,701.5" fill="#929294"/><polygon points="483.3,711.6 491.4,711.6 491.4,706.2 483.3,706.2" fill="#5c5c5e"/><polygon points="491.4,711.6 495.5,706.9 495.5,701.5 491.4,706.2" fill="#4a4a4c"/><polygon points="483.3,706.2 491.4,706.2 495.5,701.5 487.3,701.5" fill="#929294"/><polygon points="494.8,711.6 502.9,711.6 502.9,706.2 494.8,706.2" fill="#5c5c5e"/><polygon points="502.9,711.6 507.0,706.9 507.0,701.5 502.9,706.2" fill="#4a4a4c"/><polygon points="494.8,706.2 502.9,706.2 507.0,701.5 498.8,701.5" fill="#929294"/><polygon points="506.3,711.6 514.4,711.6 514.4,706.2 506.3,706.2" fill="#5c5c5e"/><polygon points="514.4,711.6 518.5,706.9 518.5,701.5 514.4,706.2" fill="#4a4a4c"/><polygon points="506.3,706.2 514.4,706.2 518.5,701.5 510.3,701.5" fill="#929294"/><polygon points="517.8,711.6 525.9,711.6 525.9,706.2 517.8,706.2" fill="#5c5c5e"/><polygon points="525.9,711.6 530.0,706.9 530.0,701.5 525.9,706.2" fill="#4a4a4c"/><polygon points="517.8,706.2 525.9,706.2 530.0,701.5 521.8,701.5" fill="#929294"/><polygon points="529.3,711.6 537.4,711.6 537.4,706.2 529.3,706.2" fill="#5c5c5e"/><polygon points="537.4,711.6 541.5,706.9 541.5,701.5 537.4,706.2" fill="#4a4a4c"/><polygon points="529.3,706.2 537.4,706.2 541.5,701.5 533.3,701.5" fill="#929294"/><polygon points="419.0,719.4 427.1,719.4 427.1,714.0 419.0,714.0" fill="#5c5c5e"/><polygon points="427.1,719.4 431.2,714.8 431.2,709.4 427.1,714.0" fill="#4a4a4c"/><polygon points="419.0,714.0 427.1,714.0 431.2,709.4 423.0,709.4" fill="#929294"/><polygon points="430.5,719.4 438.6,719.4 438.6,714.0 430.5,714.0" fill="#5c5c5e"/><polygon points="438.6,719.4 442.7,714.8 442.7,709.4 438.6,714.0" fill="#4a4a4c"/><polygon points="430.5,714.0 438.6,714.0 442.7,709.4 434.5,709.4" fill="#929294"/><polygon points="442.0,719.4 450.1,719.4 450.1,714.0 442.0,714.0" fill="#5c5c5e"/><polygon points="450.1,719.4 454.2,714.8 454.2,709.4 450.1,714.0" fill="#4a4a4c"/><polygon points="442.0,714.0 450.1,714.0 454.2,709.4 446.0,709.4" fill="#929294"/><polygon points="453.5,719.4 461.6,719.4 461.6,714.0 453.5,714.0" fill="#5c5c5e"/><polygon points="461.6,719.4 465.7,714.8 465.7,709.4 461.6,714.0" fill="#4a4a4c"/><polygon points="453.5,714.0 461.6,714.0 465.7,709.4 457.5,709.4" fill="#929294"/><polygon points="465.0,719.4 473.1,719.4 473.1,714.0 465.0,714.0" fill="#5c5c5e"/><polygon points="473.1,719.4 477.2,714.8 477.2,709.4 473.1,714.0" fill="#4a4a4c"/><polygon points="465.0,714.0 473.1,714.0 477.2,709.4 469.0,709.4" fill="#929294"/><polygon points="476.4,719.4 484.6,719.4 484.6,714.0 476.4,714.0" fill="#5c5c5e"/><polygon points="484.6,719.4 488.6,714.8 488.6,709.4 484.6,714.0" fill="#4a4a4c"/><polygon points="476.4,714.0 484.6,714.0 488.6,709.4 480.5,709.4" fill="#929294"/><polygon points="487.9,719.4 496.1,719.4 496.1,714.0 487.9,714.0" fill="#5c5c5e"/><polygon points="496.1,719.4 500.1,714.8 500.1,709.4 496.1,714.0" fill="#4a4a4c"/><polygon points="487.9,714.0 496.1,714.0 500.1,709.4 492.0,709.4" fill="#929294"/><polygon points="499.4,719.4 507.6,719.4 507.6,714.0 499.4,714.0" fill="#5c5c5e"/><polygon points="507.6,719.4 511.6,714.8 511.6,709.4 507.6,714.0" fill="#4a4a4c"/><polygon points="499.4,714.0 507.6,714.0 511.6,709.4 503.5,709.4" fill="#929294"/><polygon points="510.9,719.4 519.1,719.4 519.1,714.0 510.9,714.0" fill="#5c5c5e"/><polygon points="519.1,719.4 523.1,714.8 523.1,709.4 519.1,714.0" fill="#4a4a4c"/><polygon points="510.9,714.0 519.1,714.0 523.1,709.4 515.0,709.4" fill="#929294"/><polygon points="522.4,719.4 530.5,719.4 530.5,714.0 522.4,714.0" fill="#5c5c5e"/><polygon points="530.5,719.4 534.6,714.8 534.6,709.4 530.5,714.0" fill="#4a4a4c"/><polygon points="522.4,714.0 530.5,714.0 534.6,709.4 526.5,709.4" fill="#929294"/><polygon points="412.1,727.2 420.3,727.2 420.3,721.8 412.1,721.8" fill="#5c5c5e"/><polygon points="420.3,727.2 424.3,722.6 424.3,717.2 420.3,721.8" fill="#4a4a4c"/><polygon points="412.1,721.8 420.3,721.8 424.3,717.2 416.2,717.2" fill="#929294"/><polygon points="423.6,727.2 431.8,727.2 431.8,721.8 423.6,721.8" fill="#5c5c5e"/><polygon points="431.8,727.2 435.8,722.6 435.8,717.2 431.8,721.8" fill="#4a4a4c"/><polygon points="423.6,721.8 431.8,721.8 435.8,717.2 427.7,717.2" fill="#929294"/><polygon points="435.1,727.2 443.3,727.2 443.3,721.8 435.1,721.8" fill="#5c5c5e"/><polygon points="443.3,727.2 447.3,722.6 447.3,717.2 443.3,721.8" fill="#4a4a4c"/><polygon points="435.1,721.8 443.3,721.8 447.3,717.2 439.2,717.2" fill="#929294"/><polygon points="446.6,727.2 454.8,727.2 454.8,721.8 446.6,721.8" fill="#5c5c5e"/><polygon points="454.8,727.2 458.8,722.6 458.8,717.2 454.8,721.8" fill="#4a4a4c"/><polygon points="446.6,721.8 454.8,721.8 458.8,717.2 450.7,717.2" fill="#929294"/><polygon points="458.1,727.2 466.2,727.2 466.2,721.8 458.1,721.8" fill="#5c5c5e"/><polygon points="466.2,727.2 470.3,722.6 470.3,717.2 466.2,721.8" fill="#4a4a4c"/><polygon points="458.1,721.8 466.2,721.8 470.3,717.2 462.2,717.2" fill="#929294"/><polygon points="469.6,727.2 477.7,727.2 477.7,721.8 469.6,721.8" fill="#5c5c5e"/><polygon points="477.7,727.2 481.8,722.6 481.8,717.2 477.7,721.8" fill="#4a4a4c"/><polygon points="469.6,721.8 477.7,721.8 481.8,717.2 473.7,717.2" fill="#929294"/><polygon points="481.1,727.2 489.2,727.2 489.2,721.8 481.1,721.8" fill="#5c5c5e"/><polygon points="489.2,727.2 493.3,722.6 493.3,717.2 489.2,721.8" fill="#4a4a4c"/><polygon points="481.1,721.8 489.2,721.8 493.3,717.2 485.2,717.2" fill="#929294"/><polygon points="492.6,727.2 500.7,727.2 500.7,721.8 492.6,721.8" fill="#5c5c5e"/><polygon points="500.7,727.2 504.8,722.6 504.8,717.2 500.7,721.8" fill="#4a4a4c"/><polygon points="492.6,721.8 500.7,721.8 504.8,717.2 496.6,717.2" fill="#929294"/><polygon points="504.1,727.2 512.2,727.2 512.2,721.8 504.1,721.8" fill="#5c5c5e"/><polygon points="512.2,727.2 516.3,722.6 516.3,717.2 512.2,721.8" fill="#4a4a4c"/><polygon points="504.1,721.8 512.2,721.8 516.3,717.2 508.1,717.2" fill="#929294"/><polygon points="515.6,727.2 523.7,727.2 523.7,721.8 515.6,721.8" fill="#5c5c5e"/><polygon points="523.7,727.2 527.8,722.6 527.8,717.2 523.7,721.8" fill="#4a4a4c"/><polygon points="515.6,721.8 523.7,721.8 527.8,717.2 519.6,717.2" fill="#929294"/><polygon points="405.3,735.1 413.4,735.1 413.4,729.7 405.3,729.7" fill="#5c5c5e"/><polygon points="413.4,735.1 417.5,730.4 417.5,725.0 413.4,729.7" fill="#4a4a4c"/><polygon points="405.3,729.7 413.4,729.7 417.5,725.0 409.4,725.0" fill="#929294"/><polygon points="416.8,735.1 424.9,735.1 424.9,729.7 416.8,729.7" fill="#5c5c5e"/><polygon points="424.9,735.1 429.0,730.4 429.0,725.0 424.9,729.7" fill="#4a4a4c"/><polygon points="416.8,729.7 424.9,729.7 429.0,725.0 420.9,725.0" fill="#929294"/><polygon points="428.3,735.1 436.4,735.1 436.4,729.7 428.3,729.7" fill="#5c5c5e"/><polygon points="436.4,735.1 440.5,730.4 440.5,725.0 436.4,729.7" fill="#4a4a4c"/><polygon points="428.3,729.7 436.4,729.7 440.5,725.0 432.3,725.0" fill="#929294"/><polygon points="439.8,735.1 447.9,735.1 447.9,729.7 439.8,729.7" fill="#5c5c5e"/><polygon points="447.9,735.1 452.0,730.4 452.0,725.0 447.9,729.7" fill="#4a4a4c"/><polygon points="439.8,729.7 447.9,729.7 452.0,725.0 443.8,725.0" fill="#929294"/><polygon points="451.3,735.1 459.4,735.1 459.4,729.7 451.3,729.7" fill="#5c5c5e"/><polygon points="459.4,735.1 463.5,730.4 463.5,725.0 459.4,729.7" fill="#4a4a4c"/><polygon points="451.3,729.7 459.4,729.7 463.5,725.0 455.3,725.0" fill="#929294"/><polygon points="462.8,735.1 470.9,735.1 470.9,729.7 462.8,729.7" fill="#5c5c5e"/><polygon points="470.9,735.1 475.0,730.4 475.0,725.0 470.9,729.7" fill="#4a4a4c"/><polygon points="462.8,729.7 470.9,729.7 475.0,725.0 466.8,725.0" fill="#929294"/><polygon points="474.2,735.1 482.4,735.1 482.4,729.7 474.2,729.7" fill="#5c5c5e"/><polygon points="482.4,735.1 486.4,730.4 486.4,725.0 482.4,729.7" fill="#4a4a4c"/><polygon points="474.2,729.7 482.4,729.7 486.4,725.0 478.3,725.0" fill="#929294"/><polygon points="485.7,735.1 493.9,735.1 493.9,729.7 485.7,729.7" fill="#5c5c5e"/><polygon points="493.9,735.1 497.9,730.4 497.9,725.0 493.9,729.7" fill="#4a4a4c"/><polygon points="485.7,729.7 493.9,729.7 497.9,725.0 489.8,725.0" fill="#929294"/><polygon points="497.2,735.1 505.4,735.1 505.4,729.7 497.2,729.7" fill="#5c5c5e"/><polygon points="505.4,735.1 509.4,730.4 509.4,725.0 505.4,729.7" fill="#4a4a4c"/><polygon points="497.2,729.7 505.4,729.7 509.4,725.0 501.3,725.0" fill="#929294"/><polygon points="508.7,735.1 516.9,735.1 516.9,729.7 508.7,729.7" fill="#5c5c5e"/><polygon points="516.9,735.1 520.9,730.4 520.9,725.0 516.9,729.7" fill="#4a4a4c"/><polygon points="508.7,729.7 516.9,729.7 520.9,725.0 512.8,725.0" fill="#929294"/><polygon points="398.5,742.9 406.6,742.9 406.6,737.5 398.5,737.5" fill="#5c5c5e"/><polygon points="406.6,742.9 410.7,738.2 410.7,732.8 406.6,737.5" fill="#4a4a4c"/><polygon points="398.5,737.5 406.6,737.5 410.7,732.8 402.5,732.8" fill="#929294"/><polygon points="409.9,742.9 418.1,742.9 418.1,737.5 409.9,737.5" fill="#5c5c5e"/><polygon points="418.1,742.9 422.1,738.2 422.1,732.8 418.1,737.5" fill="#4a4a4c"/><polygon points="409.9,737.5 418.1,737.5 422.1,732.8 414.0,732.8" fill="#929294"/><polygon points="421.4,742.9 429.6,742.9 429.6,737.5 421.4,737.5" fill="#5c5c5e"/><polygon points="429.6,742.9 433.6,738.2 433.6,732.8 429.6,737.5" fill="#4a4a4c"/><polygon points="421.4,737.5 429.6,737.5 433.6,732.8 425.5,732.8" fill="#929294"/><polygon points="432.9,742.9 441.1,742.9 441.1,737.5 432.9,737.5" fill="#5c5c5e"/><polygon points="441.1,742.9 445.1,738.2 445.1,732.8 441.1,737.5" fill="#4a4a4c"/><polygon points="432.9,737.5 441.1,737.5 445.1,732.8 437.0,732.8" fill="#929294"/><polygon points="444.4,742.9 452.6,742.9 452.6,737.5 444.4,737.5" fill="#5c5c5e"/><polygon points="452.6,742.9 456.6,738.2 456.6,732.8 452.6,737.5" fill="#4a4a4c"/><polygon points="444.4,737.5 452.6,737.5 456.6,732.8 448.5,732.8" fill="#929294"/><polygon points="455.9,742.9 464.1,742.9 464.1,737.5 455.9,737.5" fill="#5c5c5e"/><polygon points="464.1,742.9 468.1,738.2 468.1,732.8 464.1,737.5" fill="#4a4a4c"/><polygon points="455.9,737.5 464.1,737.5 468.1,732.8 460.0,732.8" fill="#929294"/><polygon points="467.4,742.9 475.5,742.9 475.5,737.5 467.4,737.5" fill="#5c5c5e"/><polygon points="475.5,742.9 479.6,738.2 479.6,732.8 475.5,737.5" fill="#4a4a4c"/><polygon points="467.4,737.5 475.5,737.5 479.6,732.8 471.5,732.8" fill="#929294"/><polygon points="478.9,742.9 487.0,742.9 487.0,737.5 478.9,737.5" fill="#5c5c5e"/><polygon points="487.0,742.9 491.1,738.2 491.1,732.8 487.0,737.5" fill="#4a4a4c"/><polygon points="478.9,737.5 487.0,737.5 491.1,732.8 483.0,732.8" fill="#929294"/><polygon points="490.4,742.9 498.5,742.9 498.5,737.5 490.4,737.5" fill="#5c5c5e"/><polygon points="498.5,742.9 502.6,738.2 502.6,732.8 498.5,737.5" fill="#4a4a4c"/><polygon points="490.4,737.5 498.5,737.5 502.6,732.8 494.4,732.8" fill="#929294"/><polygon points="501.9,742.9 510.0,742.9 510.0,737.5 501.9,737.5" fill="#5c5c5e"/><polygon points="510.0,742.9 514.1,738.2 514.1,732.8 510.0,737.5" fill="#4a4a4c"/><polygon points="501.9,737.5 510.0,737.5 514.1,732.8 505.9,732.8" fill="#929294"/><polygon points="391.6,750.7 399.8,750.7 399.8,745.3 391.6,745.3" fill="#5c5c5e"/><polygon points="399.8,750.7 403.8,746.1 403.8,740.7 399.8,745.3" fill="#4a4a4c"/><polygon points="391.6,745.3 399.8,745.3 403.8,740.7 395.7,740.7" fill="#929294"/><polygon points="403.1,750.7 411.2,750.7 411.2,745.3 403.1,745.3" fill="#5c5c5e"/><polygon points="411.2,750.7 415.3,746.1 415.3,740.7 411.2,745.3" fill="#4a4a4c"/><polygon points="403.1,745.3 411.2,745.3 415.3,740.7 407.2,740.7" fill="#929294"/><polygon points="414.6,750.7 422.7,750.7 422.7,745.3 414.6,745.3" fill="#5c5c5e"/><polygon points="422.7,750.7 426.8,746.1 426.8,740.7 422.7,745.3" fill="#4a4a4c"/><polygon points="414.6,745.3 422.7,745.3 426.8,740.7 418.7,740.7" fill="#929294"/><polygon points="426.1,750.7 434.2,750.7 434.2,745.3 426.1,745.3" fill="#5c5c5e"/><polygon points="434.2,750.7 438.3,746.1 438.3,740.7 434.2,745.3" fill="#4a4a4c"/><polygon points="426.1,745.3 434.2,745.3 438.3,740.7 430.1,740.7" fill="#929294"/><polygon points="437.6,750.7 445.7,750.7 445.7,745.3 437.6,745.3" fill="#5c5c5e"/><polygon points="445.7,750.7 449.8,746.1 449.8,740.7 445.7,745.3" fill="#4a4a4c"/><polygon points="437.6,745.3 445.7,745.3 449.8,740.7 441.6,740.7" fill="#929294"/><polygon points="449.1,750.7 457.2,750.7 457.2,745.3 449.1,745.3" fill="#5c5c5e"/><polygon points="457.2,750.7 461.3,746.1 461.3,740.7 457.2,745.3" fill="#4a4a4c"/><polygon points="449.1,745.3 457.2,745.3 461.3,740.7 453.1,740.7" fill="#929294"/><polygon points="460.6,750.7 468.7,750.7 468.7,745.3 460.6,745.3" fill="#5c5c5e"/><polygon points="468.7,750.7 472.8,746.1 472.8,740.7 468.7,745.3" fill="#4a4a4c"/><polygon points="460.6,745.3 468.7,745.3 472.8,740.7 464.6,740.7" fill="#929294"/><polygon points="472.1,750.7 480.2,750.7 480.2,745.3 472.1,745.3" fill="#5c5c5e"/><polygon points="480.2,750.7 484.2,746.1 484.2,740.7 480.2,745.3" fill="#4a4a4c"/><polygon points="472.1,745.3 480.2,745.3 484.2,740.7 476.1,740.7" fill="#929294"/><polygon points="483.5,750.7 491.7,750.7 491.7,745.3 483.5,745.3" fill="#5c5c5e"/><polygon points="491.7,750.7 495.7,746.1 495.7,740.7 491.7,745.3" fill="#4a4a4c"/><polygon points="483.5,745.3 491.7,745.3 495.7,740.7 487.6,740.7" fill="#929294"/><polygon points="495.0,750.7 503.2,750.7 503.2,745.3 495.0,745.3" fill="#5c5c5e"/><polygon points="503.2,750.7 507.2,746.1 507.2,740.7 503.2,745.3" fill="#4a4a4c"/><polygon points="495.0,745.3 503.2,745.3 507.2,740.7 499.1,740.7" fill="#929294"/><polygon points="384.8,758.5 392.9,758.5 392.9,753.1 384.8,753.1" fill="#5c5c5e"/><polygon points="392.9,758.5 397.0,753.9 397.0,748.5 392.9,753.1" fill="#4a4a4c"/><polygon points="384.8,753.1 392.9,753.1 397.0,748.5 388.8,748.5" fill="#929294"/><polygon points="396.3,758.5 404.4,758.5 404.4,753.1 396.3,753.1" fill="#5c5c5e"/><polygon points="404.4,758.5 408.5,753.9 408.5,748.5 404.4,753.1" fill="#4a4a4c"/><polygon points="396.3,753.1 404.4,753.1 408.5,748.5 400.3,748.5" fill="#929294"/><polygon points="407.8,758.5 415.9,758.5 415.9,753.1 407.8,753.1" fill="#5c5c5e"/><polygon points="415.9,758.5 420.0,753.9 420.0,748.5 415.9,753.1" fill="#4a4a4c"/><polygon points="407.8,753.1 415.9,753.1 420.0,748.5 411.8,748.5" fill="#929294"/><polygon points="419.2,758.5 427.4,758.5 427.4,753.1 419.2,753.1" fill="#5c5c5e"/><polygon points="427.4,758.5 431.4,753.9 431.4,748.5 427.4,753.1" fill="#4a4a4c"/><polygon points="419.2,753.1 427.4,753.1 431.4,748.5 423.3,748.5" fill="#929294"/><polygon points="430.7,758.5 438.9,758.5 438.9,753.1 430.7,753.1" fill="#5c5c5e"/><polygon points="438.9,758.5 442.9,753.9 442.9,748.5 438.9,753.1" fill="#4a4a4c"/><polygon points="430.7,753.1 438.9,753.1 442.9,748.5 434.8,748.5" fill="#929294"/><polygon points="442.2,758.5 450.4,758.5 450.4,753.1 442.2,753.1" fill="#5c5c5e"/><polygon points="450.4,758.5 454.4,753.9 454.4,748.5 450.4,753.1" fill="#4a4a4c"/><polygon points="442.2,753.1 450.4,753.1 454.4,748.5 446.3,748.5" fill="#929294"/><polygon points="453.7,758.5 461.9,758.5 461.9,753.1 453.7,753.1" fill="#5c5c5e"/><polygon points="461.9,758.5 465.9,753.9 465.9,748.5 461.9,753.1" fill="#4a4a4c"/><polygon points="453.7,753.1 461.9,753.1 465.9,748.5 457.8,748.5" fill="#929294"/><polygon points="465.2,758.5 473.3,758.5 473.3,753.1 465.2,753.1" fill="#5c5c5e"/><polygon points="473.3,758.5 477.4,753.9 477.4,748.5 473.3,753.1" fill="#4a4a4c"/><polygon points="465.2,753.1 473.3,753.1 477.4,748.5 469.3,748.5" fill="#929294"/><polygon points="476.7,758.5 484.8,758.5 484.8,753.1 476.7,753.1" fill="#5c5c5e"/><polygon points="484.8,758.5 488.9,753.9 488.9,748.5 484.8,753.1" fill="#4a4a4c"/><polygon points="476.7,753.1 484.8,753.1 488.9,748.5 480.8,748.5" fill="#929294"/><polygon points="488.2,758.5 496.3,758.5 496.3,753.1 488.2,753.1" fill="#5c5c5e"/><polygon points="496.3,758.5 500.4,753.9 500.4,748.5 496.3,753.1" fill="#4a4a4c"/><polygon points="488.2,753.1 496.3,753.1 500.4,748.5 492.2,748.5" fill="#929294"/><polygon points="519.7,760.4 639.4,760.4 697.4,703.0 577.7,703.0" fill="#bfe0ae"/><polygon points="562.8,760.4 603.5,760.4 661.5,703.0 620.8,703.0" fill="#a3c6a4"/><polygon points="583.3,709.7 598.8,709.7 598.8,676.2 583.3,676.2" fill="#69666c"/><polygon points="598.8,709.7 601.1,707.4 601.1,673.9 598.8,676.2" fill="#4c4950"/><polygon points="583.3,676.2 598.8,676.2 601.1,673.9 585.6,673.9" fill="#8d8a90"/><polygon points="622.7,709.7 638.2,709.7 638.2,676.2 622.7,676.2" fill="#69666c"/><polygon points="638.2,709.7 640.5,707.4 640.5,673.9 638.2,676.2" fill="#4c4950"/><polygon points="622.7,676.2 638.2,676.2 640.5,673.9 625.0,673.9" fill="#8d8a90"/><polygon points="665.3,709.7 680.8,709.7 680.8,676.2 665.3,676.2" fill="#69666c"/><polygon points="680.8,709.7 683.1,707.4 683.1,673.9 680.8,676.2" fill="#4c4950"/><polygon points="665.3,676.2 680.8,676.2 683.1,673.9 667.6,673.9" fill="#8d8a90"/><path d="M582.2 713.0v-4.0M586.6 713.0v-4.0" stroke="#3a4a1c" stroke-width="1.6"/><path d="M579.4 709.2C577.7 703.0 581.8 698.1 584.2 698.0C587.0 698.1 591.1 703.0 589.4 709.2Q584.4 711.6 579.4 709.2Z" fill="#56bf3c"/><path d="M581.0 705.8Q581.2 701.8 583.9 699.0Q585.6 702.6 584.0 706.6Z" fill="#80da62"/><path d="M584.2 710.1L584.9 705.0L586.2 709.8Z" fill="#2a8428"/><path d="M637.2 713.0v-4.0M641.6 713.0v-4.0" stroke="#3a4a1c" stroke-width="1.6"/><path d="M634.4 709.2C632.7 703.0 636.8 698.1 639.2 698.0C642.0 698.1 646.1 703.0 644.4 709.2Q639.4 711.6 634.4 709.2Z" fill="#56bf3c"/><path d="M636.0 705.8Q636.2 701.8 638.9 699.0Q640.6 702.6 639.0 706.6Z" fill="#80da62"/><path d="M639.2 710.1L639.9 705.0L641.2 709.8Z" fill="#2a8428"/><path d="M674.9 714.6v-4.0M679.3 714.6v-4.0" stroke="#3a4a1c" stroke-width="1.6"/><path d="M672.1 710.8C670.4 704.6 674.5 699.7 676.9 699.6C679.7 699.7 683.8 704.6 682.1 710.8Q677.1 713.2 672.1 710.8Z" fill="#56bf3c"/><path d="M673.7 707.4Q673.9 703.4 676.6 700.6Q678.3 704.2 676.7 708.2Z" fill="#80da62"/><path d="M676.9 711.7L677.6 706.6L678.9 711.4Z" fill="#2a8428"/><polygon points="563.9,729.5 575.9,729.5 575.9,697.5 563.9,697.5" fill="#69666c"/><polygon points="575.9,729.5 579.1,726.3 579.1,694.3 575.9,697.5" fill="#4c4950"/><polygon points="563.9,697.5 575.9,697.5 579.1,694.3 567.1,694.3" fill="#8d8a90"/><polygon points="604.9,729.5 616.9,729.5 616.9,697.5 604.9,697.5" fill="#69666c"/><polygon points="616.9,729.5 620.1,726.3 620.1,694.3 616.9,697.5" fill="#4c4950"/><polygon points="604.9,697.5 616.9,697.5 620.1,694.3 608.1,694.3" fill="#8d8a90"/><polygon points="646.9,729.5 658.9,729.5 658.9,697.5 646.9,697.5" fill="#69666c"/><polygon points="658.9,729.5 662.1,726.3 662.1,694.3 658.9,697.5" fill="#4c4950"/><polygon points="646.9,697.5 658.9,697.5 662.1,694.3 650.1,694.3" fill="#8d8a90"/><path d="M599.5 732.4v-4.0M603.9 732.4v-4.0" stroke="#3a4a1c" stroke-width="1.6"/><path d="M596.7 728.6C595.0 722.4 599.1 717.5 601.5 717.4C604.3 717.5 608.4 722.4 606.7 728.6Q601.7 731.0 596.7 728.6Z" fill="#56bf3c"/><path d="M598.3 725.2Q598.5 721.2 601.2 718.4Q602.9 722.0 601.3 726.0Z" fill="#80da62"/><path d="M601.5 729.5L602.2 724.4L603.5 729.2Z" fill="#2a8428"/><path d="M563.9 734.5v-4.0M568.3 734.5v-4.0" stroke="#3a4a1c" stroke-width="1.6"/><path d="M561.1 730.7C559.4 724.5 563.5 719.6 565.9 719.5C568.7 719.6 572.8 724.5 571.1 730.7Q566.1 733.1 561.1 730.7Z" fill="#56bf3c"/><path d="M562.7 727.3Q562.9 723.3 565.6 720.5Q567.3 724.1 565.7 728.1Z" fill="#80da62"/><path d="M565.9 731.6L566.6 726.5L567.9 731.3Z" fill="#2a8428"/><path d="M617.8 734.5v-4.0M622.2 734.5v-4.0" stroke="#3a4a1c" stroke-width="1.6"/><path d="M615.0 730.7C613.3 724.5 617.4 719.6 619.8 719.5C622.6 719.6 626.7 724.5 625.0 730.7Q620.0 733.1 615.0 730.7Z" fill="#56bf3c"/><path d="M616.6 727.3Q616.8 723.3 619.5 720.5Q621.2 724.1 619.6 728.1Z" fill="#80da62"/><path d="M619.8 731.6L620.5 726.5L621.8 731.3Z" fill="#2a8428"/><path d="M650.1 734.5v-4.0M654.5 734.5v-4.0" stroke="#3a4a1c" stroke-width="1.6"/><path d="M647.3 730.7C645.6 724.5 649.7 719.6 652.1 719.5C654.9 719.6 659.0 724.5 657.3 730.7Q652.3 733.1 647.3 730.7Z" fill="#56bf3c"/><path d="M648.9 727.3Q649.1 723.3 651.8 720.5Q653.5 724.1 651.9 728.1Z" fill="#80da62"/><path d="M652.1 731.6L652.8 726.5L654.1 731.3Z" fill="#2a8428"/><path d="M571.4 751.8v-4.0M575.8 751.8v-4.0" stroke="#3a4a1c" stroke-width="1.6"/><path d="M568.6 748.0C566.9 741.8 571.0 736.9 573.4 736.8C576.2 736.9 580.3 741.8 578.6 748.0Q573.6 750.4 568.6 748.0Z" fill="#56bf3c"/><path d="M570.2 744.6Q570.4 740.6 573.1 737.8Q574.8 741.4 573.2 745.4Z" fill="#80da62"/><path d="M573.4 748.9L574.1 743.8L575.4 748.6Z" fill="#2a8428"/><path d="M596.2 752.9v-4.0M600.6 752.9v-4.0" stroke="#3a4a1c" stroke-width="1.6"/><path d="M593.4 749.1C591.7 742.9 595.8 738.0 598.2 737.9C601.0 738.0 605.1 742.9 603.4 749.1Q598.4 751.5 593.4 749.1Z" fill="#56bf3c"/><path d="M595.0 745.7Q595.2 741.7 597.9 738.9Q599.6 742.5 598.0 746.5Z" fill="#80da62"/><path d="M598.2 750.0L598.9 744.9L600.2 749.7Z" fill="#2a8428"/><polygon points="542.9,755.0 552.9,755.0 552.9,717.0 542.9,717.0" fill="#69666c"/><polygon points="552.9,755.0 556.1,751.8 556.1,713.8 552.9,717.0" fill="#4c4950"/><polygon points="542.9,717.0 552.9,717.0 556.1,713.8 546.1,713.8" fill="#8d8a90"/><polygon points="584.4,755.0 594.4,755.0 594.4,717.0 584.4,717.0" fill="#69666c"/><polygon points="594.4,755.0 597.6,751.8 597.6,713.8 594.4,717.0" fill="#4c4950"/><polygon points="584.4,717.0 594.4,717.0 597.6,713.8 587.6,713.8" fill="#8d8a90"/><polygon points="627.5,755.0 637.5,755.0 637.5,717.0 627.5,717.0" fill="#69666c"/><polygon points="637.5,755.0 640.7,751.8 640.7,713.8 637.5,717.0" fill="#4c4950"/><polygon points="627.5,717.0 637.5,717.0 640.7,713.8 630.7,713.8" fill="#8d8a90"/><path d="M622.6 755.0v-4.0M627.0 755.0v-4.0" stroke="#3a4a1c" stroke-width="1.6"/><path d="M619.8 751.2C618.1 745.0 622.2 740.1 624.6 740.0C627.4 740.1 631.5 745.0 629.8 751.2Q624.8 753.6 619.8 751.2Z" fill="#56bf3c"/><path d="M621.4 747.8Q621.6 743.8 624.3 741.0Q626.0 744.6 624.4 748.6Z" fill="#80da62"/><path d="M624.6 752.1L625.3 747.0L626.6 751.8Z" fill="#2a8428"/><path d="M539.1 757.2v-4.0M543.5 757.2v-4.0" stroke="#3a4a1c" stroke-width="1.6"/><path d="M536.3 753.4C534.6 747.2 538.7 742.3 541.1 742.2C543.9 742.3 548.0 747.2 546.3 753.4Q541.3 755.8 536.3 753.4Z" fill="#56bf3c"/><path d="M537.9 750.0Q538.1 746.0 540.8 743.2Q542.5 746.8 540.9 750.8Z" fill="#80da62"/><path d="M541.1 754.3L541.8 749.2L543.1 754.0Z" fill="#2a8428"/><polygon points="657.5,760.3 764.5,760.3 815.5,700.3 708.5,700.3" fill="#bfe0ae"/><polygon points="692.8,760.3 728.1,760.3 779.1,700.3 743.8,700.3" fill="#a9caa8"/><path d="M716.9 705.9v-3.9M721.1 705.9v-3.9" stroke="#3a4a1c" stroke-width="1.6"/><path d="M714.2 702.2C712.4 696.1 716.5 691.4 718.8 691.2C721.5 691.4 725.6 696.1 723.8 702.2Q719.0 704.5 714.2 702.2Z" fill="#56bf3c"/><path d="M715.7 698.9Q715.9 695.0 718.5 692.2Q720.2 695.8 718.6 699.7Z" fill="#80da62"/><path d="M718.8 703.1L719.5 698.1L720.8 702.8Z" fill="#2a8428"/><path d="M791.9 707.0v-3.9M796.1 707.0v-3.9" stroke="#3a4a1c" stroke-width="1.6"/><path d="M789.2 703.3C787.4 697.2 791.5 692.5 793.8 692.3C796.5 692.5 800.6 697.2 798.8 703.3Q794.0 705.6 789.2 703.3Z" fill="#56bf3c"/><path d="M790.7 700.0Q790.9 696.1 793.5 693.4Q795.2 696.9 793.6 700.8Z" fill="#80da62"/><path d="M793.8 704.2L794.5 699.2L795.8 703.9Z" fill="#2a8428"/><path d="M735.8 708.0v-3.9M740.0 708.0v-3.9" stroke="#3a4a1c" stroke-width="1.6"/><path d="M733.1 704.3C731.3 698.2 735.4 693.5 737.7 693.3C740.4 693.5 744.5 698.2 742.7 704.3Q737.9 706.6 733.1 704.3Z" fill="#56bf3c"/><path d="M734.6 701.0Q734.8 697.1 737.4 694.4Q739.1 697.9 737.5 701.8Z" fill="#80da62"/><path d="M737.7 705.2L738.4 700.2L739.7 704.9Z" fill="#2a8428"/><path d="M767.6 708.6v-3.9M771.8 708.6v-3.9" stroke="#3a4a1c" stroke-width="1.6"/><path d="M764.9 704.9C763.1 698.9 767.2 694.1 769.5 693.9C772.2 694.1 776.3 698.9 774.5 704.9Q769.7 707.2 764.9 704.9Z" fill="#56bf3c"/><path d="M766.4 701.6Q766.6 697.7 769.2 695.0Q770.9 698.5 769.3 702.4Z" fill="#80da62"/><path d="M769.5 705.8L770.2 700.8L771.5 705.5Z" fill="#2a8428"/><polygon points="739.0,716.1 755.7,716.1 755.7,703.7 739.0,703.7" fill="#6d6a70"/><polygon points="755.7,716.1 759.3,711.9 759.3,699.5 755.7,703.7" fill="#4e4b52"/><polygon points="739.0,703.7 755.7,703.7 759.3,699.5 742.6,699.5" fill="#8f8c92"/><polygon points="702.8,716.7 716.9,716.7 716.9,704.3 702.8,704.3" fill="#6d6a70"/><polygon points="716.9,716.7 722.0,710.7 722.0,698.3 716.9,704.3" fill="#4e4b52"/><polygon points="702.8,704.3 716.9,704.3 722.0,698.3 707.9,698.3" fill="#8f8c92"/><polygon points="775.6,721.0 783.7,721.0 783.7,710.2 775.6,710.2" fill="#6d6a70"/><polygon points="783.7,721.0 792.4,710.8 792.4,700.0 783.7,710.2" fill="#4e4b52"/><polygon points="775.6,710.2 783.7,710.2 792.4,700.0 784.3,700.0" fill="#8f8c92"/><path d="M725.5 728.5v-3.9M729.7 728.5v-3.9" stroke="#3a4a1c" stroke-width="1.6"/><path d="M722.8 724.8C721.0 718.8 725.1 714.0 727.4 713.8C730.1 714.0 734.2 718.8 732.4 724.8Q727.6 727.1 722.8 724.8Z" fill="#56bf3c"/><path d="M724.3 721.5Q724.5 717.6 727.1 714.9Q728.8 718.4 727.2 722.3Z" fill="#80da62"/><path d="M727.4 725.7L728.1 720.7L729.4 725.4Z" fill="#2a8428"/><path d="M698.0 730.1v-3.9M702.2 730.1v-3.9" stroke="#3a4a1c" stroke-width="1.6"/><path d="M695.3 726.4C693.5 720.4 697.6 715.6 699.9 715.4C702.6 715.6 706.7 720.4 704.9 726.4Q700.1 728.7 695.3 726.4Z" fill="#56bf3c"/><path d="M696.8 723.1Q697.0 719.2 699.6 716.5Q701.3 720.0 699.7 723.9Z" fill="#80da62"/><path d="M699.9 727.3L700.6 722.3L701.9 727.0Z" fill="#2a8428"/><path d="M748.2 730.7v-3.9M752.4 730.7v-3.9" stroke="#3a4a1c" stroke-width="1.6"/><path d="M745.5 727.0C743.7 721.0 747.8 716.2 750.1 716.0C752.8 716.2 756.9 721.0 755.1 727.0Q750.3 729.3 745.5 727.0Z" fill="#56bf3c"/><path d="M747.0 723.7Q747.2 719.8 749.8 717.1Q751.5 720.6 749.9 724.5Z" fill="#80da62"/><path d="M750.1 727.9L750.8 722.9L752.1 727.6Z" fill="#2a8428"/><path d="M769.7 731.8v-3.9M773.9 731.8v-3.9" stroke="#3a4a1c" stroke-width="1.6"/><path d="M767.0 728.1C765.2 722.0 769.3 717.3 771.6 717.1C774.3 717.3 778.4 722.0 776.6 728.1Q771.8 730.4 767.0 728.1Z" fill="#56bf3c"/><path d="M768.5 724.8Q768.7 720.9 771.3 718.1Q773.0 721.7 771.4 725.6Z" fill="#80da62"/><path d="M771.6 729.0L772.3 724.0L773.6 728.7Z" fill="#2a8428"/><polygon points="672.1,750.1 685.6,750.1 685.6,736.1 672.1,736.1" fill="#6d6a70"/><polygon points="685.6,750.1 691.2,743.5 691.2,729.5 685.6,736.1" fill="#4e4b52"/><polygon points="672.1,736.1 685.6,736.1 691.2,729.5 677.7,729.5" fill="#8f8c92"/><polygon points="711.5,750.1 723.3,750.1 723.3,735.0 711.5,735.0" fill="#6d6a70"/><polygon points="723.3,750.1 729.4,742.9 729.4,727.8 723.3,735.0" fill="#4e4b52"/><polygon points="711.5,735.0 723.3,735.0 729.4,727.8 717.6,727.8" fill="#8f8c92"/><polygon points="743.3,751.2 757.8,751.2 757.8,740.4 743.3,740.4" fill="#6d6a70"/><polygon points="757.8,751.2 766.0,741.6 766.0,730.8 757.8,740.4" fill="#4e4b52"/><polygon points="743.3,740.4 757.8,740.4 766.0,730.8 751.5,730.8" fill="#8f8c92"/><path d="M704.0 751.7v-3.9M708.2 751.7v-3.9" stroke="#3a4a1c" stroke-width="1.6"/><path d="M701.3 748.0C699.5 742.0 703.6 737.2 705.9 737.0C708.6 737.2 712.7 742.0 710.9 748.0Q706.1 750.3 701.3 748.0Z" fill="#56bf3c"/><path d="M702.8 744.7Q703.0 740.8 705.6 738.1Q707.3 741.6 705.7 745.5Z" fill="#80da62"/><path d="M705.9 748.9L706.6 743.9L707.9 748.6Z" fill="#2a8428"/><path d="M727.7 753.3v-3.9M731.9 753.3v-3.9" stroke="#3a4a1c" stroke-width="1.6"/><path d="M725.0 749.6C723.2 743.5 727.3 738.8 729.6 738.6C732.3 738.8 736.4 743.5 734.6 749.6Q729.8 751.9 725.0 749.6Z" fill="#56bf3c"/><path d="M726.5 746.3Q726.7 742.4 729.3 739.6Q731.0 743.2 729.4 747.1Z" fill="#80da62"/><path d="M729.6 750.5L730.3 745.5L731.6 750.2Z" fill="#2a8428"/><path d="M673.8 754.4v-3.9M678.0 754.4v-3.9" stroke="#3a4a1c" stroke-width="1.6"/><path d="M671.1 750.7C669.3 744.6 673.4 739.9 675.7 739.7C678.4 739.9 682.5 744.6 680.7 750.7Q675.9 753.0 671.1 750.7Z" fill="#56bf3c"/><path d="M672.6 747.4Q672.8 743.5 675.4 740.8Q677.1 744.3 675.5 748.2Z" fill="#80da62"/><path d="M675.7 751.6L676.4 746.6L677.7 751.3Z" fill="#2a8428"/><path d="M755.7 754.4v-3.9M759.9 754.4v-3.9" stroke="#3a4a1c" stroke-width="1.6"/><path d="M753.0 750.7C751.2 744.6 755.3 739.9 757.6 739.7C760.3 739.9 764.4 744.6 762.6 750.7Q757.8 753.0 753.0 750.7Z" fill="#56bf3c"/><path d="M754.5 747.4Q754.7 743.5 757.3 740.8Q759.0 744.3 757.4 748.2Z" fill="#80da62"/><path d="M757.6 751.6L758.3 746.6L759.6 751.3Z" fill="#2a8428"/><polygon points="771.3,760.9 884.3,760.9 936.3,699.9 823.3,699.9" fill="#bfe0ae"/><polygon points="805.2,760.9 852.7,760.9 904.7,699.9 857.2,699.9" fill="#afd0ab"/><polygon points="842.3,708.9 848.7,708.9 848.7,705.3 842.3,705.3" fill="#55535a"/><polygon points="848.7,708.9 851.6,705.5 851.6,701.9 848.7,705.3" fill="#403e44"/><polygon points="842.3,705.3 848.7,705.3 851.6,701.9 845.2,701.9" fill="#85838a"/><polygon points="855.2,708.9 861.6,708.9 861.6,705.3 855.2,705.3" fill="#55535a"/><polygon points="861.6,708.9 864.5,705.5 864.5,701.9 861.6,705.3" fill="#403e44"/><polygon points="855.2,705.3 861.6,705.3 864.5,701.9 858.1,701.9" fill="#85838a"/><polygon points="871.4,708.9 877.8,708.9 877.8,705.3 871.4,705.3" fill="#55535a"/><polygon points="877.8,708.9 880.7,705.5 880.7,701.9 877.8,705.3" fill="#403e44"/><polygon points="871.4,705.3 877.8,705.3 880.7,701.9 874.3,701.9" fill="#85838a"/><polygon points="884.3,708.9 890.7,708.9 890.7,705.3 884.3,705.3" fill="#55535a"/><polygon points="890.7,708.9 893.6,705.5 893.6,701.9 890.7,705.3" fill="#403e44"/><polygon points="884.3,705.3 890.7,705.3 893.6,701.9 887.2,701.9" fill="#85838a"/><polygon points="900.5,708.9 906.9,708.9 906.9,705.3 900.5,705.3" fill="#55535a"/><polygon points="906.9,708.9 909.8,705.5 909.8,701.9 906.9,705.3" fill="#403e44"/><polygon points="900.5,705.3 906.9,705.3 909.8,701.9 903.4,701.9" fill="#85838a"/><polygon points="914.5,708.9 920.9,708.9 920.9,705.3 914.5,705.3" fill="#55535a"/><polygon points="920.9,708.9 923.8,705.5 923.8,701.9 920.9,705.3" fill="#403e44"/><polygon points="914.5,705.3 920.9,705.3 923.8,701.9 917.4,701.9" fill="#85838a"/><path d="M827.6 711.8v-3.7M831.6 711.8v-3.7" stroke="#3a4a1c" stroke-width="1.5"/><path d="M825.1 708.3C823.4 702.6 827.3 698.1 829.4 697.9C832.0 698.1 835.9 702.6 834.2 708.3Q829.6 710.5 825.1 708.3Z" fill="#56bf3c"/><path d="M826.5 705.2Q826.7 701.5 829.2 698.9Q830.8 702.2 829.3 705.9Z" fill="#80da62"/><path d="M829.4 709.2L830.1 704.4L831.3 708.9Z" fill="#2a8428"/><path d="M855.6 711.8v-3.7M859.6 711.8v-3.7" stroke="#3a4a1c" stroke-width="1.5"/><path d="M853.1 708.3C851.4 702.6 855.3 698.1 857.4 697.9C860.0 698.1 863.9 702.6 862.2 708.3Q857.6 710.5 853.1 708.3Z" fill="#56bf3c"/><path d="M854.5 705.2Q854.7 701.5 857.2 698.9Q858.8 702.2 857.3 705.9Z" fill="#80da62"/><path d="M857.4 709.2L858.1 704.4L859.3 708.9Z" fill="#2a8428"/><path d="M886.9 711.8v-3.7M890.9 711.8v-3.7" stroke="#3a4a1c" stroke-width="1.5"/><path d="M884.4 708.3C882.7 702.6 886.6 698.1 888.7 697.9C891.3 698.1 895.2 702.6 893.5 708.3Q888.9 710.5 884.4 708.3Z" fill="#56bf3c"/><path d="M885.8 705.2Q886.0 701.5 888.5 698.9Q890.0 702.2 888.6 705.9Z" fill="#80da62"/><path d="M888.7 709.2L889.4 704.4L890.6 708.9Z" fill="#2a8428"/><path d="M914.9 711.8v-3.7M918.9 711.8v-3.7" stroke="#3a4a1c" stroke-width="1.5"/><path d="M912.4 708.3C910.7 702.6 914.6 698.1 916.7 697.9C919.3 698.1 923.2 702.6 921.5 708.3Q916.9 710.5 912.4 708.3Z" fill="#56bf3c"/><path d="M913.8 705.2Q914.0 701.5 916.5 698.9Q918.0 702.2 916.6 705.9Z" fill="#80da62"/><path d="M916.7 709.2L917.4 704.4L918.6 708.9Z" fill="#2a8428"/><polygon points="819.6,719.7 826.0,719.7 826.0,716.1 819.6,716.1" fill="#55535a"/><polygon points="826.0,719.7 828.9,716.3 828.9,712.7 826.0,716.1" fill="#403e44"/><polygon points="819.6,716.1 826.0,716.1 828.9,712.7 822.5,712.7" fill="#85838a"/><polygon points="832.6,719.7 839.0,719.7 839.0,716.1 832.6,716.1" fill="#55535a"/><polygon points="839.0,719.7 841.9,716.3 841.9,712.7 839.0,716.1" fill="#403e44"/><polygon points="832.6,716.1 839.0,716.1 841.9,712.7 835.5,712.7" fill="#85838a"/><polygon points="846.6,719.7 853.0,719.7 853.0,716.1 846.6,716.1" fill="#55535a"/><polygon points="853.0,719.7 855.9,716.3 855.9,712.7 853.0,716.1" fill="#403e44"/><polygon points="846.6,716.1 853.0,716.1 855.9,712.7 849.5,712.7" fill="#85838a"/><polygon points="860.6,719.7 867.0,719.7 867.0,716.1 860.6,716.1" fill="#55535a"/><polygon points="867.0,719.7 869.9,716.3 869.9,712.7 867.0,716.1" fill="#403e44"/><polygon points="860.6,716.1 867.0,716.1 869.9,712.7 863.5,712.7" fill="#85838a"/><polygon points="875.7,719.7 882.1,719.7 882.1,716.1 875.7,716.1" fill="#55535a"/><polygon points="882.1,719.7 885.0,716.3 885.0,712.7 882.1,716.1" fill="#403e44"/><polygon points="875.7,716.1 882.1,716.1 885.0,712.7 878.6,712.7" fill="#85838a"/><polygon points="889.7,719.7 896.1,719.7 896.1,716.1 889.7,716.1" fill="#55535a"/><polygon points="896.1,719.7 899.0,716.3 899.0,712.7 896.1,716.1" fill="#403e44"/><polygon points="889.7,716.1 896.1,716.1 899.0,712.7 892.6,712.7" fill="#85838a"/><polygon points="904.8,719.7 911.2,719.7 911.2,716.1 904.8,716.1" fill="#55535a"/><polygon points="911.2,719.7 914.1,716.3 914.1,712.7 911.2,716.1" fill="#403e44"/><polygon points="904.8,716.1 911.2,716.1 914.1,712.7 907.7,712.7" fill="#85838a"/><polygon points="807.8,731.5 814.2,731.5 814.2,727.9 807.8,727.9" fill="#55535a"/><polygon points="814.2,731.5 817.1,728.1 817.1,724.5 814.2,727.9" fill="#403e44"/><polygon points="807.8,727.9 814.2,727.9 817.1,724.5 810.7,724.5" fill="#85838a"/><polygon points="820.7,731.5 827.1,731.5 827.1,727.9 820.7,727.9" fill="#55535a"/><polygon points="827.1,731.5 830.0,728.1 830.0,724.5 827.1,727.9" fill="#403e44"/><polygon points="820.7,727.9 827.1,727.9 830.0,724.5 823.6,724.5" fill="#85838a"/><polygon points="850.9,731.5 857.3,731.5 857.3,727.9 850.9,727.9" fill="#55535a"/><polygon points="857.3,731.5 860.2,728.1 860.2,724.5 857.3,727.9" fill="#403e44"/><polygon points="850.9,727.9 857.3,727.9 860.2,724.5 853.8,724.5" fill="#85838a"/><polygon points="864.9,731.5 871.3,731.5 871.3,727.9 864.9,727.9" fill="#55535a"/><polygon points="871.3,731.5 874.2,728.1 874.2,724.5 871.3,727.9" fill="#403e44"/><polygon points="864.9,727.9 871.3,727.9 874.2,724.5 867.8,724.5" fill="#85838a"/><polygon points="880.0,731.5 886.4,731.5 886.4,727.9 880.0,727.9" fill="#55535a"/><polygon points="886.4,731.5 889.3,728.1 889.3,724.5 886.4,727.9" fill="#403e44"/><polygon points="880.0,727.9 886.4,727.9 889.3,724.5 882.9,724.5" fill="#85838a"/><polygon points="894.0,731.5 900.4,731.5 900.4,727.9 894.0,727.9" fill="#55535a"/><polygon points="900.4,731.5 903.3,728.1 903.3,724.5 900.4,727.9" fill="#403e44"/><polygon points="894.0,727.9 900.4,727.9 903.3,724.5 896.9,724.5" fill="#85838a"/><path d="M813.6 734.8v-3.7M817.6 734.8v-3.7" stroke="#3a4a1c" stroke-width="1.5"/><path d="M811.1 731.3C809.4 725.6 813.3 721.1 815.4 720.9C818.0 721.1 821.9 725.6 820.2 731.3Q815.6 733.5 811.1 731.3Z" fill="#56bf3c"/><path d="M812.5 728.2Q812.7 724.5 815.2 721.9Q816.8 725.2 815.3 728.9Z" fill="#80da62"/><path d="M815.4 732.2L816.1 727.4L817.3 731.9Z" fill="#2a8428"/><path d="M839.4 734.8v-3.7M843.4 734.8v-3.7" stroke="#3a4a1c" stroke-width="1.5"/><path d="M836.9 731.3C835.2 725.6 839.1 721.1 841.2 720.9C843.8 721.1 847.7 725.6 846.0 731.3Q841.4 733.5 836.9 731.3Z" fill="#56bf3c"/><path d="M838.3 728.2Q838.5 724.5 841.0 721.9Q842.6 725.2 841.1 728.9Z" fill="#80da62"/><path d="M841.2 732.2L841.9 727.4L843.1 731.9Z" fill="#2a8428"/><path d="M868.5 734.8v-3.7M872.5 734.8v-3.7" stroke="#3a4a1c" stroke-width="1.5"/><path d="M866.0 731.3C864.3 725.6 868.2 721.1 870.3 720.9C872.9 721.1 876.8 725.6 875.1 731.3Q870.5 733.5 866.0 731.3Z" fill="#56bf3c"/><path d="M867.4 728.2Q867.6 724.5 870.1 721.9Q871.6 725.2 870.2 728.9Z" fill="#80da62"/><path d="M870.3 732.2L871.0 727.4L872.2 731.9Z" fill="#2a8428"/><path d="M894.4 734.8v-3.7M898.4 734.8v-3.7" stroke="#3a4a1c" stroke-width="1.5"/><path d="M891.9 731.3C890.2 725.6 894.1 721.1 896.2 720.9C898.8 721.1 902.7 725.6 901.0 731.3Q896.4 733.5 891.9 731.3Z" fill="#56bf3c"/><path d="M893.3 728.2Q893.5 724.5 896.0 721.9Q897.6 725.2 896.1 728.9Z" fill="#80da62"/><path d="M896.2 732.2L896.9 727.4L898.1 731.9Z" fill="#2a8428"/><polygon points="797.0,743.4 803.4,743.4 803.4,739.8 797.0,739.8" fill="#55535a"/><polygon points="803.4,743.4 806.3,740.0 806.3,736.4 803.4,739.8" fill="#403e44"/><polygon points="797.0,739.8 803.4,739.8 806.3,736.4 799.9,736.4" fill="#85838a"/><polygon points="811.0,743.4 817.4,743.4 817.4,739.8 811.0,739.8" fill="#55535a"/><polygon points="817.4,743.4 820.3,740.0 820.3,736.4 817.4,739.8" fill="#403e44"/><polygon points="811.0,739.8 817.4,739.8 820.3,736.4 813.9,736.4" fill="#85838a"/><polygon points="826.1,743.4 832.5,743.4 832.5,739.8 826.1,739.8" fill="#55535a"/><polygon points="832.5,743.4 835.4,740.0 835.4,736.4 832.5,739.8" fill="#403e44"/><polygon points="826.1,739.8 832.5,739.8 835.4,736.4 829.0,736.4" fill="#85838a"/><polygon points="839.0,743.4 845.4,743.4 845.4,739.8 839.0,739.8" fill="#55535a"/><polygon points="845.4,743.4 848.3,740.0 848.3,736.4 845.4,739.8" fill="#403e44"/><polygon points="839.0,739.8 845.4,739.8 848.3,736.4 841.9,736.4" fill="#85838a"/><polygon points="854.1,743.4 860.5,743.4 860.5,739.8 854.1,739.8" fill="#55535a"/><polygon points="860.5,743.4 863.4,740.0 863.4,736.4 860.5,739.8" fill="#403e44"/><polygon points="854.1,739.8 860.5,739.8 863.4,736.4 857.0,736.4" fill="#85838a"/><polygon points="868.1,743.4 874.5,743.4 874.5,739.8 868.1,739.8" fill="#55535a"/><polygon points="874.5,743.4 877.4,740.0 877.4,736.4 874.5,739.8" fill="#403e44"/><polygon points="868.1,739.8 874.5,739.8 877.4,736.4 871.0,736.4" fill="#85838a"/><polygon points="883.2,743.4 889.6,743.4 889.6,739.8 883.2,739.8" fill="#55535a"/><polygon points="889.6,743.4 892.5,740.0 892.5,736.4 889.6,739.8" fill="#403e44"/><polygon points="883.2,739.8 889.6,739.8 892.5,736.4 886.1,736.4" fill="#85838a"/><polygon points="786.2,755.2 792.6,755.2 792.6,751.6 786.2,751.6" fill="#55535a"/><polygon points="792.6,755.2 795.5,751.8 795.5,748.2 792.6,751.6" fill="#403e44"/><polygon points="786.2,751.6 792.6,751.6 795.5,748.2 789.1,748.2" fill="#85838a"/><polygon points="800.2,755.2 806.6,755.2 806.6,751.6 800.2,751.6" fill="#55535a"/><polygon points="806.6,755.2 809.5,751.8 809.5,748.2 806.6,751.6" fill="#403e44"/><polygon points="800.2,751.6 806.6,751.6 809.5,748.2 803.1,748.2" fill="#85838a"/><polygon points="814.2,755.2 820.6,755.2 820.6,751.6 814.2,751.6" fill="#55535a"/><polygon points="820.6,755.2 823.5,751.8 823.5,748.2 820.6,751.6" fill="#403e44"/><polygon points="814.2,751.6 820.6,751.6 823.5,748.2 817.1,748.2" fill="#85838a"/><polygon points="829.3,755.2 835.7,755.2 835.7,751.6 829.3,751.6" fill="#55535a"/><polygon points="835.7,755.2 838.6,751.8 838.6,748.2 835.7,751.6" fill="#403e44"/><polygon points="829.3,751.6 835.7,751.6 838.6,748.2 832.2,748.2" fill="#85838a"/><polygon points="843.3,755.2 849.7,755.2 849.7,751.6 843.3,751.6" fill="#55535a"/><polygon points="849.7,755.2 852.6,751.8 852.6,748.2 849.7,751.6" fill="#403e44"/><polygon points="843.3,751.6 849.7,751.6 852.6,748.2 846.2,748.2" fill="#85838a"/><polygon points="858.4,755.2 864.8,755.2 864.8,751.6 858.4,751.6" fill="#55535a"/><polygon points="864.8,755.2 867.7,751.8 867.7,748.2 864.8,751.6" fill="#403e44"/><polygon points="858.4,751.6 864.8,751.6 867.7,748.2 861.3,748.2" fill="#85838a"/><polygon points="872.5,755.2 878.9,755.2 878.9,751.6 872.5,751.6" fill="#55535a"/><polygon points="878.9,755.2 881.8,751.8 881.8,748.2 878.9,751.6" fill="#403e44"/><polygon points="872.5,751.6 878.9,751.6 881.8,748.2 875.4,748.2" fill="#85838a"/><path d="M789.8 758.8v-3.7M793.8 758.8v-3.7" stroke="#3a4a1c" stroke-width="1.5"/><path d="M787.3 755.3C785.6 749.6 789.5 745.1 791.6 744.9C794.2 745.1 798.1 749.6 796.4 755.3Q791.8 757.5 787.3 755.3Z" fill="#56bf3c"/><path d="M788.7 752.2Q788.9 748.5 791.4 745.9Q792.9 749.2 791.5 752.9Z" fill="#80da62"/><path d="M791.6 756.2L792.3 751.4L793.5 755.9Z" fill="#2a8428"/><path d="M820.0 758.8v-3.7M824.0 758.8v-3.7" stroke="#3a4a1c" stroke-width="1.5"/><path d="M817.5 755.3C815.8 749.6 819.7 745.1 821.8 744.9C824.4 745.1 828.3 749.6 826.6 755.3Q822.0 757.5 817.5 755.3Z" fill="#56bf3c"/><path d="M818.9 752.2Q819.1 748.5 821.6 745.9Q823.1 749.2 821.7 752.9Z" fill="#80da62"/><path d="M821.8 756.2L822.5 751.4L823.7 755.9Z" fill="#2a8428"/><path d="M848.1 758.8v-3.7M852.1 758.8v-3.7" stroke="#3a4a1c" stroke-width="1.5"/><path d="M845.6 755.3C843.9 749.6 847.8 745.1 849.9 744.9C852.5 745.1 856.4 749.6 854.7 755.3Q850.1 757.5 845.6 755.3Z" fill="#56bf3c"/><path d="M847.0 752.2Q847.2 748.5 849.7 745.9Q851.2 749.2 849.8 752.9Z" fill="#80da62"/><path d="M849.9 756.2L850.6 751.4L851.8 755.9Z" fill="#2a8428"/><path d="M872.9 758.8v-3.7M876.9 758.8v-3.7" stroke="#3a4a1c" stroke-width="1.5"/><path d="M870.4 755.3C868.7 749.6 872.6 745.1 874.7 744.9C877.3 745.1 881.2 749.6 879.5 755.3Q874.9 757.5 870.4 755.3Z" fill="#56bf3c"/><path d="M871.8 752.2Q872.0 748.5 874.5 745.9Q876.0 749.2 874.6 752.9Z" fill="#80da62"/><path d="M874.7 756.2L875.4 751.4L876.6 755.9Z" fill="#2a8428"/><polygon points="898.6,763.0 1023.6,763.0 1076.1,696.0 951.1,696.0" fill="#cda567"/><polygon points="955.9,703.9 962.1,703.9 962.1,698.1 955.9,698.1" fill="#9d886b"/><polygon points="962.1,703.9 964.8,700.4 964.8,694.6 962.1,698.1" fill="#806c52"/><polygon points="955.9,698.1 962.1,698.1 964.8,694.6 958.6,694.6" fill="#c2b298"/><polygon points="1008.6,703.9 1014.8,703.9 1014.8,698.0 1008.6,698.0" fill="#978671"/><polygon points="1014.8,703.9 1017.5,700.4 1017.5,694.5 1014.8,698.0" fill="#7a6b59"/><polygon points="1008.6,698.0 1014.8,698.0 1017.5,694.5 1011.3,694.5" fill="#bcb0a0"/><polygon points="1033.0,704.1 1039.3,704.1 1039.3,698.2 1033.0,698.2" fill="#978671"/><polygon points="1039.3,704.1 1042.0,700.6 1042.0,694.7 1039.3,698.2" fill="#7a6b59"/><polygon points="1033.0,698.2 1039.3,698.2 1042.0,694.7 1035.8,694.7" fill="#bcb0a0"/><polygon points="964.5,704.2 970.8,704.2 970.8,698.2 964.5,698.2" fill="#8f8273"/><polygon points="970.8,704.2 973.5,700.7 973.5,694.7 970.8,698.2" fill="#77695a"/><polygon points="964.5,698.2 970.8,698.2 973.5,694.7 967.3,694.7" fill="#b9ad9d"/><polygon points="972.3,704.5 978.5,704.5 978.5,698.3 972.3,698.3" fill="#898884"/><polygon points="978.5,704.5 981.3,701.0 981.3,694.8 978.5,698.3" fill="#6d6c68"/><polygon points="972.3,698.3 978.5,698.3 981.3,694.8 975.0,694.8" fill="#b7b6b1"/><polygon points="1061.0,704.5 1067.2,704.5 1067.2,698.8 1061.0,698.8" fill="#978671"/><polygon points="1067.2,704.5 1069.9,701.0 1069.9,695.3 1067.2,698.8" fill="#7a6b59"/><polygon points="1061.0,698.8 1067.2,698.8 1069.9,695.3 1063.7,695.3" fill="#bcb0a0"/><polygon points="990.1,704.7 996.3,704.7 996.3,699.0 990.1,699.0" fill="#978671"/><polygon points="996.3,704.7 999.1,701.2 999.1,695.5 996.3,699.0" fill="#7a6b59"/><polygon points="990.1,699.0 996.3,699.0 999.1,695.5 992.8,695.5" fill="#bcb0a0"/><polygon points="1016.0,704.7 1022.3,704.7 1022.3,699.8 1016.0,699.8" fill="#978671"/><polygon points="1022.3,704.7 1025.0,701.3 1025.0,696.3 1022.3,699.8" fill="#7a6b59"/><polygon points="1016.0,699.8 1022.3,699.8 1025.0,696.3 1018.8,696.3" fill="#bcb0a0"/><polygon points="998.6,704.8 1004.9,704.8 1004.9,698.9 998.6,698.9" fill="#898884"/><polygon points="1004.9,704.8 1007.6,701.3 1007.6,695.4 1004.9,698.9" fill="#6d6c68"/><polygon points="998.6,698.9 1004.9,698.9 1007.6,695.4 1001.4,695.4" fill="#b7b6b1"/><polygon points="1042.0,704.8 1048.2,704.8 1048.2,698.6 1042.0,698.6" fill="#8a7d72"/><polygon points="1048.2,704.8 1050.9,701.3 1050.9,695.1 1048.2,698.6" fill="#73675c"/><polygon points="1042.0,698.6 1048.2,698.6 1050.9,695.1 1044.7,695.1" fill="#b3a89c"/><polygon points="944.9,704.9 951.2,704.9 951.2,699.8 944.9,699.8" fill="#898884"/><polygon points="951.2,704.9 953.9,701.4 953.9,696.3 951.2,699.8" fill="#6d6c68"/><polygon points="944.9,699.8 951.2,699.8 953.9,696.3 947.6,696.3" fill="#b7b6b1"/><polygon points="980.2,705.0 986.4,705.0 986.4,699.6 980.2,699.6" fill="#898884"/><polygon points="986.4,705.0 989.2,701.5 989.2,696.1 986.4,699.6" fill="#6d6c68"/><polygon points="980.2,699.6 986.4,699.6 989.2,696.1 982.9,696.1" fill="#b7b6b1"/><polygon points="1025.7,705.0 1031.9,705.0 1031.9,699.2 1025.7,699.2" fill="#8a7d72"/><polygon points="1031.9,705.0 1034.7,701.5 1034.7,695.7 1031.9,699.2" fill="#73675c"/><polygon points="1025.7,699.2 1031.9,699.2 1034.7,695.7 1028.4,695.7" fill="#b3a89c"/><polygon points="975.4,710.5 981.7,710.5 981.7,704.5 975.4,704.5" fill="#898884"/><polygon points="981.7,710.5 984.4,707.0 984.4,701.0 981.7,704.5" fill="#6d6c68"/><polygon points="975.4,704.5 981.7,704.5 984.4,701.0 978.2,701.0" fill="#b7b6b1"/><polygon points="1054.9,710.5 1061.2,710.5 1061.2,704.5 1054.9,704.5" fill="#9d886b"/><polygon points="1061.2,710.5 1063.9,707.0 1063.9,701.1 1061.2,704.5" fill="#806c52"/><polygon points="1054.9,704.5 1061.2,704.5 1063.9,701.1 1057.6,701.1" fill="#c2b298"/><polygon points="948.4,710.6 954.7,710.6 954.7,704.8 948.4,704.8" fill="#8a7d72"/><polygon points="954.7,710.6 957.4,707.1 957.4,701.4 954.7,704.8" fill="#73675c"/><polygon points="948.4,704.8 954.7,704.8 957.4,701.4 951.2,701.4" fill="#b3a89c"/><polygon points="957.7,710.6 963.9,710.6 963.9,704.9 957.7,704.9" fill="#8a7d72"/><polygon points="963.9,710.6 966.7,707.1 966.7,701.4 963.9,704.9" fill="#73675c"/><polygon points="957.7,704.9 963.9,704.9 966.7,701.4 960.4,701.4" fill="#b3a89c"/><polygon points="1046.8,710.6 1053.0,710.6 1053.0,704.9 1046.8,704.9" fill="#8f8273"/><polygon points="1053.0,710.6 1055.7,707.1 1055.7,701.4 1053.0,704.9" fill="#77695a"/><polygon points="1046.8,704.9 1053.0,704.9 1055.7,701.4 1049.5,701.4" fill="#b9ad9d"/><polygon points="1010.9,710.7 1017.2,710.7 1017.2,704.3 1010.9,704.3" fill="#898884"/><polygon points="1017.2,710.7 1019.9,707.2 1019.9,700.8 1017.2,704.3" fill="#6d6c68"/><polygon points="1010.9,704.3 1017.2,704.3 1019.9,700.8 1013.7,700.8" fill="#b7b6b1"/><polygon points="1018.5,710.7 1024.7,710.7 1024.7,704.7 1018.5,704.7" fill="#9d886b"/><polygon points="1024.7,710.7 1027.5,707.3 1027.5,701.2 1024.7,704.7" fill="#806c52"/><polygon points="1018.5,704.7 1024.7,704.7 1027.5,701.2 1021.2,701.2" fill="#c2b298"/><polygon points="984.8,710.8 991.1,710.8 991.1,706.2 984.8,706.2" fill="#898884"/><polygon points="991.1,710.8 993.8,707.4 993.8,702.7 991.1,706.2" fill="#6d6c68"/><polygon points="984.8,706.2 991.1,706.2 993.8,702.7 987.5,702.7" fill="#b7b6b1"/><polygon points="1002.2,710.9 1008.5,710.9 1008.5,705.8 1002.2,705.8" fill="#8a7d72"/><polygon points="1008.5,710.9 1011.2,707.4 1011.2,702.3 1008.5,705.8" fill="#73675c"/><polygon points="1002.2,705.8 1008.5,705.8 1011.2,702.3 1004.9,702.3" fill="#b3a89c"/><polygon points="1036.7,711.0 1042.9,711.0 1042.9,706.2 1036.7,706.2" fill="#978671"/><polygon points="1042.9,711.0 1045.7,707.5 1045.7,702.7 1042.9,706.2" fill="#7a6b59"/><polygon points="1036.7,706.2 1042.9,706.2 1045.7,702.7 1039.4,702.7" fill="#bcb0a0"/><polygon points="992.8,711.2 999.1,711.2 999.1,705.3 992.8,705.3" fill="#8a7d72"/><polygon points="999.1,711.2 1001.8,707.7 1001.8,701.9 999.1,705.3" fill="#73675c"/><polygon points="992.8,705.3 999.1,705.3 1001.8,701.9 995.5,701.9" fill="#b3a89c"/><polygon points="1029.5,711.3 1035.7,711.3 1035.7,705.0 1029.5,705.0" fill="#8f8273"/><polygon points="1035.7,711.3 1038.5,707.8 1038.5,701.5 1035.7,705.0" fill="#77695a"/><polygon points="1029.5,705.0 1035.7,705.0 1038.5,701.5 1032.2,701.5" fill="#b9ad9d"/><polygon points="940.9,711.5 947.2,711.5 947.2,706.6 940.9,706.6" fill="#9d886b"/><polygon points="947.2,711.5 949.9,708.1 949.9,703.1 947.2,706.6" fill="#806c52"/><polygon points="940.9,706.6 947.2,706.6 949.9,703.1 943.7,703.1" fill="#c2b298"/><polygon points="965.7,711.6 972.0,711.6 972.0,706.6 965.7,706.6" fill="#898884"/><polygon points="972.0,711.6 974.7,708.2 974.7,703.1 972.0,706.6" fill="#6d6c68"/><polygon points="965.7,706.6 972.0,706.6 974.7,703.1 968.4,703.1" fill="#b7b6b1"/><polygon points="962.3,716.9 968.6,716.9 968.6,711.7 962.3,711.7" fill="#8f8273"/><polygon points="968.6,716.9 971.3,713.4 971.3,708.3 968.6,711.7" fill="#77695a"/><polygon points="962.3,711.7 968.6,711.7 971.3,708.3 965.1,708.3" fill="#b9ad9d"/><polygon points="1006.8,716.9 1013.0,716.9 1013.0,711.9 1006.8,711.9" fill="#9d886b"/><polygon points="1013.0,716.9 1015.7,713.4 1015.7,708.4 1013.0,711.9" fill="#806c52"/><polygon points="1006.8,711.9 1013.0,711.9 1015.7,708.4 1009.5,708.4" fill="#c2b298"/><polygon points="979.1,716.9 985.4,716.9 985.4,711.0 979.1,711.0" fill="#978671"/><polygon points="985.4,716.9 988.1,713.4 988.1,707.5 985.4,711.0" fill="#7a6b59"/><polygon points="979.1,711.0 985.4,711.0 988.1,707.5 981.8,707.5" fill="#bcb0a0"/><polygon points="1050.5,717.0 1056.7,717.0 1056.7,712.3 1050.5,712.3" fill="#8f8273"/><polygon points="1056.7,717.0 1059.4,713.5 1059.4,708.8 1056.7,712.3" fill="#77695a"/><polygon points="1050.5,712.3 1056.7,712.3 1059.4,708.8 1053.2,708.8" fill="#b9ad9d"/><polygon points="972.1,717.0 978.3,717.0 978.3,712.4 972.1,712.4" fill="#8a7d72"/><polygon points="978.3,717.0 981.1,713.5 981.1,708.9 978.3,712.4" fill="#73675c"/><polygon points="972.1,712.4 978.3,712.4 981.1,708.9 974.8,708.9" fill="#b3a89c"/><polygon points="1041.6,717.2 1047.9,717.2 1047.9,712.5 1041.6,712.5" fill="#8a7d72"/><polygon points="1047.9,717.2 1050.6,713.7 1050.6,709.0 1047.9,712.5" fill="#73675c"/><polygon points="1041.6,712.5 1047.9,712.5 1050.6,709.0 1044.4,709.0" fill="#b3a89c"/><polygon points="952.6,717.2 958.9,717.2 958.9,712.1 952.6,712.1" fill="#898884"/><polygon points="958.9,717.2 961.6,713.7 961.6,708.7 958.9,712.1" fill="#6d6c68"/><polygon points="952.6,712.1 958.9,712.1 961.6,708.7 955.4,708.7" fill="#b7b6b1"/><polygon points="1015.7,717.3 1022.0,717.3 1022.0,712.6 1015.7,712.6" fill="#9d886b"/><polygon points="1022.0,717.3 1024.7,713.9 1024.7,709.1 1022.0,712.6" fill="#806c52"/><polygon points="1015.7,712.6 1022.0,712.6 1024.7,709.1 1018.5,709.1" fill="#c2b298"/><polygon points="987.8,717.4 994.0,717.4 994.0,712.1 987.8,712.1" fill="#898884"/><polygon points="994.0,717.4 996.7,713.9 996.7,708.6 994.0,712.1" fill="#6d6c68"/><polygon points="987.8,712.1 994.0,712.1 996.7,708.6 990.5,708.6" fill="#b7b6b1"/><polygon points="997.9,717.5 1004.1,717.5 1004.1,711.4 997.9,711.4" fill="#8f8273"/><polygon points="1004.1,717.5 1006.9,714.1 1006.9,708.0 1004.1,711.4" fill="#77695a"/><polygon points="997.9,711.4 1004.1,711.4 1006.9,708.0 1000.6,708.0" fill="#b9ad9d"/><polygon points="942.9,717.9 949.1,717.9 949.1,713.2 942.9,713.2" fill="#898884"/><polygon points="949.1,717.9 951.9,714.4 951.9,709.7 949.1,713.2" fill="#6d6c68"/><polygon points="942.9,713.2 949.1,713.2 951.9,709.7 945.6,709.7" fill="#b7b6b1"/><polygon points="1024.1,718.0 1030.3,718.0 1030.3,712.3 1024.1,712.3" fill="#8a7d72"/><polygon points="1030.3,718.0 1033.1,714.5 1033.1,708.8 1030.3,712.3" fill="#73675c"/><polygon points="1024.1,712.3 1030.3,712.3 1033.1,708.8 1026.8,708.8" fill="#b3a89c"/><polygon points="935.8,718.1 942.0,718.1 942.0,712.3 935.8,712.3" fill="#9d886b"/><polygon points="942.0,718.1 944.7,714.6 944.7,708.8 942.0,712.3" fill="#806c52"/><polygon points="935.8,712.3 942.0,712.3 944.7,708.8 938.5,708.8" fill="#c2b298"/><polygon points="1030.8,718.1 1037.0,718.1 1037.0,713.3 1030.8,713.3" fill="#8a7d72"/><polygon points="1037.0,718.1 1039.7,714.7 1039.7,709.8 1037.0,713.3" fill="#73675c"/><polygon points="1030.8,713.3 1037.0,713.3 1039.7,709.8 1033.5,709.8" fill="#b3a89c"/><polygon points="990.9,723.5 997.2,723.5 997.2,717.8 990.9,717.8" fill="#8f8273"/><polygon points="997.2,723.5 999.9,720.0 999.9,714.3 997.2,717.8" fill="#77695a"/><polygon points="990.9,717.8 997.2,717.8 999.9,714.3 993.6,714.3" fill="#b9ad9d"/><polygon points="1001.1,723.7 1007.4,723.7 1007.4,718.6 1001.1,718.6" fill="#8f8273"/><polygon points="1007.4,723.7 1010.1,720.2 1010.1,715.2 1007.4,718.6" fill="#77695a"/><polygon points="1001.1,718.6 1007.4,718.6 1010.1,715.2 1003.8,715.2" fill="#b9ad9d"/><polygon points="931.7,723.7 938.0,723.7 938.0,717.7 931.7,717.7" fill="#898884"/><polygon points="938.0,723.7 940.7,720.2 940.7,714.3 938.0,717.7" fill="#6d6c68"/><polygon points="931.7,717.7 938.0,717.7 940.7,714.3 934.5,714.3" fill="#b7b6b1"/><polygon points="1044.4,723.7 1050.6,723.7 1050.6,719.1 1044.4,719.1" fill="#9d886b"/><polygon points="1050.6,723.7 1053.4,720.2 1053.4,715.6 1050.6,719.1" fill="#806c52"/><polygon points="1044.4,719.1 1050.6,719.1 1053.4,715.6 1047.1,715.6" fill="#c2b298"/><polygon points="974.4,723.7 980.6,723.7 980.6,718.3 974.4,718.3" fill="#978671"/><polygon points="980.6,723.7 983.3,720.2 983.3,714.8 980.6,718.3" fill="#7a6b59"/><polygon points="974.4,718.3 980.6,718.3 983.3,714.8 977.1,714.8" fill="#bcb0a0"/><polygon points="946.7,723.8 952.9,723.8 952.9,719.2 946.7,719.2" fill="#8f8273"/><polygon points="952.9,723.8 955.7,720.3 955.7,715.7 952.9,719.2" fill="#77695a"/><polygon points="946.7,719.2 952.9,719.2 955.7,715.7 949.4,715.7" fill="#b9ad9d"/><polygon points="955.2,724.0 961.5,724.0 961.5,718.4 955.2,718.4" fill="#8a7d72"/><polygon points="961.5,724.0 964.2,720.5 964.2,714.9 961.5,718.4" fill="#73675c"/><polygon points="955.2,718.4 961.5,718.4 964.2,714.9 958.0,714.9" fill="#b3a89c"/><polygon points="1028.3,724.0 1034.6,724.0 1034.6,718.2 1028.3,718.2" fill="#978671"/><polygon points="1034.6,724.0 1037.3,720.5 1037.3,714.7 1034.6,718.2" fill="#7a6b59"/><polygon points="1028.3,718.2 1034.6,718.2 1037.3,714.7 1031.1,714.7" fill="#bcb0a0"/><polygon points="938.1,724.1 944.4,724.1 944.4,718.9 938.1,718.9" fill="#9d886b"/><polygon points="944.4,724.1 947.1,720.6 947.1,715.4 944.4,718.9" fill="#806c52"/><polygon points="938.1,718.9 944.4,718.9 947.1,715.4 940.8,715.4" fill="#c2b298"/><polygon points="981.7,724.1 988.0,724.1 988.0,719.1 981.7,719.1" fill="#898884"/><polygon points="988.0,724.1 990.7,720.7 990.7,715.6 988.0,719.1" fill="#6d6c68"/><polygon points="981.7,719.1 988.0,719.1 990.7,715.6 984.5,715.6" fill="#b7b6b1"/><polygon points="964.9,724.4 971.1,724.4 971.1,718.7 964.9,718.7" fill="#978671"/><polygon points="971.1,724.4 973.8,720.9 973.8,715.2 971.1,718.7" fill="#7a6b59"/><polygon points="964.9,718.7 971.1,718.7 973.8,715.2 967.6,715.2" fill="#bcb0a0"/><polygon points="1036.0,724.4 1042.2,724.4 1042.2,719.3 1036.0,719.3" fill="#8f8273"/><polygon points="1042.2,724.4 1044.9,721.0 1044.9,715.8 1042.2,719.3" fill="#77695a"/><polygon points="1036.0,719.3 1042.2,719.3 1044.9,715.8 1038.7,715.8" fill="#b9ad9d"/><polygon points="1010.1,724.6 1016.3,724.6 1016.3,719.7 1010.1,719.7" fill="#8f8273"/><polygon points="1016.3,724.6 1019.1,721.2 1019.1,716.2 1016.3,719.7" fill="#77695a"/><polygon points="1010.1,719.7 1016.3,719.7 1019.1,716.2 1012.8,716.2" fill="#b9ad9d"/><polygon points="1016.8,724.7 1023.1,724.7 1023.1,719.1 1016.8,719.1" fill="#8a7d72"/><polygon points="1023.1,724.7 1025.8,721.2 1025.8,715.6 1023.1,719.1" fill="#73675c"/><polygon points="1016.8,719.1 1023.1,719.1 1025.8,715.6 1019.6,715.6" fill="#b3a89c"/><polygon points="1005.6,729.9 1011.9,729.9 1011.9,724.5 1005.6,724.5" fill="#898884"/><polygon points="1011.9,729.9 1014.6,726.4 1014.6,721.0 1011.9,724.5" fill="#6d6c68"/><polygon points="1005.6,724.5 1011.9,724.5 1014.6,721.0 1008.3,721.0" fill="#b7b6b1"/><polygon points="934.7,730.0 940.9,730.0 940.9,723.6 934.7,723.6" fill="#8a7d72"/><polygon points="940.9,730.0 943.6,726.5 943.6,720.1 940.9,723.6" fill="#73675c"/><polygon points="934.7,723.6 940.9,723.6 943.6,720.1 937.4,720.1" fill="#b3a89c"/><polygon points="996.4,730.1 1002.6,730.1 1002.6,725.0 996.4,725.0" fill="#978671"/><polygon points="1002.6,730.1 1005.3,726.6 1005.3,721.6 1002.6,725.0" fill="#7a6b59"/><polygon points="996.4,725.0 1002.6,725.0 1005.3,721.6 999.1,721.6" fill="#bcb0a0"/><polygon points="959.8,730.2 966.1,730.2 966.1,725.3 959.8,725.3" fill="#8f8273"/><polygon points="966.1,730.2 968.8,726.7 968.8,721.8 966.1,725.3" fill="#77695a"/><polygon points="959.8,725.3 966.1,725.3 968.8,721.8 962.5,721.8" fill="#b9ad9d"/><polygon points="926.1,730.2 932.3,730.2 932.3,724.0 926.1,724.0" fill="#8a7d72"/><polygon points="932.3,730.2 935.1,726.7 935.1,720.5 932.3,724.0" fill="#73675c"/><polygon points="926.1,724.0 932.3,724.0 935.1,720.5 928.8,720.5" fill="#b3a89c"/><polygon points="951.1,730.3 957.4,730.3 957.4,724.4 951.1,724.4" fill="#978671"/><polygon points="957.4,730.3 960.1,726.8 960.1,720.9 957.4,724.4" fill="#7a6b59"/><polygon points="951.1,724.4 957.4,724.4 960.1,720.9 953.8,720.9" fill="#bcb0a0"/><polygon points="979.2,730.3 985.5,730.3 985.5,725.3 979.2,725.3" fill="#898884"/><polygon points="985.5,730.3 988.2,726.9 988.2,721.8 985.5,725.3" fill="#6d6c68"/><polygon points="979.2,725.3 985.5,725.3 988.2,721.8 981.9,721.8" fill="#b7b6b1"/><polygon points="1031.0,730.6 1037.2,730.6 1037.2,725.7 1031.0,725.7" fill="#8a7d72"/><polygon points="1037.2,730.6 1039.9,727.1 1039.9,722.2 1037.2,725.7" fill="#73675c"/><polygon points="1031.0,725.7 1037.2,725.7 1039.9,722.2 1033.7,722.2" fill="#b3a89c"/><polygon points="1022.7,730.8 1029.0,730.8 1029.0,724.4 1022.7,724.4" fill="#898884"/><polygon points="1029.0,730.8 1031.7,727.3 1031.7,721.0 1029.0,724.4" fill="#6d6c68"/><polygon points="1022.7,724.4 1029.0,724.4 1031.7,721.0 1025.5,721.0" fill="#b7b6b1"/><polygon points="1040.0,730.8 1046.3,730.8 1046.3,725.1 1040.0,725.1" fill="#8f8273"/><polygon points="1046.3,730.8 1049.0,727.4 1049.0,721.6 1046.3,725.1" fill="#77695a"/><polygon points="1040.0,725.1 1046.3,725.1 1049.0,721.6 1042.8,721.6" fill="#b9ad9d"/><polygon points="1013.0,730.8 1019.2,730.8 1019.2,725.3 1013.0,725.3" fill="#8a7d72"/><polygon points="1019.2,730.8 1022.0,727.4 1022.0,721.8 1019.2,725.3" fill="#73675c"/><polygon points="1013.0,725.3 1019.2,725.3 1022.0,721.8 1015.7,721.8" fill="#b3a89c"/><polygon points="986.0,731.0 992.3,731.0 992.3,724.7 986.0,724.7" fill="#9d886b"/><polygon points="992.3,731.0 995.0,727.5 995.0,721.2 992.3,724.7" fill="#806c52"/><polygon points="986.0,724.7 992.3,724.7 995.0,721.2 988.8,721.2" fill="#c2b298"/><polygon points="969.8,731.0 976.1,731.0 976.1,725.5 969.8,725.5" fill="#9d886b"/><polygon points="976.1,731.0 978.8,727.5 978.8,722.0 976.1,725.5" fill="#806c52"/><polygon points="969.8,725.5 976.1,725.5 978.8,722.0 972.6,722.0" fill="#c2b298"/><polygon points="942.9,731.0 949.2,731.0 949.2,724.8 942.9,724.8" fill="#978671"/><polygon points="949.2,731.0 951.9,727.5 951.9,721.3 949.2,724.8" fill="#7a6b59"/><polygon points="942.9,724.8 949.2,724.8 951.9,721.3 945.7,721.3" fill="#bcb0a0"/><polygon points="939.2,736.4 945.4,736.4 945.4,731.1 939.2,731.1" fill="#8f8273"/><polygon points="945.4,736.4 948.2,732.9 948.2,727.7 945.4,731.1" fill="#77695a"/><polygon points="939.2,731.1 945.4,731.1 948.2,727.7 941.9,727.7" fill="#b9ad9d"/><polygon points="930.4,736.6 936.7,736.6 936.7,731.9 930.4,731.9" fill="#978671"/><polygon points="936.7,736.6 939.4,733.1 939.4,728.4 936.7,731.9" fill="#7a6b59"/><polygon points="930.4,731.9 936.7,731.9 939.4,728.4 933.2,728.4" fill="#bcb0a0"/><polygon points="955.9,736.6 962.1,736.6 962.1,731.6 955.9,731.6" fill="#978671"/><polygon points="962.1,736.6 964.9,733.1 964.9,728.1 962.1,731.6" fill="#7a6b59"/><polygon points="955.9,731.6 962.1,731.6 964.9,728.1 958.6,728.1" fill="#bcb0a0"/><polygon points="1017.6,736.6 1023.8,736.6 1023.8,731.3 1017.6,731.3" fill="#978671"/><polygon points="1023.8,736.6 1026.5,733.1 1026.5,727.8 1023.8,731.3" fill="#7a6b59"/><polygon points="1017.6,731.3 1023.8,731.3 1026.5,727.8 1020.3,727.8" fill="#bcb0a0"/><polygon points="990.8,736.8 997.0,736.8 997.0,731.6 990.8,731.6" fill="#898884"/><polygon points="997.0,736.8 999.7,733.3 999.7,728.2 997.0,731.6" fill="#6d6c68"/><polygon points="990.8,731.6 997.0,731.6 999.7,728.2 993.5,728.2" fill="#b7b6b1"/><polygon points="947.7,736.8 953.9,736.8 953.9,730.7 947.7,730.7" fill="#978671"/><polygon points="953.9,736.8 956.6,733.3 956.6,727.2 953.9,730.7" fill="#7a6b59"/><polygon points="947.7,730.7 953.9,730.7 956.6,727.2 950.4,727.2" fill="#bcb0a0"/><polygon points="919.5,737.0 925.7,737.0 925.7,731.0 919.5,731.0" fill="#9d886b"/><polygon points="925.7,737.0 928.4,733.5 928.4,727.5 925.7,731.0" fill="#806c52"/><polygon points="919.5,731.0 925.7,731.0 928.4,727.5 922.2,727.5" fill="#c2b298"/><polygon points="1006.7,737.1 1013.0,737.1 1013.0,731.6 1006.7,731.6" fill="#9d886b"/><polygon points="1013.0,737.1 1015.7,733.6 1015.7,728.2 1013.0,731.6" fill="#806c52"/><polygon points="1006.7,731.6 1013.0,731.6 1015.7,728.2 1009.5,728.2" fill="#c2b298"/><polygon points="998.5,737.1 1004.8,737.1 1004.8,731.7 998.5,731.7" fill="#898884"/><polygon points="1004.8,737.1 1007.5,733.6 1007.5,728.2 1004.8,731.7" fill="#6d6c68"/><polygon points="998.5,731.7 1004.8,731.7 1007.5,728.2 1001.3,728.2" fill="#b7b6b1"/><polygon points="962.9,737.5 969.1,737.5 969.1,732.2 962.9,732.2" fill="#8f8273"/><polygon points="969.1,737.5 971.9,734.0 971.9,728.7 969.1,732.2" fill="#77695a"/><polygon points="962.9,732.2 969.1,732.2 971.9,728.7 965.6,728.7" fill="#b9ad9d"/><polygon points="982.0,737.5 988.2,737.5 988.2,731.8 982.0,731.8" fill="#898884"/><polygon points="988.2,737.5 990.9,734.0 990.9,728.4 988.2,731.8" fill="#6d6c68"/><polygon points="982.0,731.8 988.2,731.8 990.9,728.4 984.7,728.4" fill="#b7b6b1"/><polygon points="1024.1,737.6 1030.4,737.6 1030.4,732.2 1024.1,732.2" fill="#898884"/><polygon points="1030.4,737.6 1033.1,734.1 1033.1,728.7 1030.4,732.2" fill="#6d6c68"/><polygon points="1024.1,732.2 1030.4,732.2 1033.1,728.7 1026.8,728.7" fill="#b7b6b1"/><polygon points="1034.1,737.6 1040.4,737.6 1040.4,731.6 1034.1,731.6" fill="#978671"/><polygon points="1040.4,737.6 1043.1,734.1 1043.1,728.2 1040.4,731.6" fill="#7a6b59"/><polygon points="1034.1,731.6 1040.4,731.6 1043.1,728.2 1036.9,728.2" fill="#bcb0a0"/><polygon points="971.4,737.6 977.6,737.6 977.6,732.0 971.4,732.0" fill="#978671"/><polygon points="977.6,737.6 980.4,734.1 980.4,728.5 977.6,732.0" fill="#7a6b59"/><polygon points="971.4,732.0 977.6,732.0 980.4,728.5 974.1,728.5" fill="#bcb0a0"/><polygon points="941.9,743.1 948.2,743.1 948.2,737.0 941.9,737.0" fill="#978671"/><polygon points="948.2,743.1 950.9,739.6 950.9,733.5 948.2,737.0" fill="#7a6b59"/><polygon points="941.9,737.0 948.2,737.0 950.9,733.5 944.6,733.5" fill="#bcb0a0"/><polygon points="1011.8,743.1 1018.1,743.1 1018.1,738.3 1011.8,738.3" fill="#9d886b"/><polygon points="1018.1,743.1 1020.8,739.7 1020.8,734.8 1018.1,738.3" fill="#806c52"/><polygon points="1011.8,738.3 1018.1,738.3 1020.8,734.8 1014.6,734.8" fill="#c2b298"/><polygon points="925.1,743.2 931.4,743.2 931.4,738.0 925.1,738.0" fill="#8f8273"/><polygon points="931.4,743.2 934.1,739.7 934.1,734.5 931.4,738.0" fill="#77695a"/><polygon points="925.1,738.0 931.4,738.0 934.1,734.5 927.9,734.5" fill="#b9ad9d"/><polygon points="977.3,743.3 983.5,743.3 983.5,737.9 977.3,737.9" fill="#898884"/><polygon points="983.5,743.3 986.3,739.8 986.3,734.4 983.5,737.9" fill="#6d6c68"/><polygon points="977.3,737.9 983.5,737.9 986.3,734.4 980.0,734.4" fill="#b7b6b1"/><polygon points="1004.1,743.6 1010.4,743.6 1010.4,737.5 1004.1,737.5" fill="#978671"/><polygon points="1010.4,743.6 1013.1,740.1 1013.1,734.0 1010.4,737.5" fill="#7a6b59"/><polygon points="1004.1,737.5 1010.4,737.5 1013.1,734.0 1006.9,734.0" fill="#bcb0a0"/><polygon points="984.1,743.6 990.3,743.6 990.3,739.0 984.1,739.0" fill="#898884"/><polygon points="990.3,743.6 993.0,740.1 993.0,735.5 990.3,739.0" fill="#6d6c68"/><polygon points="984.1,739.0 990.3,739.0 993.0,735.5 986.8,735.5" fill="#b7b6b1"/><polygon points="959.7,743.6 965.9,743.6 965.9,737.6 959.7,737.6" fill="#8a7d72"/><polygon points="965.9,743.6 968.6,740.1 968.6,734.1 965.9,737.6" fill="#73675c"/><polygon points="959.7,737.6 965.9,737.6 968.6,734.1 962.4,734.1" fill="#b3a89c"/><polygon points="994.8,743.6 1001.1,743.6 1001.1,738.3 994.8,738.3" fill="#978671"/><polygon points="1001.1,743.6 1003.8,740.2 1003.8,734.8 1001.1,738.3" fill="#7a6b59"/><polygon points="994.8,738.3 1001.1,738.3 1003.8,734.8 997.5,734.8" fill="#bcb0a0"/><polygon points="1028.9,743.7 1035.2,743.7 1035.2,738.8 1028.9,738.8" fill="#978671"/><polygon points="1035.2,743.7 1037.9,740.2 1037.9,735.3 1035.2,738.8" fill="#7a6b59"/><polygon points="1028.9,738.8 1035.2,738.8 1037.9,735.3 1031.7,735.3" fill="#bcb0a0"/><polygon points="949.7,743.8 955.9,743.8 955.9,738.8 949.7,738.8" fill="#8f8273"/><polygon points="955.9,743.8 958.7,740.3 958.7,735.3 955.9,738.8" fill="#77695a"/><polygon points="949.7,738.8 955.9,738.8 958.7,735.3 952.4,735.3" fill="#b9ad9d"/><polygon points="914.7,743.8 920.9,743.8 920.9,737.8 914.7,737.8" fill="#8f8273"/><polygon points="920.9,743.8 923.6,740.3 923.6,734.3 920.9,737.8" fill="#77695a"/><polygon points="914.7,737.8 920.9,737.8 923.6,734.3 917.4,734.3" fill="#b9ad9d"/><polygon points="930.9,743.9 937.2,743.9 937.2,738.8 930.9,738.8" fill="#8a7d72"/><polygon points="937.2,743.9 939.9,740.4 939.9,735.4 937.2,738.8" fill="#73675c"/><polygon points="930.9,738.8 937.2,738.8 939.9,735.4 933.6,735.4" fill="#b3a89c"/><polygon points="967.8,744.1 974.0,744.1 974.0,739.2 967.8,739.2" fill="#8f8273"/><polygon points="974.0,744.1 976.8,740.6 976.8,735.7 974.0,739.2" fill="#77695a"/><polygon points="967.8,739.2 974.0,739.2 976.8,735.7 970.5,735.7" fill="#b9ad9d"/><polygon points="1019.0,744.1 1025.2,744.1 1025.2,738.3 1019.0,738.3" fill="#9d886b"/><polygon points="1025.2,744.1 1027.9,740.6 1027.9,734.8 1025.2,738.3" fill="#806c52"/><polygon points="1019.0,738.3 1025.2,738.3 1027.9,734.8 1021.7,734.8" fill="#c2b298"/><polygon points="909.6,749.6 915.9,749.6 915.9,743.6 909.6,743.6" fill="#898884"/><polygon points="915.9,749.6 918.6,746.1 918.6,740.1 915.9,743.6" fill="#6d6c68"/><polygon points="909.6,743.6 915.9,743.6 918.6,740.1 912.4,740.1" fill="#b7b6b1"/><polygon points="927.9,749.7 934.2,749.7 934.2,744.6 927.9,744.6" fill="#9d886b"/><polygon points="934.2,749.7 936.9,746.2 936.9,741.1 934.2,744.6" fill="#806c52"/><polygon points="927.9,744.6 934.2,744.6 936.9,741.1 930.7,741.1" fill="#c2b298"/><polygon points="962.8,749.7 969.1,749.7 969.1,743.5 962.8,743.5" fill="#978671"/><polygon points="969.1,749.7 971.8,746.2 971.8,740.1 969.1,743.5" fill="#7a6b59"/><polygon points="962.8,743.5 969.1,743.5 971.8,740.1 965.5,740.1" fill="#bcb0a0"/><polygon points="935.1,749.9 941.3,749.9 941.3,745.1 935.1,745.1" fill="#8f8273"/><polygon points="941.3,749.9 944.1,746.5 944.1,741.6 941.3,745.1" fill="#77695a"/><polygon points="935.1,745.1 941.3,745.1 944.1,741.6 937.8,741.6" fill="#b9ad9d"/><polygon points="918.9,750.1 925.1,750.1 925.1,744.0 918.9,744.0" fill="#898884"/><polygon points="925.1,750.1 927.8,746.6 927.8,740.6 925.1,744.0" fill="#6d6c68"/><polygon points="918.9,744.0 925.1,744.0 927.8,740.6 921.6,740.6" fill="#b7b6b1"/><polygon points="979.9,750.1 986.1,750.1 986.1,745.1 979.9,745.1" fill="#978671"/><polygon points="986.1,750.1 988.9,746.6 988.9,741.7 986.1,745.1" fill="#7a6b59"/><polygon points="979.9,745.1 986.1,745.1 988.9,741.7 982.6,741.7" fill="#bcb0a0"/><polygon points="971.7,750.3 978.0,750.3 978.0,744.7 971.7,744.7" fill="#898884"/><polygon points="978.0,750.3 980.7,746.8 980.7,741.2 978.0,744.7" fill="#6d6c68"/><polygon points="971.7,744.7 978.0,744.7 980.7,741.2 974.4,741.2" fill="#b7b6b1"/><polygon points="944.6,750.3 950.8,750.3 950.8,745.6 944.6,745.6" fill="#8a7d72"/><polygon points="950.8,750.3 953.6,746.8 953.6,742.1 950.8,745.6" fill="#73675c"/><polygon points="944.6,745.6 950.8,745.6 953.6,742.1 947.3,742.1" fill="#b3a89c"/><polygon points="996.9,750.4 1003.2,750.4 1003.2,744.3 996.9,744.3" fill="#8f8273"/><polygon points="1003.2,750.4 1005.9,746.9 1005.9,740.8 1003.2,744.3" fill="#77695a"/><polygon points="996.9,744.3 1003.2,744.3 1005.9,740.8 999.7,740.8" fill="#b9ad9d"/><polygon points="1023.0,750.4 1029.2,750.4 1029.2,745.7 1023.0,745.7" fill="#8f8273"/><polygon points="1029.2,750.4 1032.0,746.9 1032.0,742.2 1029.2,745.7" fill="#77695a"/><polygon points="1023.0,745.7 1029.2,745.7 1032.0,742.2 1025.7,742.2" fill="#b9ad9d"/><polygon points="988.0,750.4 994.3,750.4 994.3,745.7 988.0,745.7" fill="#8f8273"/><polygon points="994.3,750.4 997.0,746.9 997.0,742.2 994.3,745.7" fill="#77695a"/><polygon points="988.0,745.7 994.3,745.7 997.0,742.2 990.8,742.2" fill="#b9ad9d"/><polygon points="952.4,750.4 958.6,750.4 958.6,745.6 952.4,745.6" fill="#9d886b"/><polygon points="958.6,750.4 961.4,747.0 961.4,742.1 958.6,745.6" fill="#806c52"/><polygon points="952.4,745.6 958.6,745.6 961.4,742.1 955.1,742.1" fill="#c2b298"/><polygon points="1014.3,750.6 1020.6,750.6 1020.6,745.5 1014.3,745.5" fill="#898884"/><polygon points="1020.6,750.6 1023.3,747.1 1023.3,742.0 1020.6,745.5" fill="#6d6c68"/><polygon points="1014.3,745.5 1020.6,745.5 1023.3,742.0 1017.0,742.0" fill="#b7b6b1"/><polygon points="1006.6,750.7 1012.9,750.7 1012.9,744.5 1006.6,744.5" fill="#8a7d72"/><polygon points="1012.9,750.7 1015.6,747.2 1015.6,741.0 1012.9,744.5" fill="#73675c"/><polygon points="1006.6,744.5 1012.9,744.5 1015.6,741.0 1009.4,741.0" fill="#b3a89c"/><polygon points="1010.2,755.9 1016.4,755.9 1016.4,750.6 1010.2,750.6" fill="#9d886b"/><polygon points="1016.4,755.9 1019.2,752.4 1019.2,747.1 1016.4,750.6" fill="#806c52"/><polygon points="1010.2,750.6 1016.4,750.6 1019.2,747.1 1012.9,747.1" fill="#c2b298"/><polygon points="994.4,755.9 1000.7,755.9 1000.7,750.2 994.4,750.2" fill="#8f8273"/><polygon points="1000.7,755.9 1003.4,752.5 1003.4,746.7 1000.7,750.2" fill="#77695a"/><polygon points="994.4,750.2 1000.7,750.2 1003.4,746.7 997.2,746.7" fill="#b9ad9d"/><polygon points="913.8,756.0 920.0,756.0 920.0,749.7 913.8,749.7" fill="#9d886b"/><polygon points="920.0,756.0 922.8,752.6 922.8,746.2 920.0,749.7" fill="#806c52"/><polygon points="913.8,749.7 920.0,749.7 922.8,746.2 916.5,746.2" fill="#c2b298"/><polygon points="957.8,756.1 964.1,756.1 964.1,750.1 957.8,750.1" fill="#978671"/><polygon points="964.1,756.1 966.8,752.6 966.8,746.6 964.1,750.1" fill="#7a6b59"/><polygon points="957.8,750.1 964.1,750.1 966.8,746.6 960.6,746.6" fill="#bcb0a0"/><polygon points="965.4,756.1 971.7,756.1 971.7,751.4 965.4,751.4" fill="#8a7d72"/><polygon points="971.7,756.1 974.4,752.6 974.4,747.9 971.7,751.4" fill="#73675c"/><polygon points="965.4,751.4 971.7,751.4 974.4,747.9 968.2,747.9" fill="#b3a89c"/><polygon points="985.5,756.2 991.8,756.2 991.8,750.3 985.5,750.3" fill="#898884"/><polygon points="991.8,756.2 994.5,752.7 994.5,746.8 991.8,750.3" fill="#6d6c68"/><polygon points="985.5,750.3 991.8,750.3 994.5,746.8 988.3,746.8" fill="#b7b6b1"/><polygon points="906.0,756.3 912.3,756.3 912.3,750.8 906.0,750.8" fill="#978671"/><polygon points="912.3,756.3 915.0,752.8 915.0,747.3 912.3,750.8" fill="#7a6b59"/><polygon points="906.0,750.8 912.3,750.8 915.0,747.3 908.8,747.3" fill="#bcb0a0"/><polygon points="932.3,756.7 938.5,756.7 938.5,750.7 932.3,750.7" fill="#978671"/><polygon points="938.5,756.7 941.2,753.2 941.2,747.2 938.5,750.7" fill="#7a6b59"/><polygon points="932.3,750.7 938.5,750.7 941.2,747.2 935.0,747.2" fill="#bcb0a0"/><polygon points="974.2,756.7 980.4,756.7 980.4,751.6 974.2,751.6" fill="#8f8273"/><polygon points="980.4,756.7 983.2,753.2 983.2,748.1 980.4,751.6" fill="#77695a"/><polygon points="974.2,751.6 980.4,751.6 983.2,748.1 976.9,748.1" fill="#b9ad9d"/><polygon points="948.2,756.7 954.5,756.7 954.5,750.8 948.2,750.8" fill="#978671"/><polygon points="954.5,756.7 957.2,753.3 957.2,747.3 954.5,750.8" fill="#7a6b59"/><polygon points="948.2,750.8 954.5,750.8 957.2,747.3 950.9,747.3" fill="#bcb0a0"/><polygon points="921.9,756.8 928.2,756.8 928.2,751.6 921.9,751.6" fill="#8a7d72"/><polygon points="928.2,756.8 930.9,753.3 930.9,748.1 928.2,751.6" fill="#73675c"/><polygon points="921.9,751.6 928.2,751.6 930.9,748.1 924.7,748.1" fill="#b3a89c"/><polygon points="1018.2,757.0 1024.4,757.0 1024.4,751.5 1018.2,751.5" fill="#9d886b"/><polygon points="1024.4,757.0 1027.2,753.5 1027.2,748.0 1024.4,751.5" fill="#806c52"/><polygon points="1018.2,751.5 1024.4,751.5 1027.2,748.0 1020.9,748.0" fill="#c2b298"/><polygon points="938.9,757.1 945.2,757.1 945.2,751.7 938.9,751.7" fill="#8a7d72"/><polygon points="945.2,757.1 947.9,753.6 947.9,748.2 945.2,751.7" fill="#73675c"/><polygon points="938.9,751.7 945.2,751.7 947.9,748.2 941.7,748.2" fill="#b3a89c"/><polygon points="996.2,762.4 1002.5,762.4 1002.5,757.5 996.2,757.5" fill="#8a7d72"/><polygon points="1002.5,762.4 1005.2,758.9 1005.2,754.1 1002.5,757.5" fill="#73675c"/><polygon points="996.2,757.5 1002.5,757.5 1005.2,754.1 999.0,754.1" fill="#b3a89c"/><polygon points="952.7,762.4 959.0,762.4 959.0,757.4 952.7,757.4" fill="#9d886b"/><polygon points="959.0,762.4 961.7,758.9 961.7,753.9 959.0,757.4" fill="#806c52"/><polygon points="952.7,757.4 959.0,757.4 961.7,753.9 955.4,753.9" fill="#c2b298"/><polygon points="1013.2,762.7 1019.4,762.7 1019.4,756.3 1013.2,756.3" fill="#898884"/><polygon points="1019.4,762.7 1022.2,759.2 1022.2,752.8 1019.4,756.3" fill="#6d6c68"/><polygon points="1013.2,756.3 1019.4,756.3 1022.2,752.8 1015.9,752.8" fill="#b7b6b1"/><polygon points="899.3,762.7 905.6,762.7 905.6,757.3 899.3,757.3" fill="#898884"/><polygon points="905.6,762.7 908.3,759.2 908.3,753.9 905.6,757.3" fill="#6d6c68"/><polygon points="899.3,757.3 905.6,757.3 908.3,753.9 902.0,753.9" fill="#b7b6b1"/><polygon points="909.3,762.7 915.6,762.7 915.6,757.1 909.3,757.1" fill="#898884"/><polygon points="915.6,762.7 918.3,759.2 918.3,753.6 915.6,757.1" fill="#6d6c68"/><polygon points="909.3,757.1 915.6,757.1 918.3,753.6 912.1,753.6" fill="#b7b6b1"/><polygon points="917.1,762.7 923.4,762.7 923.4,757.2 917.1,757.2" fill="#8f8273"/><polygon points="923.4,762.7 926.1,759.2 926.1,753.7 923.4,757.2" fill="#77695a"/><polygon points="917.1,757.2 923.4,757.2 926.1,753.7 919.9,753.7" fill="#b9ad9d"/><polygon points="927.6,762.7 933.9,762.7 933.9,756.5 927.6,756.5" fill="#898884"/><polygon points="933.9,762.7 936.6,759.2 936.6,753.1 933.9,756.5" fill="#6d6c68"/><polygon points="927.6,756.5 933.9,756.5 936.6,753.1 930.3,753.1" fill="#b7b6b1"/><polygon points="935.0,762.7 941.2,762.7 941.2,757.4 935.0,757.4" fill="#978671"/><polygon points="941.2,762.7 944.0,759.2 944.0,753.9 941.2,757.4" fill="#7a6b59"/><polygon points="935.0,757.4 941.2,757.4 944.0,753.9 937.7,753.9" fill="#bcb0a0"/><polygon points="944.3,762.7 950.5,762.7 950.5,756.9 944.3,756.9" fill="#978671"/><polygon points="950.5,762.7 953.3,759.2 953.3,753.4 950.5,756.9" fill="#7a6b59"/><polygon points="944.3,756.9 950.5,756.9 953.3,753.4 947.0,753.4" fill="#bcb0a0"/><polygon points="960.2,762.7 966.5,762.7 966.5,757.4 960.2,757.4" fill="#9d886b"/><polygon points="966.5,762.7 969.2,759.2 969.2,753.9 966.5,757.4" fill="#806c52"/><polygon points="960.2,757.4 966.5,757.4 969.2,753.9 962.9,753.9" fill="#c2b298"/><polygon points="969.0,762.7 975.2,762.7 975.2,757.2 969.0,757.2" fill="#8f8273"/><polygon points="975.2,762.7 977.9,759.2 977.9,753.8 975.2,757.2" fill="#77695a"/><polygon points="969.0,757.2 975.2,757.2 977.9,753.8 971.7,753.8" fill="#b9ad9d"/><polygon points="978.3,762.7 984.5,762.7 984.5,757.7 978.3,757.7" fill="#978671"/><polygon points="984.5,762.7 987.3,759.2 987.3,754.2 984.5,757.7" fill="#7a6b59"/><polygon points="978.3,757.7 984.5,757.7 987.3,754.2 981.0,754.2" fill="#bcb0a0"/><polygon points="988.7,762.7 994.9,762.7 994.9,757.8 988.7,757.8" fill="#8f8273"/><polygon points="994.9,762.7 997.6,759.2 997.6,754.3 994.9,757.8" fill="#77695a"/><polygon points="988.7,757.8 994.9,757.8 997.6,754.3 991.4,754.3" fill="#b9ad9d"/><polygon points="1005.3,762.7 1011.5,762.7 1011.5,758.0 1005.3,758.0" fill="#8f8273"/><polygon points="1011.5,762.7 1014.2,759.2 1014.2,754.6 1011.5,758.0" fill="#77695a"/><polygon points="1005.3,758.0 1011.5,758.0 1014.2,754.6 1008.0,754.6" fill="#b9ad9d"/><polygon points="1030.8,758.2 1157.8,758.2 1218.2,697.2 1091.2,697.2" fill="#ababad"/><path d="M1068.9 758.2L1129.3 697.2M1077.8 758.2L1138.2 697.2M1114.6 758.2L1175.0 697.2M1123.5 758.2L1183.9 697.2" stroke="#a0a0a2" stroke-width="1.2" fill="none"/><polygon points="1089.0,711.3 1111.7,711.3 1111.7,707.0 1089.0,707.0" fill="#6b6b6d"/><polygon points="1111.7,711.3 1118.6,704.3 1118.6,700.0 1111.7,707.0" fill="#555557"/><polygon points="1089.0,707.0 1111.7,707.0 1118.6,700.0 1095.9,700.0" fill="#bcbcbe"/><polygon points="1160.2,716.1 1188.2,716.1 1188.2,712.3 1160.2,712.3" fill="#6b6b6d"/><polygon points="1188.2,716.1 1200.0,704.2 1200.0,700.4 1188.2,712.3" fill="#555557"/><polygon points="1160.2,712.3 1188.2,712.3 1200.0,700.4 1172.0,700.4" fill="#bcbcbe"/><polygon points="1107.3,732.3 1131.1,732.3 1131.1,728.5 1107.3,728.5" fill="#6b6b6d"/><polygon points="1131.1,732.3 1143.2,720.1 1143.2,716.3 1131.1,728.5" fill="#555557"/><polygon points="1107.3,728.5 1131.1,728.5 1143.2,716.3 1119.4,716.3" fill="#bcbcbe"/><polygon points="1048.0,746.9 1066.4,746.9 1093.2,719.6 1082.5,719.6" fill="#bcbcbe"/><polygon points="1066.4,746.9 1066.4,752.4 1093.2,725.0 1093.2,719.6" fill="#555557"/><polygon points="1048.0,746.9 1066.4,746.9 1066.4,752.4 1048.0,752.4" fill="#6b6b6d"/><polygon points="1130.0,752.2 1152.6,752.2 1152.6,745.7 1130.0,745.7" fill="#6b6b6d"/><polygon points="1152.6,752.2 1160.2,744.6 1160.2,738.1 1152.6,745.7" fill="#555557"/><polygon points="1130.0,745.7 1152.6,745.7 1160.2,738.1 1137.5,738.1" fill="#bcbcbe"/><polygon points="1162.9,757.1 1299.6,757.1 1365.5,695.6 1223.6,695.6" fill="#bce3a6"/><polygon points="1209.1,757.1 1252.7,757.1 1314.2,695.6 1270.6,695.6" fill="#a2c5a3"/><path d="M1335.2 705.3v-4.5M1340.0 705.3v-4.5" stroke="#3a4a1c" stroke-width="1.8"/><path d="M1332.0 701.0C1330.0 694.0 1334.7 688.6 1337.3 688.4C1340.5 688.6 1345.2 694.0 1343.2 701.0Q1337.6 703.7 1332.0 701.0Z" fill="#56bf3c"/><path d="M1333.8 697.2Q1334.0 692.7 1337.1 689.5Q1338.9 693.6 1337.1 698.1Z" fill="#80da62"/><path d="M1337.3 702.1L1338.1 696.3L1339.7 701.7Z" fill="#2a8428"/><path d="M1233.3 705.9v-4.5M1238.1 705.9v-4.5" stroke="#3a4a1c" stroke-width="1.8"/><path d="M1230.1 701.6C1228.1 694.6 1232.8 689.2 1235.4 689.0C1238.6 689.2 1243.3 694.6 1241.3 701.6Q1235.7 704.3 1230.1 701.6Z" fill="#56bf3c"/><path d="M1231.9 697.8Q1232.1 693.3 1235.2 690.1Q1237.0 694.2 1235.2 698.7Z" fill="#80da62"/><path d="M1235.4 702.7L1236.2 696.9L1237.8 702.3Z" fill="#2a8428"/><path d="M1268.4 705.9v-4.5M1273.2 705.9v-4.5" stroke="#3a4a1c" stroke-width="1.8"/><path d="M1265.2 701.6C1263.2 694.6 1267.9 689.2 1270.5 689.0C1273.7 689.2 1278.4 694.6 1276.4 701.6Q1270.8 704.3 1265.2 701.6Z" fill="#56bf3c"/><path d="M1267.0 697.8Q1267.2 693.3 1270.3 690.1Q1272.1 694.2 1270.3 698.7Z" fill="#80da62"/><path d="M1270.5 702.7L1271.3 696.9L1272.9 702.3Z" fill="#2a8428"/><path d="M1304.0 705.9v-4.5M1308.8 705.9v-4.5" stroke="#3a4a1c" stroke-width="1.8"/><path d="M1300.8 701.6C1298.8 694.6 1303.5 689.2 1306.1 689.0C1309.3 689.2 1314.0 694.6 1312.0 701.6Q1306.4 704.3 1300.8 701.6Z" fill="#56bf3c"/><path d="M1302.6 697.8Q1302.8 693.3 1305.9 690.1Q1307.8 694.2 1306.0 698.7Z" fill="#80da62"/><path d="M1306.1 702.7L1306.9 696.9L1308.5 702.3Z" fill="#2a8428"/><polygon points="1228.7,706.4 1241.2,706.4 1241.2,701.8 1228.7,701.8" fill="#5f5f61"/><polygon points="1241.2,706.4 1244.9,702.7 1244.9,698.1 1241.2,701.8" fill="#48484a"/><polygon points="1228.7,701.8 1241.2,701.8 1244.9,698.1 1232.4,698.1" fill="#9a9a9c"/><polygon points="1322.5,709.7 1334.5,709.7 1334.5,706.5 1322.5,706.5" fill="#5f5f61"/><polygon points="1334.5,709.7 1337.6,706.6 1337.6,703.4 1334.5,706.5" fill="#48484a"/><polygon points="1322.5,706.5 1334.5,706.5 1337.6,703.4 1325.6,703.4" fill="#9a9a9c"/><polygon points="1265.9,717.7 1276.4,717.7 1276.4,712.7 1265.9,712.7" fill="#5f5f61"/><polygon points="1276.4,717.7 1281.3,712.8 1281.3,707.8 1276.4,712.7" fill="#48484a"/><polygon points="1265.9,712.7 1276.4,712.7 1281.3,707.8 1270.8,707.8" fill="#9a9a9c"/><path d="M1245.7 726.4v-4.5M1250.5 726.4v-4.5" stroke="#3a4a1c" stroke-width="1.8"/><path d="M1242.5 722.1C1240.5 715.1 1245.2 709.7 1247.8 709.5C1251.0 709.7 1255.7 715.1 1253.7 722.1Q1248.1 724.8 1242.5 722.1Z" fill="#56bf3c"/><path d="M1244.3 718.3Q1244.5 713.8 1247.6 710.6Q1249.4 714.7 1247.6 719.2Z" fill="#80da62"/><path d="M1247.8 723.2L1248.6 717.4L1250.2 722.8Z" fill="#2a8428"/><path d="M1213.4 727.4v-4.5M1218.2 727.4v-4.5" stroke="#3a4a1c" stroke-width="1.8"/><path d="M1210.2 723.1C1208.2 716.1 1212.9 710.7 1215.5 710.5C1218.7 710.7 1223.4 716.1 1221.4 723.1Q1215.8 725.8 1210.2 723.1Z" fill="#56bf3c"/><path d="M1212.0 719.3Q1212.2 714.8 1215.3 711.6Q1217.1 715.7 1215.3 720.2Z" fill="#80da62"/><path d="M1215.5 724.2L1216.3 718.4L1217.9 723.8Z" fill="#2a8428"/><path d="M1284.5 727.4v-4.5M1289.3 727.4v-4.5" stroke="#3a4a1c" stroke-width="1.8"/><path d="M1281.3 723.1C1279.3 716.1 1284.0 710.7 1286.6 710.5C1289.8 710.7 1294.5 716.1 1292.5 723.1Q1286.9 725.8 1281.3 723.1Z" fill="#56bf3c"/><path d="M1283.1 719.3Q1283.3 714.8 1286.4 711.6Q1288.2 715.7 1286.5 720.2Z" fill="#80da62"/><path d="M1286.6 724.2L1287.4 718.4L1289.0 723.8Z" fill="#2a8428"/><path d="M1311.5 731.8v-4.5M1316.3 731.8v-4.5" stroke="#3a4a1c" stroke-width="1.8"/><path d="M1308.3 727.5C1306.3 720.5 1311.0 715.1 1313.6 714.9C1316.8 715.1 1321.5 720.5 1319.5 727.5Q1313.9 730.2 1308.3 727.5Z" fill="#56bf3c"/><path d="M1310.1 723.7Q1310.3 719.2 1313.4 716.0Q1315.2 720.1 1313.5 724.6Z" fill="#80da62"/><path d="M1313.6 728.6L1314.4 722.8L1316.0 728.2Z" fill="#2a8428"/><polygon points="1241.1,744.7 1247.6,744.7 1247.6,739.7 1241.1,739.7" fill="#5f5f61"/><polygon points="1247.6,744.7 1251.9,740.4 1251.9,735.4 1247.6,739.7" fill="#48484a"/><polygon points="1241.1,739.7 1247.6,739.7 1251.9,735.4 1245.4,735.4" fill="#9a9a9c"/><path d="M1187.5 747.5v-4.5M1192.3 747.5v-4.5" stroke="#3a4a1c" stroke-width="1.8"/><path d="M1184.3 743.2C1182.3 736.2 1187.0 730.8 1189.6 730.6C1192.8 730.8 1197.5 736.2 1195.5 743.2Q1189.9 745.9 1184.3 743.2Z" fill="#56bf3c"/><path d="M1186.1 739.4Q1186.3 734.9 1189.4 731.8Q1191.2 735.8 1189.5 740.3Z" fill="#80da62"/><path d="M1189.6 744.3L1190.4 738.5L1192.0 743.9Z" fill="#2a8428"/><polygon points="1289.1,751.2 1295.1,751.2 1295.1,745.6 1289.1,745.6" fill="#5f5f61"/><polygon points="1295.1,751.2 1299.4,746.9 1299.4,741.3 1295.1,745.6" fill="#48484a"/><polygon points="1289.1,745.6 1295.1,745.6 1299.4,741.3 1293.4,741.3" fill="#9a9a9c"/><path d="M1283.5 751.2v-4.5M1288.3 751.2v-4.5" stroke="#3a4a1c" stroke-width="1.8"/><path d="M1280.3 746.9C1278.3 740.0 1283.0 734.5 1285.6 734.3C1288.8 734.5 1293.5 740.0 1291.5 746.9Q1285.9 749.6 1280.3 746.9Z" fill="#56bf3c"/><path d="M1282.1 743.1Q1282.3 738.6 1285.4 735.5Q1287.2 739.5 1285.5 744.0Z" fill="#80da62"/><path d="M1285.6 748.0L1286.4 742.2L1288.0 747.6Z" fill="#2a8428"/><path d="M1218.8 751.7v-4.5M1223.6 751.7v-4.5" stroke="#3a4a1c" stroke-width="1.8"/><path d="M1215.6 747.4C1213.6 740.5 1218.3 735.0 1220.9 734.8C1224.1 735.0 1228.8 740.5 1226.8 747.4Q1221.2 750.1 1215.6 747.4Z" fill="#56bf3c"/><path d="M1217.4 743.6Q1217.6 739.1 1220.7 736.0Q1222.6 740.0 1220.8 744.5Z" fill="#80da62"/><path d="M1220.9 748.5L1221.7 742.7L1223.3 748.1Z" fill="#2a8428"/><path d="M1253.3 751.7v-4.5M1258.1 751.7v-4.5" stroke="#3a4a1c" stroke-width="1.8"/><path d="M1250.1 747.4C1248.1 740.5 1252.8 735.0 1255.4 734.8C1258.6 735.0 1263.3 740.5 1261.3 747.4Q1255.7 750.1 1250.1 747.4Z" fill="#56bf3c"/><path d="M1251.9 743.6Q1252.1 739.1 1255.2 736.0Q1257.1 740.0 1255.3 744.5Z" fill="#80da62"/><path d="M1255.4 748.5L1256.2 742.7L1257.8 748.1Z" fill="#2a8428"/><polygon points="1182.3,752.2 1195.3,752.2 1195.3,747.0 1182.3,747.0" fill="#5f5f61"/><polygon points="1195.3,752.2 1200.2,747.3 1200.2,742.1 1195.3,747.0" fill="#48484a"/><polygon points="1182.3,747.0 1195.3,747.0 1200.2,742.1 1187.2,742.1" fill="#9a9a9c"/><polygon points="1315.0,758.8 1451.4,758.8 1517.4,698.1 1381.0,698.1" fill="#b2b2b4"/><path d="M1351.8 758.8L1417.8 698.1M1364.1 758.8L1430.1 698.1M1399.6 758.8L1465.6 698.1M1411.8 758.8L1477.8 698.1" stroke="#a8a8aa" stroke-width="1.4" fill="none"/><rect x="1424.7" y="692.9" width="3.2" height="14.6" fill="#3a3a3c"/><rect x="1433.8" y="691.6" width="3.9" height="15.9" fill="#3a3a3c"/><path d="M1434.2 692.1Q1434.8 684.4 1439.3 680.4L1444.3 686.4Q1438.3 689.4 1437.6 692.1Z" fill="#858587"/><circle cx="1442.3" cy="682.4" r="5.4" fill="#9b9b9d"/><rect x="1380.3" y="690.3" width="3.2" height="13.7" fill="#3a3a3c"/><path d="M1380.4 690.8Q1381.0 685.1 1388.4 681.1L1393.4 687.1Q1384.5 690.1 1383.8 690.8Z" fill="#858587"/><circle cx="1391.4" cy="683.1" r="5.4" fill="#9b9b9d"/><rect x="1475.6" y="696.1" width="4.5" height="13.4" fill="#3a3a3c"/><path d="M1476.3 696.6Q1476.9 685.7 1481.0 681.7L1486.0 687.7Q1480.4 690.7 1479.7 696.6Z" fill="#858587"/><circle cx="1484.0" cy="683.7" r="5.4" fill="#9b9b9d"/><polygon points="1416.2,714.4 1439.7,714.4 1439.7,710.5 1416.2,710.5" fill="#666668"/><polygon points="1439.7,714.4 1447.6,707.1 1447.6,703.2 1439.7,710.5" fill="#525254"/><polygon points="1416.2,710.5 1439.7,710.5 1447.6,703.2 1424.1,703.2" fill="#878789"/><polygon points="1373.8,715.7 1384.8,715.7 1384.8,706.6 1373.8,706.6" fill="#666668"/><polygon points="1384.8,715.7 1395.4,706.0 1395.4,696.9 1384.8,706.6" fill="#525254"/><polygon points="1373.8,706.6 1384.8,706.6 1395.4,696.9 1384.4,696.9" fill="#878789"/><polygon points="1465.1,717.0 1482.7,717.0 1482.7,713.1 1465.1,713.1" fill="#666668"/><polygon points="1482.7,717.0 1490.6,709.7 1490.6,705.8 1482.7,713.1" fill="#525254"/><polygon points="1465.1,713.1 1482.7,713.1 1490.6,705.8 1473.0,705.8" fill="#878789"/><rect x="1395.9" y="728.1" width="2.2" height="12.4" fill="#3a3a3c"/><rect x="1401.2" y="721.6" width="2.6" height="12.4" fill="#3a3a3c"/><rect x="1405.0" y="717.7" width="2.7" height="12.3" fill="#3a3a3c"/><rect x="1346.3" y="726.8" width="5.3" height="14.2" fill="#3a3a3c"/><path d="M1347.4 727.3Q1348.0 719.7 1351.8 715.7L1356.8 721.7Q1351.5 724.7 1350.8 727.3Z" fill="#858587"/><circle cx="1354.8" cy="717.7" r="5.4" fill="#9b9b9d"/><rect x="1439.0" y="729.4" width="5.9" height="14.6" fill="#3a3a3c"/><path d="M1440.4 729.9Q1441.0 721.0 1445.8 717.0L1450.8 723.0Q1444.5 726.0 1443.8 729.9Z" fill="#858587"/><circle cx="1448.8" cy="719.0" r="5.4" fill="#9b9b9d"/><polygon points="1384.8,749.0 1403.1,749.0 1403.1,743.1 1384.8,743.1" fill="#666668"/><polygon points="1403.1,749.0 1420.9,732.6 1420.9,726.7 1403.1,743.1" fill="#525254"/><polygon points="1384.8,743.1 1403.1,743.1 1420.9,726.7 1402.6,726.7" fill="#878789"/><polygon points="1333.3,751.6 1356.1,751.6 1356.1,744.4 1333.3,744.4" fill="#666668"/><polygon points="1356.1,751.6 1365.3,743.1 1365.3,735.9 1356.1,744.4" fill="#525254"/><polygon points="1333.3,744.4 1356.1,744.4 1365.3,735.9 1342.5,735.9" fill="#878789"/><polygon points="1428.6,752.3 1448.8,752.3 1448.8,747.0 1428.6,747.0" fill="#666668"/><polygon points="1448.8,752.3 1457.4,744.4 1457.4,739.1 1448.8,747.0" fill="#525254"/><polygon points="1428.6,747.0 1448.8,747.0 1457.4,739.1 1437.2,739.1" fill="#878789"/></g></g><g font-family='"Liberation Serif","Noto Serif CJK SC",serif' font-weight="700" font-size="20" fill="#6c6c6c"><text x="118.5" y="1704.6">LCZ 1</text><text x="118.5" y="1729.1" font-size="19.8">高密度高高度</text><text x="272.7" y="1702.9">LCZ 2</text><text x="272.7" y="1727.4" font-size="19.8">高密度中高度</text><text x="416.7" y="1701.9">LCZ 3</text><text x="416.7" y="1726.4" font-size="19.8">高密度低高度</text><text x="560.9" y="1701.9">LCZ 4</text><text x="560.9" y="1726.4" font-size="19.8">低密度高高度</text><text x="691.4" y="1701.5">LCZ 5</text><text x="691.4" y="1726.0" font-size="19.8">低密度中高度</text><text x="815.5" y="1703.7">LCZ 6</text><text x="815.5" y="1728.2" font-size="19.8">低密度低高度</text><text x="935.4" y="1702.6">LCZ 7</text><text x="935.4" y="1727.1" font-size="19.8">轻质低密度</text><text x="1070.2" y="1701.5">LCZ 8</text><text x="1070.2" y="1726.0" font-size="19.8">大型低密度</text><text x="1218.9" y="1701.5">LCZ 9</text><text x="1218.9" y="1726.0" font-size="19.8">稀疏村庄</text><text x="1368.0" y="1703.7">LCZ 10</text><text x="1368.0" y="1728.2" font-size="19.8">工业区</text></g></g>
<g font-family='"Liberation Serif","Noto Serif CJK SC",serif' font-weight="700" font-size="24" fill="#6e6e70"><rect x="1515" y="1141.1" width="15" height="15" fill="#4a8bc9"/><text x="1557" y="1157.9">夜晚<tspan font-size="26" dx="7">LT8_</tspan><tspan dx="2">广州</tspan></text><rect x="1515" y="1197.5" width="15" height="15" fill="#a9a9ab"/><text x="1557" y="1214.3">夜晚<tspan font-size="26" dx="7">Mod_</tspan><tspan dx="2">广州</tspan></text><rect x="1515" y="1253.8" width="15" height="15" fill="#2f5687"/><text x="1557" y="1270.6">夜晚<tspan font-size="26" dx="7">LT8_</tspan><tspan dx="2">香港</tspan></text><rect x="1515" y="1310.0" width="15" height="15" fill="#7f7f82"/><text x="1557" y="1326.8">夜晚<tspan font-size="26" dx="7">Mod_</tspan><tspan dx="2">香港</tspan></text><rect x="1515" y="1366.4" width="15" height="15" fill="#2b2b2b"/><text x="1557" y="1383.2">夜晚<tspan font-size="26" dx="7">AT_</tspan><tspan dx="2">香港</tspan></text></g>
<text transform="translate(46.3 1326) rotate(-90)" text-anchor="middle" font-family='"Liberation Serif","Noto Serif CJK SC",serif' font-weight="300" font-size="33" fill="#1d1d1d">均值化夜晚温度<tspan dx="2">/</tspan><tspan dx="1">℃</tspan></text>
<g font-family='"Liberation Serif","Noto Serif CJK SC",serif' font-size="31" fill="#1a1a1a" font-weight="300"><text x="758.6" y="1801.2">（</text><text x="792.8" y="1801" font-weight="400" font-size="29">b</text><text x="810.7" y="1801.2">）</text><text x="834" y="1801.2">夜</text><text x="867" y="1801.2">晚</text></g>
</svg></body></html>
